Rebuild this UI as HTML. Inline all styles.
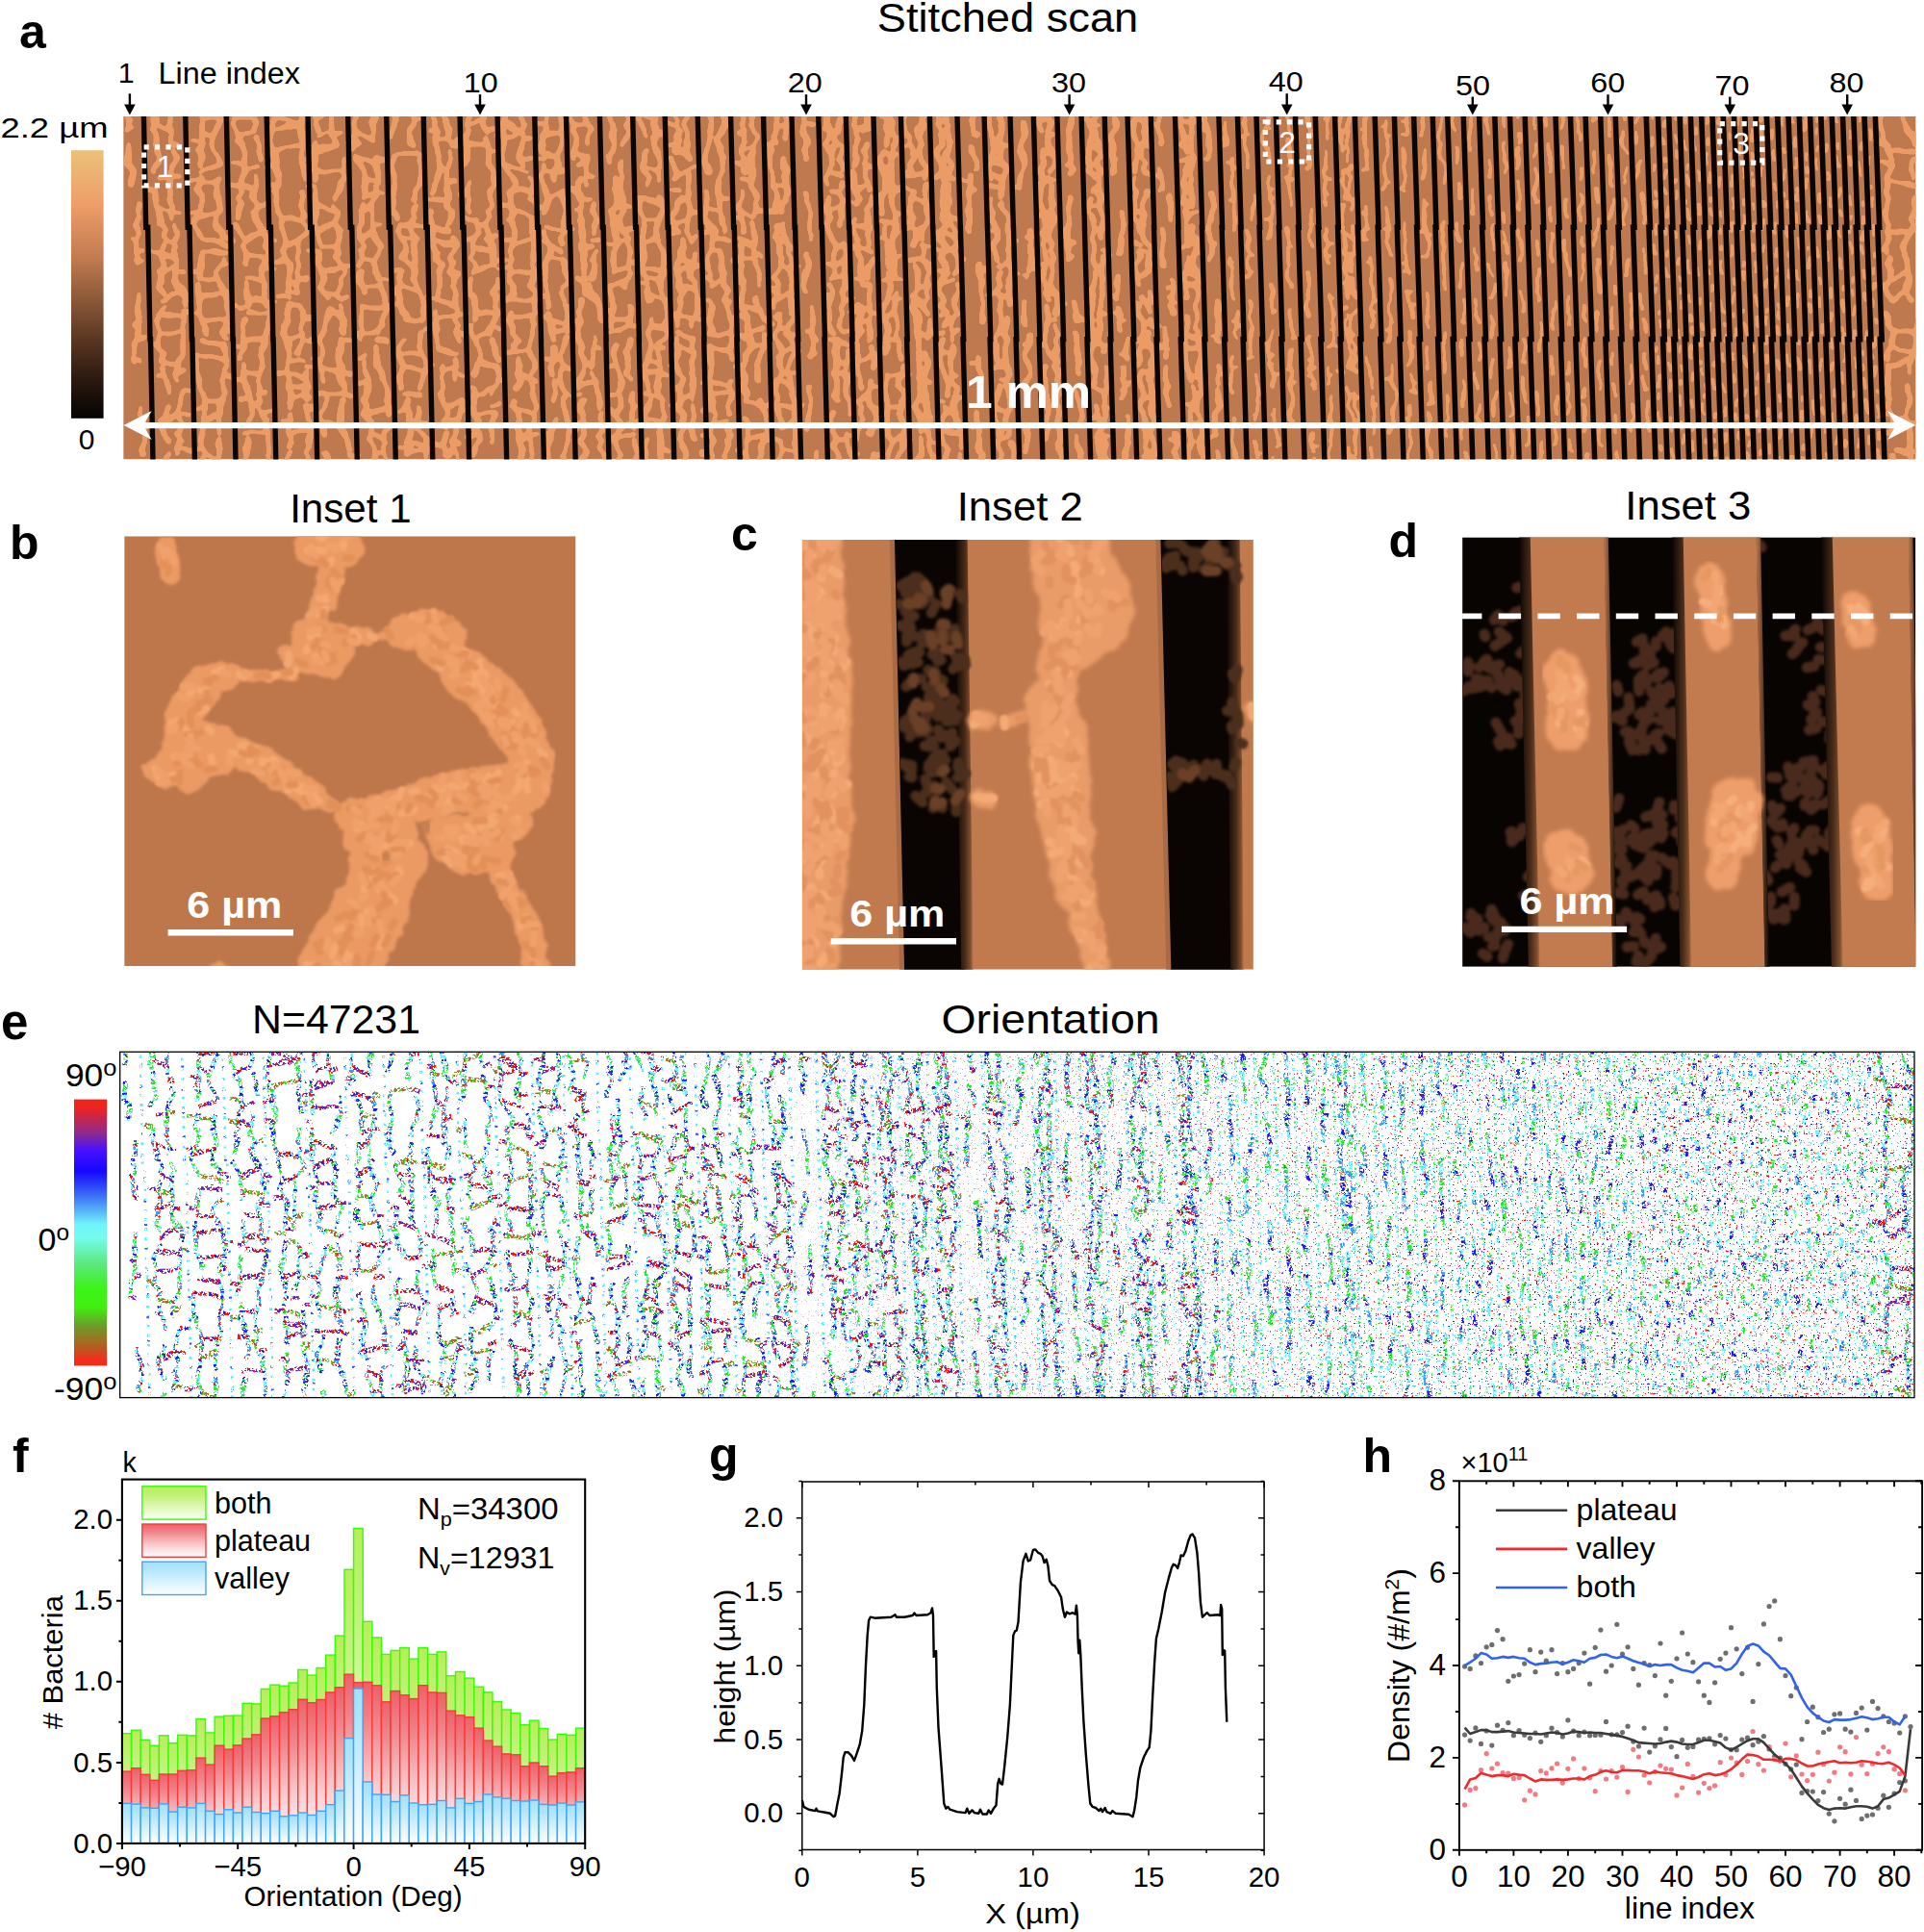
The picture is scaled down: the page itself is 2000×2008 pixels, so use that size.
<!DOCTYPE html>
<html lang="en"><head><meta charset="utf-8"><title>Figure</title>
<style>html,body{margin:0;padding:0;background:#fff}svg{display:block}text{font-family:"Liberation Sans",Arial,Helvetica,sans-serif}</style>
</head><body>
<svg width="2000" height="2008" viewBox="0 0 2000 2008">
<rect width="2000" height="2008" fill="#fff"/>
<defs><clipPath id="ca"><rect x="128.2" y="121.0" width="1863.4" height="356.4"/></clipPath><filter id="wob" filterUnits="userSpaceOnUse" x="100" y="100" width="1920" height="400"><feTurbulence type="fractalNoise" baseFrequency="0.045" numOctaves="2" seed="3"/><feDisplacementMap in="SourceGraphic" scale="10" xChannelSelector="R" yChannelSelector="G"/><feGaussianBlur stdDeviation="1.1"/><feComponentTransfer><feFuncA type="linear" slope="5" intercept="-2"/></feComponentTransfer></filter><path id="nv0" d="M132.6 109.1L132.8 116.2M132.8 116.2L132.9 121.4M132.9 121.4L133.4 128.9M134.1 163L135.3 171.1M135.6 187.2L135.6 190.8M142.2 232.6L146 241.6M143.3 257.2L142.9 262.9M145.1 269.3L143.5 273.5M145.1 323.2L144.8 330.1M140.7 356.3L140.2 364.6M140.4 371.7L140.4 374.6M148.1 438.6L147.5 445.7M149.2 452.1L147.2 461M162.2 143L164.4 150M161.2 206L162.8 213M164.9 234L171 241M171 241L167.9 248M170.7 318L166.5 325M166.5 325L164 332M166.7 346L165.7 353M167.9 381L171.7 388M171.7 388L173.3 395M173.3 395L174.7 402M175.1 423L171.9 430M172.6 451L175.3 458M178.2 115L175.6 122M177.6 136L178 143M178 143L178 150M180.6 157L184.3 164M177.6 220L177.7 227M182.6 248L180.7 255M180.7 255L180.9 262M180.9 262L183.9 269M184.1 276L182 283M190.6 325L190.3 332M190.3 332L189.6 339M189.6 339L188.8 346M186.4 374L184.7 381M183.4 388L186.1 395M191.7 409L190.6 416M190.6 416L188.5 423M185.3 430L185.1 437M187.6 444L184.7 451M188.3 458L185.4 465M210 136L210.2 143M210.2 143L210.3 150M211.1 185L209.2 192M209.2 192L205.2 199M211.1 262L209.4 269M203.9 304L207.8 311M205.5 325L209.4 332M209.4 332L214.1 339M205.8 374L205.9 381M205.9 381L206.1 388M212.2 437L211.2 444M228.8 122L226.3 129M226.3 129L224.3 136M224.3 136L222.2 143M226.8 185L222.7 192M224.7 199L228.5 206M232.5 269L229 276M229 276L226 283M226 283L226.3 290M228.2 297L232.4 304M236 325L235.7 332M235.7 332L236.2 339M233 360L237 367M237 367L237.4 374M233.7 409L230.2 416M227 423L227.3 430M247 143L250.7 150M252.2 157L252.9 164M252.9 164L253.1 171M250.6 185L250.5 192M244.1 234L250.3 241M256.9 269L257.1 276M254.9 297L254.6 304M254.6 304L257.8 311M253.4 346L252.7 353M250.1 367L248.3 374M252.8 388L252.4 395M252.4 395L253.7 402M256.7 409L260 416M260 416L260.5 423M265.8 115L264.2 122M264.2 122L266.4 129M266.4 129L262.7 136M270.5 157L272.6 164M267.7 192L264.3 199M266.1 213L264.3 220M273.7 241L275.9 248M275.9 248L273.5 255M276.4 262L276.6 269M274.5 276L273 283M274.2 290L277.2 297M272.5 360L271.7 367M271.3 381L269.8 388M269.8 388L268.8 395M268.8 395L271.7 402M272.5 430L276.9 437M277 451L278.9 458M278.9 458L281.1 465M278.9 472L279.4 479M286.2 122L282.9 129M288.3 171L288.4 178M293.1 227L292.6 234M296.9 255L294.6 262M294.6 262L296.8 269M299.4 283L299.5 290M299.5 290L299.7 297M299.7 297L299.8 304M298.1 325L299.5 332M301.5 367L299.3 374M299.3 374L298.8 381M299.9 472L296.9 479M314.6 150L314.9 157M315.7 171L315.8 178M316.7 220L313.4 227M310.9 262L307.9 269M308 276L308.2 283M308.2 283L310.2 290M310.2 290L309 297M315.8 332L313.3 339M316.3 346L315.7 353M315.7 353L313.2 360M317.2 395L318 402M320.2 430L323.3 437M323.3 437L323.5 444M325.4 115L325.6 122M327.7 129L331.7 136M327.3 178L327 185M329.2 220L329.4 227M329.4 227L328.1 234M328.1 234L329.8 241M332 269L330.8 276M330.8 276L333.6 283M337 290L334.8 297M338.9 304L339 311M341.5 325L341.3 332M337.6 339L336 346M332.6 360L333.7 367M332.9 374L333.1 381M333.1 381L336.6 388M336.6 388L337.4 395M339.9 416L338.1 423M338.1 423L334.5 430M334.3 437L335.3 444M347.4 136L347.4 143M357.2 164L357.3 171M357.3 171L357.5 178M354 192L352.5 199M352.5 199L350.2 206M351.2 220L351.4 227M351.4 227L348.6 234M352.5 248L350.2 255M352.4 262L349.9 269M355.1 297L350.9 304M352.9 318L353.1 325M354.8 353L353.2 360M357.1 402L357 409M354 444L357 451M357 451L361 458M369.8 122L367.3 129M367.3 129L368.5 136M370.9 150L367.9 157M371.4 164L375.4 171M375.4 220L374.8 227M373.5 241L372.7 248M372.7 248L377.4 255M377.1 297L379 304M376 318L374.8 325M377.8 346L374 353M380.1 374L378.4 381M378.4 381L378.9 388M381.4 402L380.4 409M380.4 409L378.1 416M378.1 416L381.2 423M381.2 423L379.8 430M379.8 430L384.3 437M385.5 444L383.3 451M387.2 472L387.3 479M385.6 115L389.4 122M388.2 136L386.6 143M390.6 164L392.9 171M392.4 178L392.2 185M392.2 185L388.1 192M389.9 199L389.7 206M389.9 241L391.4 248M391.4 248L395.5 255M390.5 269L390.7 276M390.7 276L390.8 283M390.8 283L393.4 290M400.1 311L402.1 318M398.6 325L397.4 332M397.4 332L396.4 339M393 374L393.2 381M403.4 409L403.8 416M410 122L408.8 129M408.5 185L408.7 192M409 206L409.2 213M409.2 213L409.3 220M417.9 283L415.2 290M415.2 290L415.7 297M416.7 311L418.1 318M419.5 325L423.3 332M416.1 360L414.2 367M421.7 423L424.4 430M432.2 122L429.9 129M425.9 136L426.7 143M433.2 164L436 171M436 171L436.1 178M433.4 199L431.7 206M427.9 234L428.9 241M429.4 262L429.5 269M431.9 283L430 290M433.3 297L436.7 304M439 318L437.2 325M438.6 346L437.3 353M441.8 374L442.2 381M442.2 381L439.3 388M439.3 388L437.6 395M438.1 451L442.1 458M455.1 171L456.7 178M447.9 220L448 227M448 227L449.1 234M450 255L454 262M455.5 283L456.7 290M459 297L457.5 304M458 395L460.3 402M460.3 402L458.3 409M463 423L463.9 430M462.3 437L464.2 444M464.4 451L464.1 458M462.2 465L462.6 472M462.9 122L464.5 129M464.5 129L467.2 136M467.3 171L464.2 178M464.7 199L465.4 206M465.4 206L465 213M465 213L469.2 220M469.2 220L468.2 227M468.2 227L465.5 234M469.3 248L473.4 255M470.4 262L467.6 269M470.4 276L468.1 283M474 374L477.5 381M476.6 437L474.6 444M474.1 451L472.1 458M485.3 122L483.7 129M484 143L484.2 150M487.4 164L484.7 171M488.6 192L485.3 199M485.3 199L487.3 206M487.3 206L486.7 213M492.4 227L495.4 234M493.6 262L489.2 269M493.2 318L493.4 325M493.4 325L492.9 332M489.8 339L490 346M495.3 381L491.3 388M491.3 402L491.5 409M491.7 416L492.6 423M492 430L494.9 437M494.9 437L492.3 444M496.4 451L497 458M506.1 115L504.7 122M502.8 129L505.6 136M509.7 171L513 178M513 178L512.7 185M510.5 213L506.5 220M506.5 220L510 227M510 227L506.2 234M506.2 234L508.5 241M508.5 241L505.7 248M510.5 262L513.4 269M515.2 297L512.7 304M510.8 339L508 346M517.9 388L519.4 395M519.4 395L516.4 402M516.4 402L512.4 409M513.6 430L511.9 437M510.3 444L511.2 451M523.3 129L523.6 136M523.4 157L523.5 164M523.5 164L525.6 171M531.7 185L534.3 192M536.6 241L533.2 248M530.7 262L531 269M528 276L529.1 283M528.7 332L532.7 339M534.8 360L535.8 367M541 115L541.5 122M545.3 129L542.7 136M545.7 143L541.8 150M548.3 185L552.1 192M552.3 199L551.2 206M554.4 241L554.6 248M554.9 262L553.8 269M555.1 290L551.7 297M556.1 311L556.2 318M552.4 346L550.4 353M552.9 402L552.1 409M555.2 416L558.6 423M558.6 423L555.2 430M555 437L550.6 444M551.1 451L553.1 458M552.6 472L551.4 479M564.5 143L564 150M564 150L561.9 157M567 171L565.8 178M564.9 192L568.2 199M568.2 199L571.2 206M573.6 262L569.2 269M566 283L567.9 290M569.1 311L568.5 318M575.6 346L575.7 353M576 367L576.2 374M576.7 395L576.2 402M576.2 402L577.1 409M575.6 444L574 451M574 451L572.7 458M572.7 458L571.3 465M583.8 136L583.9 143M584.1 150L582.2 157M579.4 171L576.7 178M576.7 178L576.8 185M584.6 199L583.2 206M585.6 213L585.8 220M585.8 220L586 227M586 227L586.1 234M583.9 248L587 255M586.8 269L585.8 276M587.6 311L588.1 318M588.1 318L589.4 325M589.4 325L588.7 332M589.7 339L589.9 346M583.9 367L582.4 374M586.3 381L582.7 388M585.1 402L589.7 409M589.7 409L586.9 416M586.5 423L588.4 430M588.4 430L590.3 437M590.3 437L592.2 444M592.4 451L590.2 458M584.8 472L586.7 479M595.8 136L597.9 143M597.9 143L597 150M597 150L597.1 157M601.1 199L604.7 206M605.1 220L605 227M605 227L604.7 234M604.7 234L604.3 241M607.8 290L608 297M605.2 318L603.4 325M603.4 325L604.1 332M603.9 360L602.9 367M602.9 367L606.3 374M604.9 388L601.5 395M605.9 465L609.2 472M609.2 115L609.4 122M616 136L613.8 143M620.1 227L618.1 234M617.6 353L616.1 360M619.6 395L619.4 402M626.6 430L626.5 437M621.8 451L625.9 458M625.9 458L623.5 465M636.5 143L638 150M635.5 157L631.3 164M638.9 185L639 192M638.8 318L636.5 325M640 360L637.4 367M637.4 367L638.4 374M638.4 374L640.6 381M643.1 388L644.8 395M644.8 395L645 402M645 402L643.1 409M643.1 409L645.3 416M645.5 444L641.8 451M638.1 458L641 465M651.1 129L652.8 136M652.8 136L650.6 143M650.6 143L648 150M646.2 171L645.3 178M645.3 178L645.4 185M645.4 185L645.6 192M646 206L646.1 213M652.3 248L652.3 255M656.6 262L656.5 269M656.5 269L653.9 276M651.8 290L649.1 297M651.2 388L654.6 395M657.1 416L660.7 423M661.7 465L661.9 472M670.7 136L671.8 143M672.2 157L672.4 164M668.8 171L669 178M672.9 185L671.5 192M665.4 220L669.9 227M669.1 241L667.7 248M668.6 255L667.3 262M667.3 262L670 269M670 269L668.5 276M668.5 276L668.3 283M672.7 290L672.4 297M677.2 332L677.6 339M677.6 339L675 346M670.1 381L670.3 388M670.3 388L672.4 395M672.4 395L674.5 402M674.9 416L672.4 423M672.4 423L671.3 430M671.3 430L671.7 437M672.2 465L672.4 472M679.8 115L681.6 122M679.6 129L684.1 136M684.1 136L680.5 143M678.7 150L682.5 157M682.5 157L684.4 164M684.2 206L688.3 213M683.6 234L681.5 241M681.5 241L682.5 248M689.6 276L690.9 283M690.9 283L686.7 290M686.7 290L687.8 297M691.8 318L691.9 325M692.1 332L691.6 339M684.6 374L685.1 381M685.1 381L685 388M688.5 423L689.1 430M686.2 437L686.4 444M686.4 444L686.6 451M686.9 465L687.1 472M705.4 136L703.2 143M702.1 171L705.1 178M707.2 206L703.2 213M702.3 220L700 227M708.1 248L708.8 255M709.5 269L706.1 276M706.1 276L704 283M710.4 304L706.8 311M704.2 325L702.6 332M702.6 332L702.8 339M710.4 395L707.5 402M707.8 409L707.9 416M707.9 416L706.9 423M707.9 437L711.6 444M711.1 472L709.3 479M716.3 115L715.2 122M713.5 136L714 143M712.6 150L712.4 157M712.4 157L715.8 164M717.2 192L716.5 199M716.7 227L716.1 234M720.2 269L722.6 276M722.9 304L724.7 311M724.7 325L722.1 332M719.2 402L719.8 409M719.7 423L721 430M711.6 444L720.1 437M737.1 115L738.6 122M738.6 122L739.4 129M733.3 206L732.9 213M740.6 255L740 262M735.5 276L739.5 283M737.8 325L736.7 332M736.7 332L738.9 339M737.3 367L737.5 374M738 395L738.2 402M738.4 409L738.7 416M741.9 430L741.3 437M739.3 444L739.5 451M739.8 465L742.2 472M752.9 115L753.9 122M753.9 122L754.5 129M748 185L747.6 192M747.8 199L748.7 206M748.1 213L748.3 220M754.9 304L753 311M758.1 402L761.6 409M756.8 423L758.1 430M755.3 444L757.4 451M755.2 472L755.4 479M768.3 115L772.2 122M771 143L770.6 150M770.2 206L767.3 213M772 255L771 262M769.3 269L771.3 276M770.3 304L770.4 311M779.9 346L779.7 353M772.3 381L772.1 388M772.1 388L776.3 395M776.3 395L772.5 402M772.5 402L776.4 409M777.7 444L779 451M779 451L775.7 458M781.7 122L780.7 129M787.7 143L783.9 150M783.9 150L783.4 157M781.2 171L781.3 178M781.5 185L781.7 192M781.7 192L785.4 199M785.4 199L788.3 206M783.6 241L783.8 248M784.2 262L784.3 269M784.3 269L784.5 276M785.4 311L789.1 318M794.9 360L791.2 367M791.2 367L790.4 374M788.9 416L792.5 423M805.6 129L806 136M806 136L804.4 143M800.8 157L800.9 164M800.9 164L800 171M804.8 192L807.7 199M807.9 206L808.1 213M808.1 213L804.4 220M809.4 241L805.1 248M805.1 248L809.2 255M810.3 276L808.4 283M809.2 325L811.6 332M812.6 388L808.2 395M812.4 465L812.5 472M817.6 129L817 136M819.4 192L820 199M820 199L817.5 206M814.9 248L818.9 255M822.4 269L822.5 276M822.7 283L822.9 290M822.9 290L821.3 297M823.3 304L820.8 311M824 332L821.2 339M824.6 367L821.2 374M818.7 381L818.2 388M818.2 388L820.4 395M824.4 409L825.9 416M826.2 430L826.4 437M826.8 451L827 458M838.6 116.7L836.2 121.9M835.3 135.9L837.7 144M837.7 144L838.5 149.5M838.8 200.2L839 208.8M842.9 245L841.5 250.6M836.3 289.9L836.5 297.4M836.5 297.4L838.6 301.7M843.6 343.4L843.7 349.2M843.7 349.2L845.8 354.3M841.2 401.8L841.4 409M848.5 524.8L849.6 532M849.6 532L847.6 537.8M862 143L858.9 150M858.9 150L862.4 157M865.2 304L863.9 311M863.9 311L861.6 318M861.8 325L862 332M868.7 360L868 367M868 367L868.9 374M869.9 395L870.1 402M870.1 402L866.9 409M874.1 115L874.3 122M875.1 199L876.6 206M876.6 206L872.4 213M873.8 220L875.1 227M878.4 269L878.9 276M877.4 304L879.9 311M881.3 381L877.7 388M879.5 402L878.7 409M882.2 416L882.4 423M879.7 451L881.6 458M881.6 458L882.8 465M883.8 472L883.9 479M862.4 157L870.3 150M891.2 136L891.8 143M886.2 185L886.4 192M886.4 192L888.7 199M888.7 199L890.9 206M888.1 241L891.6 248M893.1 325L891.8 332M891.8 332L890.8 339M895 346L890.7 353M891.2 374L891.4 381M891.4 381L891.6 388M897.1 423L894.7 430M893.9 451L893.5 458M901.6 115L902.9 122M903 129L899.2 136M901.6 150L898.7 157M898 185L899.6 192M899.6 192L902.3 199M902.4 283L901.2 290M902.8 346L903.6 353M909.7 374L907.5 381M907.1 402L904 409M904.2 416L906.8 423M906.8 423L908.8 430M909.5 472L906 479M919.5 115L919.7 122M919.9 129L920.1 136M917.8 157L916.5 164M916.5 164L915 171M915.6 213L915.8 220M920.4 234L919.5 241M922.7 262L924.1 269M924.7 290L922.8 297M923.3 304L923.3 311M923.3 311L920.1 318M922.2 339L921.8 346M921.8 346L919.2 353M919.2 353L923.4 360M923.4 360L920.3 367M922.9 423L922.4 430M926.3 458L923.7 465M923.7 465L922.5 472M924.9 122L926.8 129M929.8 143L928.2 150M927.7 213L928.4 220M932.2 234L932 241M928.6 248L928.8 255M928.8 255L929 262M931.1 283L929.8 290M930.7 325L932.6 332M936.4 416L937.9 423M940.1 444L939.1 451M938.1 458L938.4 465M941.9 129L942 136M950 199L946.6 206M947.1 234L951.3 241M951.5 276L953.5 283M953.5 283L953.7 290M953.7 290L953.9 297M953.9 297L950.1 304M951.3 318L954.3 325M954.8 353L955 360M955 360L955.2 367M955.4 374L955.6 381M955.6 381L955.8 388M953.1 416L951.1 423M957.4 444L957.6 451M957.8 458L958 465M958 465L958.2 472M954.8 143L958 150M955.2 157L958.1 164M957.8 241L957.9 248M958.1 255L961.3 262M965.5 283L962.8 290M967.8 346L965.9 353M964.4 381L961.3 388M962.2 423L962.4 430M963 444L965.5 451M953.4 311L960.2 318M955.8 388L964.4 381M955.3 402L961.5 395M975 157L978.1 164M979.6 171L979.8 178M980.4 199L980.6 206M980.7 213L980.9 220M981.3 234L978.4 241M976.6 297L976.8 304M981 311L978.3 318M978.3 318L983 325M980 353L977.8 360M978 367L978.2 374M978.2 374L979.1 381M984.2 395L985.6 402M980.3 451L980.7 458M982.8 472L981.1 479M984.3 157L984.5 164M986 220L986.2 227M991.7 241L990.1 248M990.1 248L993.9 255M994.5 276L991 283M994.2 297L995.2 304M991.7 332L989.6 339M991.2 346L989.3 353M989.9 374L990.1 381M990.1 381L990.5 388M990.5 388L990.5 395M983.1 423L991.5 430M1011.2 124.6L1012.2 130.5M1012.6 165.5L1013.8 174.5M1006.4 211.3L1005.9 220.2M1019.1 283.8L1020.1 290M1017.3 378.1L1017.1 386.1M1017.1 386.1L1018.5 394.6M1014.4 436.9L1017.2 444.5M1032.1 227L1034.5 234M1034.5 234L1037.1 241M1036.2 248L1032 255M1039.4 297L1035.1 304M1040.4 332L1040.6 339M1040.8 346L1035.8 353M1037.1 360L1036.5 367M1037.2 409L1036 416M1036.4 430L1036.8 437M1036.8 437L1041.1 444M1042.2 136L1039.6 143M1040.2 164L1044.3 171M1046.3 178L1043.3 185M1043.3 185L1042.7 192M1042.7 192L1041.2 199M1041.2 199L1041.4 206M1045.3 220L1048.1 227M1049.2 262L1049.3 269M1047.5 297L1049.3 304M1045.8 339L1045.5 346M1045.5 346L1047.6 353M1047.6 353L1045.1 360M1045.1 360L1045.3 367M1045.3 367L1045.6 374M1046.5 381L1049.2 388M1049.2 388L1046.2 395M1046.6 409L1048.1 416M1047.6 430L1047.4 437M1047.4 437L1047.6 444M1051.6 458L1054.3 465M1071 265.6L1071.5 272.3M1071.5 272.3L1069.9 277.9M1065.4 329.3L1063.6 336.7M1069.4 354.5L1068.5 360.9M1068.5 360.9L1066.4 368.3M1066.4 368.3L1068 376.8M1068 376.8L1069.3 383.5M1082.7 192L1081.6 199M1081.8 206L1084 213M1087.1 234L1083.2 241M1084 283L1084.2 290M1084.2 290L1086.6 297M1085.5 353L1085.4 360M1086.6 402L1086.9 409M1086.9 409L1087.1 416M1087.7 437L1092.2 444M1089.6 115L1090.5 122M1090.5 122L1091.8 129M1091.8 129L1089.8 136M1095.2 164L1095.2 171M1093.1 227L1095 234M1092.1 241L1092.3 248M1093.8 262L1094.3 269M1093.1 276L1093.8 283M1100.5 346L1098.7 353M1097.3 367L1097.9 374M1100 388L1099 395M1099 395L1101.3 402M1101.3 402L1101.5 409M1101.5 409L1100.3 416M1100.9 423L1102.1 430M1099.8 465L1103.1 472M1103.1 472L1103.6 479M1111.5 133.3L1112.6 142M1114.9 175.5L1113.2 179.6M1111.8 206.1L1112 212.7M1109.8 226.2L1109.6 233.4M1109.9 246L1110.1 253.2M1110.1 253.2L1110.3 258.8M1116.8 354.7L1119.4 363.6M1122.5 496.5L1120.2 504.1M1120.2 504.1L1118.3 512.5M1129 115L1131.7 122M1131.7 122L1132.6 129M1130.3 164L1134 171M1134.9 206L1131.8 213M1131.8 213L1132 220M1135.2 227L1137.5 234M1138.8 283L1139 290M1139 290L1137.3 297M1134.5 311L1134.7 318M1134.7 318L1135 325M1135.6 346L1138.4 353M1138.4 353L1137.4 360M1135.4 367L1135.6 374M1136.2 381L1136 388M1136 388L1136.7 395M1139.6 171L1143.3 178M1143.3 178L1140 185M1141.5 199L1144.8 206M1146.4 227L1146.6 234M1147.7 276L1146.8 283M1146.8 283L1148.1 290M1144.6 346L1144 353M1148.6 360L1149 367M1149 381L1149.6 388M1149.6 388L1150.4 395M1150.8 409L1149.6 416M1146.9 451L1147.1 458M1147.1 458L1148 465M1134 150L1142.6 157M1132 178L1140 185M1136.5 199L1140.4 192M1137.4 360L1144 353M1156.5 109.9L1156.7 117.5M1156.7 117.5L1158.5 124.3M1160.2 130.3L1158.9 136.8M1166.1 227.5L1166.1 234.2M1160.2 287.3L1160.4 293.9M1164.8 326.4L1164 332.3M1166.2 391.8L1167.2 398.3M1167.2 398.3L1168.3 405.3M1171.8 433.4L1171.9 438.4M1171.9 438.4L1171.8 444.2M1173.7 452.3L1173.2 459.5M1170.1 475.8L1170.1 482M1170.1 482L1172.4 484.6M1177.5 129L1177.8 136M1177.8 136L1180.3 143M1180.3 143L1183.1 150M1180.3 227L1184.6 234M1182.6 276L1181.7 283M1187 332L1188.5 339M1188.1 346L1186.2 353M1186.2 353L1188.3 360M1188.3 360L1185.2 367M1187.5 374L1185.2 381M1188.2 388L1184.5 395M1189 430L1190.6 437M1191.2 458L1189.1 465M1189.1 465L1191 472M1187.7 157L1188.1 164M1188.1 164L1192.5 171M1193.9 206L1189.6 213M1194.3 269L1195.8 276M1195.8 276L1196 283M1193.6 318L1197.2 325M1195 346L1194.1 353M1196.7 360L1197.5 367M1197.8 374L1198 381M1198 381L1198.2 388M1199.1 416L1197.8 423M1197.6 430L1199.7 437M1197.7 444L1196.7 451M1186.4 311L1193.6 318M1205 106.3L1205.3 114M1207 121.6L1205.4 128.8M1204.6 135.5L1206.9 141.6M1205.4 175.9L1205.6 183.9M1205.6 183.9L1205.9 192.5M1210.5 270.8L1210.4 277.9M1217.6 302.3L1218.5 309.6M1218.5 309.6L1217.4 317.5M1219.9 322.9L1220 325.7M1210.4 352.5L1209.7 359.3M1210.5 380.9L1210.7 388.3M1229.7 206L1233.5 213M1231.1 220L1235.1 227M1235.3 234L1235.1 241M1236 269L1233.8 276M1232 297L1231.7 304M1232.2 353L1232.4 360M1232.7 367L1232.9 374M1239.1 402L1239.3 409M1235.4 444L1235.2 451M1241.3 122L1239.4 129M1237.9 136L1236.6 143M1239.1 164L1237.4 171M1237.4 171L1237.6 178M1238.3 199L1238.5 206M1240.1 269L1240.3 276M1246 290L1244.2 297M1244.2 297L1246.2 304M1246.2 304L1245.4 311M1242.9 318L1243.4 325M1244.7 332L1242.2 339M1242.2 339L1245.1 346M1246 353L1245.3 360M1248.5 402L1248.2 409M1248.2 409L1245.5 416M1245.5 416L1245.5 423M1245.5 423L1246.2 430M1247.2 458L1247.1 465M1247.1 465L1249.4 472M1249.4 472L1250.9 479M1238.3 423L1246.2 430M1253.1 128.5L1253.2 134.2M1253.2 134.2L1255 142.7M1259.2 221.8L1258.7 228.2M1257 234.9L1256.2 241M1256.2 241L1256.3 247.6M1265.7 318.5L1266.3 326.6M1267 380.5L1267.1 386M1264.8 411.7L1267.2 417.7M1267.2 417.7L1267.8 423.6M1265.7 469.6L1266 477.4M1266 477.4L1268.6 483.3M1267.2 489.6L1268.1 498.6M1268.2 511.7L1270.1 517.8M1956 143L1960.8 150M1967.3 164L1967.1 171M1960.5 185L1961.4 192M1961.2 213L1959.5 220M1965 234L1962.9 241M1962.9 241L1965.6 248M1965.6 269L1961.5 276M1962.6 325L1963.1 332M1961.3 339L1965.9 346M1965.9 346L1965.4 353M1961.7 402L1961.9 409M1961.9 409L1963.9 416M1990.2 164L1986.5 171M1986.5 171L1986.3 178M1990.1 213L1992.3 220M1990.9 234L1984.7 241M1984.7 241L1981.5 248M1980.6 269L1980.3 276M1981.2 283L1985.2 290M1983.9 297L1981.4 304M1981.4 304L1985.3 311M1994.8 339L1991.4 346M1986.1 381L1985.4 388M1985.4 444L1984.9 451M1984.9 451L1985.2 458M1985.2 458L1985.5 465"/><path id="nv1" d="M133.6 156.7L134.1 163M137.4 178.2L135.6 187.2M146 241.6L143.7 249.2M144.7 315.4L145.1 323.2M142.9 336.9L141.4 342.1M141.4 342.1L142.2 351M142.2 351L140.7 356.3M140.2 364.6L140.4 371.7M147.2 467.3L149.5 472.3M160.3 122L161.6 129M161.6 129L158 136M158 136L162.2 143M164.4 150L164.2 157M164.2 157L166.6 164M166.6 164L162.9 171M161.4 199L161.2 206M168.3 290L165.1 297M165.1 297L169.8 304M164.1 339L166.7 346M176.1 472L173.1 479M184.3 164L180.4 171M177 192L177.2 199M181.1 213L177.6 220M182.2 234L185.3 241M185.3 241L182.6 248M183.9 269L184.1 276M182.3 290L185.9 297M185.9 297L190 304M188.8 346L187.7 353M187.7 353L189.4 360M188.9 367L186.4 374M209.9 129L210 136M208.6 164L208.3 171M205.2 199L209.3 206M209.3 206L206 213M206 213L205.9 220M202.9 234L207.1 241M207.1 241L211.6 248M210.1 276L209.3 283M207.9 318L205.5 325M214.1 339L213.8 346M206.2 395L207 402M207 402L210.7 409M209.9 451L207.5 458M207.5 458L207.7 465M207.7 465L212.1 472M225.3 115L228.8 122M222.2 143L221.4 150M228.5 206L228.4 213M228.4 213L229.4 220M229.4 220L224.9 227M224.1 234L230 241M235.8 318L236 325M232.2 346L235.3 353M237.4 374L235.7 381M230.2 416L227 423M228.2 437L227.4 444M227.8 465L228 472M246.7 122L243 129M243 129L245.1 136M245.1 136L247 143M250.7 150L252.2 157M248.4 220L247.2 227M253.4 248L250.7 255M250.7 255L254.4 262M257.8 311L257.9 318M256.5 332L254.3 339M254.3 339L253.4 346M252.7 353L252.9 360M252.9 381L252.8 388M256.8 465L258.4 472M258.4 472L254.3 479M264.3 199L262.4 206M262.4 206L266.1 213M269.7 409L272.3 416M269 423L272.5 430M276.9 437L276.6 444M276.6 444L277 451M283.5 157L286.3 164M288.4 178L289.8 185M289.8 185L289.6 192M289.6 192L286.5 199M286.8 213L289.2 220M295.1 241L297.5 248M299.5 332L295.9 339M295.9 339L295.3 346M298.5 388L299.8 395M299.1 402L300.9 409M301.3 430L303 437M302.1 444L302.2 451M311.1 129L311.9 136M311.9 136L312.5 143M313.6 199L315.5 206M315.5 206L314.6 213M313.4 227L317 234M317.5 241L313.6 248M313.6 248L311.6 255M311.6 255L310.9 262M307.9 269L308 276M309 297L308.7 304M315.4 325L315.8 332M313.3 339L316.3 346M318.8 423L320.2 430M328.4 171L327.3 178M327.5 206L330.7 213M331.1 262L332 269M333.7 367L332.9 374M336.8 472L341.5 479M345 115L345.2 122M347.4 143L350.7 150M357.6 185L354 192M350.2 255L352.4 262M354.2 276L358.4 283M358.4 283L354.5 290M354.5 290L355.1 297M355.5 332L358.1 339M354.9 381L355.9 388M364.7 465L364.6 472M367.6 143L370.9 150M379.4 199L379.6 206M374.8 227L375.4 234M375.4 234L373.5 241M374.3 262L377.7 269M377.7 269L375.8 276M378.9 388L381.9 395M381.8 458L386.3 465M386.3 465L387.2 472M389.4 122L387.7 129M388.1 192L389.9 199M387.8 213L388 220M388 220L388.1 227M388.1 227L388.3 234M388.3 234L389.9 241M392.5 262L390.5 269M398.2 304L400.1 311M393.2 381L397.3 388M397.6 395L402.1 402M404.7 423L402.1 430M397.7 465L398.5 472M409.6 171L408.4 178M408.7 192L408.9 199M414.2 241L416.4 248M420.9 255L421.7 262M421.7 262L418.2 269M412.6 304L416.7 311M414.2 367L416.9 374M416.9 374L420.1 381M424.4 430L425.8 437M425.8 437L426 444M421.8 458L424.9 465M424.9 465L423.4 472M429.9 129L425.9 136M426.7 143L428 150M436.4 192L433.4 199M433.4 248L429.8 255M429.5 269L429.7 276M436.7 304L439.5 311M437.3 353L436.9 360M451.2 122L452.7 129M453.3 143L451.8 150M456.7 178L455.4 185M455.4 185L451.5 192M454.8 269L459.4 276M459.4 276L455.5 283M451.6 325L454.2 332M454.2 332L451.9 339M455 346L454.5 353M454.5 353L455 360M463.9 430L462.3 437M462.8 115L462.9 122M467.2 136L466.1 143M473.4 255L470.4 262M467.6 269L470.4 276M468.1 283L472.7 290M472.7 290L472.9 297M474.3 304L473 311M473 311L476 318M476 318L475.8 325M474.3 332L478.2 339M478.2 339L474.7 346M474.7 346L477.1 353M477.5 381L473.7 388M472.2 465L474.8 472M487.7 115L485.3 122M486.7 157L487.4 164M486.7 213L487.6 220M493.3 255L493.6 262M489.2 269L493.9 276M490 290L488.9 297M492.5 311L493.2 318M496.5 360L499.9 367M504.7 122L502.8 129M506 150L508.9 157M508.9 157L509.9 164M513.4 192L509.5 199M509 206L510.5 213M505.7 248L509.8 255M509.8 255L510.5 262M514.3 332L510.8 339M510.8 353L515.1 360M534.3 192L530.4 199M532 206L532.1 213M532.1 213L534 220M534 220L529.8 227M532.3 255L530.7 262M531 269L528 276M529.1 283L528.9 290M528.9 290L533.2 297M536.6 430L538.1 437M541.9 465L540.5 472M540.5 472L542.2 479M541.5 122L545.3 129M541.8 150L541.2 157M541.5 164L543.4 171M552.9 234L554.4 241M551.7 297L555.8 304M555.8 304L556.1 311M555.6 325L552.6 332M552.6 332L556.4 339M552.6 367L556 374M551.6 388L550.8 395M562.6 185L564.9 192M566.7 248L571.3 255M569.2 269L565.8 276M569 297L569.4 304M569.4 304L569.1 311M570.5 472L570.7 479M583.2 115L583.4 122M583.6 129L583.8 136M582.2 157L580.1 164M586.1 234L587.3 241M587.3 241L583.9 248M586.3 283L588.5 290M588.5 290L585.6 297M586 304L587.6 311M588.7 332L589.7 339M590 353L586.4 360M586.4 360L583.9 367M582.9 395L585.1 402M597.6 115L594.4 122M594.4 122L596.8 129M596.8 129L595.8 136M597.1 157L596 164M604.7 206L604.9 213M603.6 255L606.2 262M606.2 262L604.7 269M604.7 269L607.4 276M607.6 283L607.8 290M608 297L607.2 304M603.8 311L605.2 318M604.1 332L601.5 339M601.5 339L600.4 346M600.4 346L601.3 353M606.3 374L607.8 381M607.8 381L604.9 388M602.1 423L606 430M607 437L606.4 444M603 458L605.9 465M613.8 143L610.1 150M610.8 178L610.9 185M610.9 185L611.1 192M614.9 269L618.5 276M614.7 297L615.8 304M623.5 318L624.1 325M619.4 402L619.2 409M626.1 444L621.8 451M623.5 465L626.8 472M634.5 122L637.1 129M637.1 129L637.6 136M639.6 213L636.5 220M636.5 220L637.8 227M640.1 234L640.5 241M640.5 241L641.3 248M637.4 262L636.8 269M636.8 269L637.1 276M637.1 276L637 283M634 297L634.1 304M634.1 304L636.3 311M636.3 311L638.8 318M636.5 325L634.8 332M641 465L642.8 472M646.4 220L646.5 227M646.5 227L646.7 234M646.7 234L647.7 241M647.7 241L652.3 248M653.9 276L654.9 283M655.1 325L653.9 332M653.1 360L650.7 367M650.7 367L654.2 374M659.5 437L657.8 444M661.9 472L658.8 479M663 122L666.7 129M666.7 129L670.7 136M666.7 206L665.7 213M665.7 213L665.4 220M668.3 283L672.7 290M671.4 304L674.1 311M675 346L677.7 353M677.7 353L677.9 360M672.4 374L670.1 381M673.6 458L672.2 465M680.5 143L678.7 150M683.5 178L685.7 185M688.3 213L688.5 220M686.1 227L683.6 234M682.5 248L684.8 255M689.2 262L690.5 269M689.3 311L691.8 318M691.9 325L692.1 332M685.3 402L685.5 409M689.5 416L688.5 423M689.1 430L686.2 437M686.6 451L689.5 458M689.5 458L686.9 465M702.8 129L705.4 136M704.2 150L703.2 157M701.3 234L704.8 241M707.9 262L709.5 269M704 283L706.5 290M706.8 311L706.7 318M705.4 381L705.8 388M710.5 451L709.1 458M710.4 465L711.1 472M711.9 129L713.5 136M714 143L712.6 150M713.9 178L718.3 185M718.3 185L717.2 192M717.1 220L716.7 227M716.1 234L715.3 241M721.2 262L720.2 269M718.4 283L716.6 290M716.6 290L721 297M722.1 332L719.3 339M722 367L718.8 374M718.8 388L719.1 395M738.6 136L739.7 143M739.7 143L737.9 150M737.9 150L734.5 157M735.2 199L733.3 206M742 241L739.8 248M737.9 290L738.9 297M737.1 360L737.3 367M737.8 388L738 395M738.2 402L738.4 409M738.7 416L738.7 423M738.7 423L741.9 430M742.8 458L739.8 465M751.1 136L747.2 143M750.5 171L750.7 178M747.6 192L747.8 199M748.7 206L748.1 213M752.8 283L751.8 290M751.2 297L754.9 304M753 311L757.7 318M758.6 346L760.7 353M760.7 353L760.9 360M758.4 367L761.3 374M757.4 451L754.8 458M756.5 465L755.2 472M772.2 122L770.2 129M770.2 129L773.7 136M773.7 136L771 143M771 199L770.2 206M767.3 213L769.1 220M771.8 234L773.5 241M771 262L769.3 269M770.6 318L773 325M777.1 332L778.9 339M778.9 339L779.9 346M779.7 353L779.3 360M779.3 360L775.8 367M776.4 409L775.7 416M773.4 437L777.7 444M774.3 472L775.3 479M782 115L781.7 122M780.7 129L784.1 136M784.1 136L787.7 143M783.4 157L781.6 164M781.3 178L781.5 185M786.6 213L787.9 220M783.8 248L784 255M784 255L784.2 262M788 290L788.3 297M792.4 325L794.5 332M794.7 346L794.7 353M787.1 388L787.3 395M792.5 472L789.5 479M804 115L805.7 122M804.4 143L805 150M803.5 178L805.3 185M805.3 185L804.8 192M807.7 199L807.9 206M804.3 290L808.4 297M806.1 346L809.5 353M809.5 353L811.2 360M808.3 381L812.6 388M807.7 402L806.5 409M812.3 458L812.4 465M813.9 122L817.6 129M815 171L818.8 178M817.5 206L813.4 213M814 234L814.7 241M814.7 241L814.9 248M819 262L822.4 269M819.9 346L822.7 353M821.2 374L818.7 381M822.9 402L824.4 409M826.4 437L826.6 444M836.5 127.5L835.3 135.9M842 221.9L842.4 229M842.4 229L841.6 238M841.6 238L842.9 245M839.7 275.8L838.2 283.3M842.8 319L843 326.3M843 326.3L845.2 335.1M849.1 470.9L849.3 479.2M847.9 485.3L846.1 492.5M847.5 500.2L849.4 505.4M850.1 517.9L848.5 524.8M862.6 164L863.9 171M862.1 178L858.6 185M859.6 213L860.7 220M863.8 227L861.6 234M861.6 234L861.7 241M864.8 248L866.6 255M867.2 276L867.4 283M862 297L865.2 304M868.8 353L868.7 360M866.9 409L869.4 416M866.7 430L864.4 437M864.4 437L866 444M874.7 157L870.5 164M870.5 164L874.9 171M872.4 213L873.8 220M875.1 227L874.9 234M878.9 276L879.1 283M879.2 297L877.4 304M875.6 318L878.3 325M878.3 325L874.6 332M880.9 367L880.9 374M882.4 423L882.6 430M882.8 465L883.8 472M890.5 164L888.2 171M890.9 262L894.9 269M894.9 269L895.8 276M890.7 353L890.9 360M890.9 360L891.1 367M891.6 388L894.4 395M894.4 395L898 402M892.5 416L897.1 423M898.7 157L901.1 164M903.1 241L903.4 248M903.4 248L903.3 255M903.8 276L902.4 283M901.6 304L901.8 311M901.8 311L902.9 318M903.6 325L902.4 332M902.4 332L902.6 339M902.6 339L902.8 346M906.6 360L909.5 367M909.5 367L909.7 374M911.4 437L907.7 444M920.1 136L920.3 143M921.9 199L918 206M918 206L915.6 213M919 325L919.3 332M919.3 332L922.2 339M921.6 388L920.4 395M920.4 395L920.6 402M920.6 402L920.8 409M922 444L921.9 451M925.7 136L929.8 143M926.3 164L926.8 171M926.8 171L926.4 178M927.9 206L927.7 213M929.4 276L931.1 283M933.5 339L931.4 346M937.7 388L934.2 395M937.9 423L934.3 430M936.4 472L934.4 479M917.8 157L926.3 164M944.1 115L942.1 122M946.6 206L947 213M947.1 220L948.9 227M948.9 227L947.1 234M952.5 248L948.8 255M954.3 325L954.9 332M955.3 346L954.8 353M955.2 367L955.4 374M955.8 388L955.1 395M955.3 402L955.6 409M957.2 437L957.4 444M958.6 122L958.5 129M958 150L955.2 157M962 206L963.8 213M964 220L964.2 227M960.8 234L957.8 241M961.3 262L959.2 269M962.8 290L965 297M963.9 311L960.2 318M960.2 318L963.5 325M961.3 367L963.7 374M963.7 374L964.4 381M961.6 402L961.8 409M966.2 437L963 444M965.5 451L968.4 458M966.9 465L967.5 472M967.5 472L970.9 479M975.7 122L974.2 129M974.2 129L978.2 136M978.2 136L976.3 143M978.6 150L975 157M980 185L980.2 192M980.9 220L978.2 227M978.2 227L981.3 234M977.2 248L981.8 255M978.2 269L980.6 276M979.2 290L976.6 297M976.8 304L981 311M983.9 332L982.5 339M983.1 423L983.8 430M979.9 437L980.1 444M980.1 444L980.3 451M988.1 115L986.5 122M983.7 136L983.9 143M985.5 199L985.6 206M986.2 227L987.1 234M990.6 262L994.2 269M989.6 339L991.2 346M994 409L991.6 416M994 437L997.9 444M997.9 444L998.8 451M980.9 220L986.2 227M1011 116.6L1011.2 124.6M1012.2 130.5L1012.1 137.3M1010.5 152.9L1010.7 158.5M1007.8 181.1L1008 188.9M1006.9 203.8L1006.4 211.3M1005.9 220.2L1006 226.9M1018.8 275L1019.1 283.8M1020.5 303.5L1020.7 310.8M1018.5 394.6L1018 401.6M1016.8 453.1L1018.8 461M1018.8 461L1018.1 467.4M1031.8 136L1033.3 143M1033 150L1034.5 157M1029.6 171L1029.8 178M1040 318L1039.3 325M1039.3 402L1037.2 409M1039 122L1039.9 129M1039.8 150L1041.5 157M1041.5 157L1040.2 164M1044.3 171L1046.3 178M1048.1 227L1048.3 234M1049.3 304L1050.6 311M1048.2 332L1045.8 339M1046.2 395L1046.4 402M1048.1 416L1049.9 423M1054.5 472L1053.7 479M1064.6 125.7L1064.8 133.6M1064.8 133.6L1064.5 142.1M1064.5 142.1L1063.4 147.7M1063.4 147.7L1062 154.8M1064.2 169.6L1062.8 175.7M1062.8 175.7L1060.7 180.7M1070.7 245.8L1070.9 251.8M1069.9 277.9L1068 285.6M1068 285.6L1067.3 288.8M1064.8 314L1065 320.5M1065 320.5L1065.4 329.3M1069.3 383.5L1068.1 390.5M1068.1 390.5L1066 397.5M1066.5 462.9L1066.7 470.9M1084.4 115L1081.5 122M1080.2 129L1082.2 136M1083.7 171L1082.4 178M1081.6 199L1081.8 206M1084 213L1086.2 220M1087.7 227L1087.1 234M1083.2 241L1086.3 248M1084.2 255L1086.5 262M1086.2 276L1084 283M1086.5 304L1090.1 311M1090.5 325L1090.7 332M1086.3 339L1085.8 346M1086.4 395L1086.6 402M1089.8 136L1089.3 143M1095.2 171L1091.4 178M1090.5 185L1093.6 192M1093.6 192L1093.2 199M1092.4 206L1093.9 213M1091.5 220L1093.1 227M1092.3 248L1095.8 255M1093.5 290L1093.7 297M1099.4 311L1099.6 318M1100.1 360L1097.3 367M1096 381L1100 388M1102.9 458L1099.8 465M1082.7 192L1090.5 185M1113.4 163.9L1112.2 169.7M1112.2 169.7L1114.9 175.5M1112 212.7L1111.1 220.5M1111.1 220.5L1109.8 226.2M1110.5 267L1110.5 267.8M1117.8 329.6L1119.9 335.6M1120.7 368.9L1122.1 377.3M1120.2 416.1L1122.8 423.5M1122.8 423.5L1123.7 430.7M1123.5 437.8L1122.7 441.8M1121.7 482.3L1121.9 491M1121.9 491L1122.5 496.5M1117.5 520.9L1119.9 528.8M1134.6 136L1134.2 143M1134 171L1132 178M1137.5 234L1137.6 241M1137.6 241L1135.8 248M1136.7 269L1138.6 276M1135.6 374L1136.2 381M1138.5 423L1137.2 430M1137.2 430L1140.5 437M1142.8 444L1143 451M1143.2 458L1143.4 465M1139.8 122L1138.4 129M1138.4 129L1138.6 136M1146.6 234L1146.7 241M1148.1 290L1147 297M1144.7 304L1143.6 311M1143.6 311L1144.3 318M1144.2 332L1144.4 339M1144.4 339L1144.6 346M1144 353L1148.6 360M1150.4 395L1150.6 402M1150.6 402L1150.8 409M1149.6 416L1146.9 423M1146.5 437L1146.7 444M1158.9 136.8L1157.1 143.1M1157.1 143.1L1156.7 152M1156.7 152L1156.8 159.9M1157.1 179L1157.6 179.6M1165.9 219.9L1166.1 227.5M1162.9 259.3L1162.2 262.1M1160.4 293.9L1160.6 301.4M1160.6 301.4L1160.8 309.1M1168.3 405.3L1167.4 412.6M1179.9 115L1181.1 122M1181.1 122L1177.5 129M1183.1 150L1183.3 157M1179.2 192L1181.9 199M1181.9 199L1179.6 206M1180.4 213L1180 220M1180 220L1180.3 227M1184.6 234L1185.6 241M1186.2 262L1186.4 269M1186.4 269L1182.6 276M1181.7 283L1181.9 290M1181.9 290L1183 297M1185.2 367L1187.5 374M1189.7 409L1185.6 416M1185 423L1189 430M1191 451L1191.2 458M1189.6 213L1191.1 220M1191.1 220L1189.4 227M1189.4 227L1189.6 234M1197.5 367L1197.8 374M1195.1 395L1197.5 402M1197.5 402L1198.6 409M1198.6 409L1199.1 416M1197.8 423L1197.6 430M1196.7 451L1200.1 458M1200.1 458L1200.5 465M1205.9 192.5L1206 197.4M1217 215.2L1217.1 221.4M1217.1 221.4L1217.3 228M1207.2 245.6L1207.4 253.8M1207.4 253.8L1207.7 262.4M1207.7 262.4L1210.5 270.8M1217.2 290.2L1217.4 296.6M1210.6 346.6L1210.4 352.5M1209.9 366.3L1210 369.2M1210.7 388.3L1211.6 394.9M1211.6 394.9L1213.7 400.5M1212.9 414.9L1215.6 422.1M1223.2 463.6L1221.5 469.9M1223.9 484L1223 492.2M1224.3 498.2L1224 504.5M1224 504.5L1222 511.2M1231.5 143L1228.2 150M1230.8 178L1230.1 185M1233.5 213L1231.1 220M1232.3 290L1232 297M1231.7 304L1231.9 311M1232.6 332L1232.8 339M1232.9 374L1235.5 381M1238.3 423L1235.6 430M1241 115L1241.3 122M1242.1 248L1245 255M1245 255L1243.1 262M1245.4 311L1242.9 318M1245.3 360L1247.4 367M1247.6 374L1245.5 381M1235.1 227L1238.9 220M1235.5 255L1242.1 248M1252.8 119.9L1253.1 128.5M1256.9 148.2L1258.1 156.6M1258.1 156.6L1256.9 164.1M1256.3 247.6L1259 255.4M1259 255.4L1258.7 264.4M1258.7 264.4L1257.7 267.9M1266.7 398.8L1266.4 399.3M1264.6 405.1L1264.8 411.7M1267.8 423.6L1265.7 429M1265.7 429L1264.1 436.4M1264.1 436.4L1264.3 441.9M1262.2 448.6L1261.7 453.1M1268.1 498.6L1268.2 504M1955.3 129L1955.5 136M1960.8 150L1963.5 157M1963.5 157L1967.3 164M1964.4 178L1960.5 185M1962.7 206L1961.2 213M1961 227L1965 234M1961.5 276L1964.3 283M1963.1 332L1961.3 339M1965.4 353L1965.4 360M1961.8 367L1960.9 374M1963.9 416L1962.5 423M1962.5 423L1966.8 430M1979.3 115L1976.4 122M1976.4 122L1980.2 129M1980.2 129L1983.3 136M1987.9 143L1989.6 150M1986.3 178L1989.9 185M1988.2 227L1990.9 234M1981.5 248L1979.5 255M1991.4 346L1993.4 353M1983.1 402L1983.3 409M1985.8 423L1984.1 430M1985.3 437L1985.4 444M1985.7 472L1989.7 479"/><path id="nv2" d="M133.4 128.9L133.1 134.1M133.1 134.1L133.1 135.8M133.5 151.5L133.6 156.7M135.3 171.1L137.4 178.2M143.9 211.9L144 218.1M144.3 224.9L142.2 232.6M144.8 330.1L142.9 336.9M146.3 430.4L148.1 438.6M147.5 445.7L149.2 452.1M162.9 171L159.9 178M164 220L165 227M168.5 255L164.3 262M169.4 276L165.9 283M164 332L164.1 339M166.2 360L169.5 367M171.9 430L168.8 437M180.4 171L177.7 178M177.7 178L176.9 185M176.9 185L177 192M182 283L182.3 290M193.1 311L193.2 318M188.5 423L185.3 430M185.1 437L187.6 444M185.4 465L187.1 472M209.6 115L209.8 122M206.3 157L208.6 164M205.9 220L204.6 227M204.6 227L202.9 234M203.8 297L203.9 304M206.1 388L206.2 395M212.5 423L211.9 430M211.2 444L209.9 451M212.1 472L208.8 479M221 157L225.4 164M225.4 164L228.7 171M222.7 192L224.7 199M224.9 227L224.1 234M230 241L233.1 248M232.4 304L234.6 311M236.2 339L232.2 346M232.4 388L230.3 395M227.4 444L227.5 451M228 472L228.1 479M245.3 115L246.7 122M253.1 171L253.2 178M250.5 192L251.2 199M247.2 206L251.4 213M251.4 213L248.4 220M250.3 241L253.4 248M253.7 402L256.7 409M256.6 458L256.8 465M265.1 143L268.9 150M268.9 150L270.5 157M267.3 227L270.1 234M270.1 234L273.7 241M273.5 255L276.4 262M273 283L274.2 290M277.6 325L277.9 332M277.9 332L278.1 339M278.1 339L275.8 346M271.7 402L269.7 409M284.8 115L286.2 122M282.9 129L283 136M283 136L283.2 143M283.3 150L283.5 157M286.5 199L287.6 206M287.6 206L286.8 213M292.6 234L295.1 241M297.5 248L296.9 255M299.2 276L299.4 283M299.7 318L298.1 325M295.3 346L298.4 353M298.4 353L300.5 360M298.8 381L298.5 388M299.8 395L299.1 402M302.5 416L299.8 423M303 437L302.1 444M303.4 458L299.3 465M314.5 115L314.6 122M314.9 157L315.5 164M315.5 164L315.7 171M315.8 178L315.1 185M313.2 360L310.3 367M317.4 388L317.2 395M318 402L315.6 409M323.3 451L321.6 458M321.6 458L322.2 465M322.2 465L318.9 472M328.3 150L327.4 157M330.7 213L329.2 220M329.8 241L329.9 248M329.9 248L332.9 255M333.6 283L337 290M332.5 353L332.6 360M335.3 444L336.5 451M345.2 122L345.3 129M347.2 213L351.2 220M348.6 234L353.6 241M353.6 241L352.5 248M349.9 269L354.2 276M353.2 360L352.3 367M352.3 367L352.5 374M355.9 416L355.1 423M354.1 430L353.9 437M361 458L364.7 465M372.9 115L369.8 122M375.4 171L378.9 178M378.9 178L377 185M378.9 213L375.4 220M377.1 283L373.7 290M373.7 290L377.1 297M374.8 325L375.2 332M381.9 395L381.4 402M387.7 129L388.2 136M397.3 297L398.2 304M402.1 318L398.6 325M397.3 388L397.6 395M401.2 458L397.7 465M408.8 129L407.4 136M407.4 136L407.6 143M408.4 178L408.5 185M409.3 220L414 227M416.5 234L414.2 241M416.4 248L420.9 255M419.3 353L416.1 360M420.1 381L418.4 388M418.4 388L415.7 395M426 444L424.5 451M436.1 178L436.2 185M432.6 213L428.9 220M428.9 241L433.4 248M429.7 276L431.9 283M430 290L433.3 297M438.6 367L441.8 374M433.3 430L433.5 437M433.6 444L438.1 451M444.1 465L444.3 472M455.7 136L453.3 143M454.3 157L455.8 164M449.1 234L449.6 241M449.8 248L450 255M454 262L454.8 269M451.9 339L455 346M458.3 409L460.4 416M460.4 416L463 423M466.1 143L470.8 150M478.7 430L476.6 437M474.6 444L474.1 451M472.1 458L472.2 465M474.8 472L476.3 479M486.8 136L484 143M493.9 276L492 283M489 304L492.5 311M490 346L493.6 353M497.9 374L495.3 381M491.5 409L491.7 416M492.6 423L492 430M492.3 444L496.4 451M497 458L493.1 465M493.1 465L493 472M503.9 143L506 150M509.9 164L509.7 171M513.4 269L513.6 276M512.7 304L516 311M516.9 325L514.3 332M515.1 360L514.5 367M514.5 367L516.1 374M514 381L517.9 388M511.2 451L510.7 458M523.6 136L523 143M525.6 171L527.5 178M527.5 178L531.7 185M533.4 234L536.6 241M533.2 248L532.3 255M533.2 304L528.8 311M531.1 325L528.7 332M532.9 346L537.6 353M537.7 388L540.2 395M536 416L532.3 423M538.2 444L541.6 451M541.6 451L540.4 458M541.2 157L541.5 164M554.6 248L553.8 255M552.3 276L555.2 283M555.2 283L555.1 290M556.2 318L555.6 325M556.4 339L552.4 346M556 374L555.3 381M555.3 381L551.6 388M552.1 409L555.2 416M555.2 430L555 437M553.1 458L551.5 465M551.5 465L552.6 472M569 115L568.7 122M568.7 122L565.4 129M565.4 129L567 136M567 136L564.5 143M565.8 178L562.6 185M571.2 206L567.7 213M567.7 213L566.6 220M565.8 276L566 283M575.2 339L575.6 346M576.2 374L572.1 381M572.1 381L573.9 388M577.7 437L575.6 444M583.4 122L583.6 129M583.9 143L584.1 150M580.1 164L579.4 171M585.8 276L586.3 283M582.4 374L586.3 381M592.2 444L592.4 451M588.1 465L584.8 472M604.2 185L600.8 192M604.9 213L605.1 220M604.3 241L604.9 248M607.4 276L607.6 283M601.3 353L603.9 360M601.5 395L601.6 402M606 430L607 437M606.4 444L607.1 451M607.1 451L603 458M609.2 472L605.6 479M610.6 171L610.8 178M617.3 213L616 220M616 220L620.1 227M618.2 262L614.9 269M617.1 283L617.3 290M620.5 311L623.5 318M616.4 374L616.6 381M616.8 388L619.6 395M619.2 409L622.3 416M622.3 416L623.6 423M633.9 115L634.5 122M637.6 136L636.5 143M631.3 164L631.5 171M639.4 206L639.6 213M639.3 255L637.4 262M645.3 416L645.5 423M641.6 430L645.8 437M642.8 472L639.7 479M648.9 115L652.5 122M645.6 192L645.8 199M645.8 199L646 206M652.3 255L656.6 262M654.9 283L651.8 290M655.8 318L655.1 325M654 353L653.1 360M655.1 381L651.2 388M655.7 409L657.1 416M660 430L659.5 437M660.2 458L661.7 465M663.6 115L663 122M672.4 164L668.8 171M672.4 297L671.4 304M675.1 367L672.4 374M675.5 409L674.9 416M672.4 472L672.6 479M684.4 164L684.8 171M688.5 220L686.1 227M690.5 269L689.6 276M691.6 339L692.5 346M692.5 346L688 353M688 353L684.3 360M684.3 360L684.4 367M684.4 367L684.6 374M685 388L685.2 395M685.2 395L685.3 402M685.5 409L689.5 416M687.1 472L687.9 479M700.5 115L705 122M705 122L702.8 129M699.2 164L702.1 171M705.1 178L703.1 185M706.5 290L706.2 297M706.2 297L710.4 304M706.7 318L704.2 325M705.8 388L710.4 395M707.5 402L707.8 409M706.9 423L710.4 430M711.6 444L710.5 451M709.1 458L710.4 465M716.5 199L713.7 206M713.7 206L715.4 213M715.3 241L718.2 248M721 297L722.9 304M724.7 311L724.8 318M722.5 353L720.5 360M719.1 395L719.2 402M719.8 409L719.5 416M720.1 437L720.3 444M720.3 444L722.1 451M734.5 157L731.7 164M731.7 164L731.9 171M731.9 171L735.5 178M733.3 227L737.5 234M739.5 283L737.9 290M741.2 318L737.8 325M738.9 339L737.1 346M737.5 374L737.7 381M741.3 437L739.3 444M742.2 472L740.2 479M747.2 143L749.2 150M749.2 150L750.2 157M750.2 157L752.4 164M752.4 164L750.5 171M748.3 220L749.8 227M749.8 227L748.7 234M748.7 234L752.3 241M750.6 276L752.8 283M757.7 318L760.3 325M760.3 325L760.5 332M760.7 339L758.6 346M760.9 360L758.4 367M761.6 409L758.8 416M754.8 458L756.5 465M771 157L774 164M774 164L774.7 171M774.7 171L774.8 178M769.1 220L768.8 227M768.8 227L771.8 234M771.3 276L769.7 283M769.7 283L773.3 290M773.3 290L770.8 297M770.8 297L770.3 304M770.4 311L770.6 318M775.8 367L775.1 374M775.7 458L774.9 465M774.9 465L774.3 472M781.6 164L781.2 171M787.9 220L784.4 227M782.8 234L783.6 241M786.6 283L788 290M789.1 318L792.4 325M794.7 353L794.9 360M790.4 374L787.4 381M787.4 381L787.1 388M795.2 430L796.2 437M796.2 437L797.1 444M797.1 444L797.3 451M797.3 451L794.4 458M794.4 458L792.4 465M792.4 465L792.5 472M805.7 122L805.6 129M800 171L803.5 178M809.2 255L808.8 262M808.4 283L804.3 290M809.1 339L806.1 346M808.2 395L807.7 402M806.5 409L811.3 416M811.3 416L807.8 423M812.2 430L814.2 437M817.1 115L813.9 122M814.2 164L815 171M819.1 185L819.4 192M813.4 213L813.6 220M822.5 276L822.7 283M821.3 297L823.3 304M820.8 311L821.5 318M821.5 318L822.5 325M826.6 444L826.8 451M827 458L827.1 465M827.3 472L827.5 479M808.7 234L814.7 241M836.6 102L836.8 109.1M836.8 109.1L838.6 116.7M836.2 121.9L836.5 127.5M838.5 149.5L837.8 157.1M837.8 157.1L839.2 166M839 208.8L840 214.8M838.4 269.2L839.7 275.8M845.2 335.1L843.6 343.4M845.3 369.3L843.1 371.9M843.1 416.9L841.6 422.9M841 431.6L839.9 439.7M849.3 479.2L847.9 485.3M846.1 492.5L847.5 500.2M849.4 505.4L847.4 511.2M859.4 122L858.8 129M858.6 185L859.7 192M860.6 206L859.6 213M860.7 220L863.8 227M861.7 241L864.8 248M866.8 262L866.9 269M866.9 269L867.2 276M867.4 283L864.3 290M861.6 318L861.8 325M862 332L862.2 339M869.3 381L866.6 388M864.8 451L868.9 458M868.9 458L866.4 465M866.4 465L870.3 472M870.3 472L872.2 479M870.5 129L872.2 136M872.2 136L868.2 143M876.6 255L878.6 262M878.6 262L878.4 269M879.1 283L879.3 290M874.6 332L874.2 339M874.2 339L877 346M880.9 374L881.3 381M877.7 388L881.4 395M891.2 122L887.9 129M887.9 129L891.2 136M891.8 143L889.2 150M889.2 150L889.4 157M889.4 157L890.5 164M886.2 178L886.2 185M890.9 206L888.7 213M887.6 234L888.1 241M891.6 248L889.5 255M895.8 276L895.9 283M896.1 290L896.3 297M890.2 318L893.1 325M901.1 164L897.6 171M897.6 171L897.8 178M897.8 178L898 185M905.2 206L905.4 213M905.4 213L901.9 220M903.9 227L906 234M901.4 297L901.6 304M905.2 395L907.1 402M904 409L904.2 416M907.7 444L905.1 451M921.3 185L919.6 192M919.6 192L921.9 199M918.7 248L922.2 255M924.1 269L923.7 276M922.8 297L923.3 304M923.3 416L922.9 423M922.4 430L921.7 437M921.7 437L922 444M921.9 451L926.3 458M926.8 129L925.7 136M926.4 178L928.1 185M928.1 185L927.5 192M929.6 199L927.9 206M929 262L929.2 269M929.2 269L929.4 276M931.5 304L930.3 311M930.3 311L930.5 318M932.6 332L933.5 339M935.7 360L935.2 367M935.2 367L936.4 374M933.1 402L937.4 409M937 437L940.1 444M938.4 465L936.4 472M942.1 122L941.9 129M945.9 143L944.8 150M948 171L948.7 178M947 213L947.1 220M951.3 241L952.5 248M951.1 423L954.5 430M954.5 430L957.2 437M961.1 115L958.6 122M958.5 129L954.8 136M954.8 136L954.8 143M961.1 171L962.9 178M962.9 178L960.8 185M962.3 199L962 206M963.8 213L964 220M964.2 227L960.8 234M963.6 276L965.5 283M965 297L963.5 304M963.5 304L963.9 311M966.3 332L967.2 339M967.2 339L967.8 346M961.5 395L961.6 402M961.8 409L962 416M962 416L962.2 423M968.4 458L966.9 465M957.6 451L963 444M976.3 143L978.6 150M980.6 206L980.7 213M979.1 262L978.2 269M980.6 276L982.9 283M982.9 283L979.2 290M977.8 360L978 367M979.1 381L981.2 388M985.6 402L985.8 409M983.8 430L979.9 437M984.9 465L982.8 472M987.1 150L984.3 157M984.5 164L987.6 171M987.6 171L988.5 178M988.5 178L986.7 185M985.9 192L985.5 199M985.6 206L988 213M988 213L986 220M993.9 255L990.6 262M995.2 304L991.5 311M989.5 360L989.7 367M989.7 367L989.9 374M995.2 402L994 409M991.3 423L991.5 430M980.6 206L985.5 199M1012.1 137.3L1013.2 139.4M1010.7 158.5L1012.6 165.5M1008 188.9L1009.3 197.5M1009.3 197.5L1006.9 203.8M1020.1 290L1020.3 298.2M1020.3 298.2L1020.5 303.5M1020.7 310.8L1020.9 317.7M1020.9 317.7L1020.5 325.8M1020.5 325.8L1021.3 333.2M1014.2 429.2L1014.4 436.9M1018.1 467.4L1020.8 472.7M1020.8 472.7L1020 479.4M1030.3 115L1028.2 122M1028.2 122L1028.4 129M1028.4 129L1031.8 136M1033.3 143L1033 150M1034.5 157L1031.8 164M1031.8 164L1029.6 171M1029.8 178L1030.7 185M1030.8 213L1033.2 220M1033.2 220L1032.1 227M1037.1 241L1036.2 248M1035.4 262L1036.1 269M1035.1 304L1039.6 311M1039.6 311L1040 318M1040.6 339L1040.8 346M1036 416L1036.2 423M1037.2 458L1037.4 465M1037.4 465L1038.9 472M1039.6 115L1039 122M1039.9 129L1042.2 136M1048.6 241L1048.8 248M1048.6 276L1049.8 283M1049.8 283L1048.1 290M1048.1 290L1047.5 297M1045.6 374L1046.5 381M1046.4 402L1046.6 409M1040.4 332L1045.8 339M1040.6 381L1045.6 374M1062 154.8L1062.7 163M1062.7 163L1064.2 169.6M1059.4 193.1L1059.5 196.8M1070.4 237.7L1070.7 245.8M1071.1 259.2L1071 265.6M1070 349.1L1069.4 354.5M1066 397.5L1065.6 402.4M1065.9 442.4L1066.2 451M1081.5 122L1080.2 129M1082.2 164L1083.7 171M1084.3 185L1082.7 192M1086.2 220L1087.7 227M1086.3 248L1084.2 255M1086.5 262L1086.6 269M1090.3 318L1090.5 325M1090.7 332L1086.3 339M1085.8 346L1085.5 353M1085.4 360L1089 367M1086.2 388L1086.4 395M1087.1 416L1088.8 423M1090.2 430L1087.7 437M1092.2 444L1088.8 451M1089.3 143L1089.5 150M1089.5 150L1093.2 157M1095.8 255L1093.8 262M1093.8 283L1093.5 290M1093.7 297L1097.8 304M1097.8 304L1099.4 311M1097.2 339L1100.5 346M1097.9 374L1096 381M1100.3 416L1100.9 423M1102.5 444L1102.7 451M1113 120.1L1113.1 125.7M1112.6 142L1112.2 149.5M1109.6 233.4L1109.7 240.2M1109.7 240.2L1109.9 246M1117.3 314.1L1117.5 322.6M1117.5 322.6L1117.8 329.6M1117.4 348.1L1116.8 354.7M1122.1 377.3L1121.3 383.5M1121.3 383.5L1121.9 388.7M1123.7 430.7L1123.5 437.8M1118.2 455.4L1118.4 462M1118.4 462L1120.1 467.7M1120.1 467.7L1121.1 475.9M1121.1 475.9L1121.7 482.3M1119.9 528.8L1118.8 530.3M1134.2 143L1134 150M1131.1 157L1130.3 164M1135.8 248L1138 255M1138 255L1137.7 262M1137.3 297L1134.3 304M1135.8 332L1135.4 339M1137.4 360L1135.4 367M1136.7 395L1136.4 402M1140.5 437L1142.8 444M1143.4 465L1142.4 472M1142.4 472L1143 479M1143.9 150L1142.6 157M1140 185L1140.4 192M1140.4 192L1141.5 199M1143.5 213L1144.7 220M1144.7 220L1146.4 227M1146.7 241L1145.4 248M1147.5 269L1147.7 276M1147 297L1144.7 304M1144.3 318L1144 325M1144 325L1144.2 332M1148 465L1147.5 472M1158.5 124.3L1160.2 130.3M1156.8 159.9L1156.8 165.5M1156.8 165.5L1156.9 171.5M1166.1 234.2L1163.9 241.4M1163.9 241.4L1164 250.4M1164 250.4L1162.9 259.3M1164.6 318.4L1164.8 326.4M1171.1 351.8L1170.4 359M1169.9 367.9L1170.7 371.7M1173.2 459.5L1171.1 468.4M1171.1 468.4L1170.1 475.8M1180.3 171L1179.7 178M1180 185L1179.2 192M1179.6 206L1180.4 213M1183 325L1187 332M1188.5 339L1188.1 346M1184.5 395L1188.5 402M1185.6 416L1185 423M1190.6 437L1188.9 444M1190 115L1191.4 122M1191.4 122L1189.2 129M1190.7 143L1189.7 150M1192.5 171L1189 178M1189.6 234L1189.5 241M1189.5 241L1189.7 248M1195.3 262L1194.3 269M1194.3 304L1196.8 311M1196.8 311L1193.6 318M1198.2 388L1195.1 395M1199.7 437L1197.7 444M1206.9 141.6L1208.7 147.7M1208.7 147.7L1208 149.6M1215 208.8L1217 215.2M1217.4 317.5L1219.9 322.9M1210.3 339.4L1210.6 346.6M1212.6 407.1L1212.9 414.9M1223.6 476.6L1223.9 484M1223 492.2L1224.3 498.2M1226.5 122L1226.7 129M1226.7 129L1228.6 136M1228.2 150L1232.1 157M1230.1 185L1229 192M1229 192L1231.8 199M1235.1 241L1235.3 248M1233.8 276L1236.4 283M1236.4 283L1232.3 290M1232.8 339L1233 346M1235.5 381L1237.9 388M1237.9 388L1238.9 395M1235.6 430L1236 437M1235.2 451L1240 458M1237.1 465L1235.9 472M1235.9 472L1236.1 479M1239.4 129L1237.9 136M1236.6 143L1236.8 150M1237 157L1239.1 164M1238.8 185L1238.1 192M1238.1 192L1238.3 199M1242 234L1239.2 241M1239.2 241L1242.1 248M1243.1 262L1240.1 269M1240.3 276L1244.5 283M1243.4 325L1244.7 332M1245.1 346L1246 353M1247.4 367L1247.6 374M1247.9 388L1248.3 395M1248.3 395L1248.5 402M1248.7 437L1249.8 444M1249.8 444L1250 451M1255 142.7L1256.9 148.2M1256.9 164.1L1256.2 165.7M1258.3 199.2L1258.5 205.6M1265.6 313.3L1265.7 318.5M1266.6 335L1266.8 342.2M1265.9 391.5L1266.7 398.8M1268.6 483.3L1267.2 489.6M1952.2 469L1952.5 475.8M1967.1 171L1964.4 178M1961.4 192L1960.8 199M1960.8 199L1962.7 206M1959.5 220L1961 227M1961.5 255L1961.9 262M1960.4 297L1961.9 304M1961.9 304L1966.6 311M1960.9 381L1961.1 388M1968.2 437L1968.9 444M1968.9 444L1965 451M1966.5 472L1968.6 479M1983.3 136L1987.9 143M1991.7 206L1990.1 213M1979.8 262L1980.6 269M1985.2 290L1983.9 297M1994.5 332L1994.8 339M1993.6 360L1992.6 367M1986.4 416L1985.8 423M1984.1 430L1985.3 437M1985.5 465L1985.7 472"/><path id="nv3" d="M144 218.1L144.3 224.9M143.7 249.2L143.3 257.2M142.9 262.9L145.1 269.3M144.5 307.5L144.7 315.4M146.1 424.5L146.3 430.4M147.2 461L147.2 467.3M160.7 115L160.3 122M162.8 213L164 220M165 227L164.9 234M164.3 262L167.2 269M167.2 269L169.4 276M165.9 283L168.3 290M165.7 353L166.2 360M169.5 367L165.6 374M174.7 402L174.9 409M168.8 437L169.1 444M169.1 444L172.6 451M175.6 122L175.7 129M175.7 129L177.6 136M177.2 199L177.3 206M177.3 206L181.1 213M190 304L193.1 311M189.4 360L188.9 367M184.7 381L183.4 388M184.7 451L188.3 458M209.8 122L209.9 129M210.3 150L206.3 157M209.4 269L210.1 276M209.3 283L206.4 290M207.8 311L207.9 318M205.6 367L205.8 374M210.7 409L213.2 416M213.2 416L212.5 423M211.9 430L212.2 437M221.4 150L221 157M226.3 290L228.2 297M234.6 311L235.8 318M235.7 381L232.4 388M230.3 395L231.7 402M231.7 402L233.7 409M227.3 430L228.2 437M228.6 458L227.8 465M253.2 178L250.6 185M251.2 199L247.2 206M254.4 262L256.9 269M252.9 360L250.1 367M260.5 423L259.7 430M259.7 430L255.9 437M265.8 185L267.7 192M264.3 220L267.3 227M276.6 269L274.5 276M277.2 297L276.9 304M276.9 304L274.8 311M274.8 311L277.6 318M275.8 346L275.1 353M275.1 353L272.5 360M271.7 367L273.1 374M273.1 374L271.3 381M272.3 416L269 423M281.1 465L278.9 472M283.2 143L283.3 150M286.3 164L288.3 171M289.2 220L293.1 227M296.8 269L299.2 276M300.5 360L301.5 367M300.9 409L302.5 416M302.2 451L303.4 458M314.6 122L311.1 129M312.5 143L314.6 150M314.6 213L316.7 220M317 234L317.5 241M311.2 318L315.4 325M315.6 409L320 416M323.5 444L323.3 451M318.9 472L322.1 479M325.6 122L327.7 129M327.4 157L328 164M328 164L328.4 171M327.5 199L327.5 206M334.8 297L338.9 304M341.3 332L337.6 339M336 346L332.5 353M335.9 409L339.9 416M334.5 430L334.3 437M345.3 129L347.4 136M357.5 178L357.6 185M353.1 325L355.5 332M358.1 339L358.1 346M352.5 374L354.9 381M355.9 388L355.5 395M355.5 395L357.1 402M355.1 423L354.1 430M353.9 437L354 444M368.5 136L367.6 143M377 185L378.3 192M378.3 192L379.4 199M377.4 255L374.3 262M375.2 332L376.2 339M376.2 339L377.8 346M383.3 451L381.8 458M392.9 171L392.4 178M389.7 206L387.8 213M395.5 255L392.5 262M396.4 339L392.6 346M392.7 360L394.3 367M394.3 367L393 374M402.1 402L403.4 409M403.8 416L404.7 423M404.3 444L400.4 451M400.4 451L401.2 458M398.5 472L399.9 479M411.7 115L410 122M409.9 164L409.6 171M408.9 199L409 206M415.7 297L412.6 304M418.1 318L419.5 325M415.7 395L417.1 402M424.6 416L421.7 423M424.5 451L421.8 458M429 115L432.2 122M436.2 185L436.4 192M428.9 220L430.8 227M430.8 227L427.9 234M429.8 255L429.4 262M439.5 311L439 318M437.2 325L438.8 332M436.9 360L438.6 367M437.6 395L437.2 402M434.1 423L433.3 430M433.5 437L433.6 444M442.1 458L444.1 465M447.6 115L451.2 122M452.7 129L455.7 136M451.8 150L454.3 157M455.8 164L455.1 171M451.5 192L450.8 199M449.6 241L449.8 248M456.7 290L459 297M457.5 304L454 311M458.2 381L459.3 388M459.3 388L458 395M464.1 458L462.2 465M468.4 157L471 164M471 164L467.3 171M464.2 178L464.4 185M464.4 185L464.6 192M464.6 192L464.7 199M472.9 297L474.3 304M475.8 325L474.3 332M473.7 388L474.4 395M480.9 416L481.1 423M481.1 423L478.7 430M483.7 129L486.8 136M484.2 150L486.7 157M495.4 234L497.7 241M497.7 241L494.6 248M494.6 248L493.3 255M488.9 297L489 304M493.6 353L496.5 360M499.9 367L497.9 374M512.7 185L513.4 192M509.5 199L509 206M516.9 290L515.2 297M516 311L512.9 318M512.9 318L516.9 325M511.9 437L510.3 444M526 115L523.9 122M523.9 122L523.3 129M523 143L523.2 150M523.2 150L523.4 157M530.4 199L532 206M529.8 227L533.4 234M533.2 297L533.2 304M532.7 339L532.9 346M537.6 353L534.8 360M539.7 374L539.9 381M539.9 381L537.7 388M540.2 395L536 402M532.3 423L536.6 430M538.1 437L538.2 444M540.4 458L541.9 465M542.7 136L545.7 143M552.1 192L552.3 199M552.9 227L552.9 234M553.8 255L554.9 262M553.8 269L552.3 276M550.4 353L550.9 360M550.9 360L552.6 367M550.8 395L552.9 402M550.6 444L551.1 451M565.5 241L566.7 248M571.3 255L573.6 262M567.9 290L569 297M569.6 325L571.2 332M571.2 332L575.2 339M575.9 360L576 367M577.1 409L574.3 416M571.3 465L570.5 472M583.2 206L585.6 213M582.7 388L582.9 395M586.9 416L586.5 423M590.2 458L588.1 465M600.8 192L601.1 199M604.9 248L603.6 255M605.9 416L602.1 423M609.4 122L613.2 129M613.2 129L616 136M610.4 164L610.6 171M618.1 234L617.1 241M618.5 276L617.1 283M615.8 304L620.5 311M624.1 325L624.3 332M616.1 360L616.2 367M616.2 367L616.4 374M626.5 437L626.1 444M626.8 472L626.5 479M638 150L635.5 157M639 192L639.2 199M639.2 199L639.4 206M637.8 227L640.1 234M641.3 248L639.3 255M634.8 332L635.2 339M640.6 381L643.1 388M645.5 423L641.6 430M645.8 437L645.5 444M641.8 451L638.1 458M652.5 122L651.1 129M646.1 213L646.4 220M653.9 332L653.4 339M654.2 374L655.1 381M660.7 423L660 430M639.2 199L646 206M669 178L672.9 185M669.9 227L670.1 234M670.1 234L669.1 241M667.7 248L668.6 255M677.9 360L675.1 367M674.5 402L675.5 409M681.6 122L679.6 129M684.8 171L683.5 178M684.8 255L689.2 262M687.8 297L689.8 304M689.8 304L689.3 311M703.2 143L704.2 150M703.2 213L702.3 220M700 227L701.3 234M708.8 255L707.9 262M702.9 353L703 360M703 360L703.3 367M703.3 367L703.4 374M703.4 374L705.4 381M710.4 430L707.9 437M715.2 122L711.9 129M715.4 213L717.1 220M722.6 276L718.4 283M724.8 318L724.7 325M720.5 360L722 367M718.8 374L720 381M720 381L718.8 388M721 430L720.1 437M722.1 451L722.7 458M739.4 129L738.6 136M732.9 213L733.3 220M733.3 220L733.3 227M737.5 234L742 241M739.8 248L740.6 255M740 262L735.9 269M735.9 269L735.5 276M737.2 311L741.2 318M737.7 381L737.8 388M739.5 451L742.8 458M754.5 129L751.1 136M750.7 178L748 185M750.1 262L750.3 269M750.3 269L750.6 276M751.8 290L751.2 297M760.5 332L760.7 339M761.8 395L758.1 402M758.8 416L756.8 423M770.6 150L771 157M773 325L777.1 332M775.1 374L772.3 381M788.3 206L786.6 213M784.5 276L786.6 283M792.5 423L795.2 430M808.8 262L809.9 269M809.9 269L810.3 276M808.4 297L806.4 304M806.4 304L804.3 311M804.3 311L804.5 318M811.6 332L809.1 339M811.2 360L812.2 367M812.2 367L808.9 374M808.9 374L808.3 381M807.8 423L812.2 430M812.5 472L809.5 479M817 136L815 143M818.8 178L819.1 185M818.9 255L819 262M821.2 339L819.9 346M822.7 353L824.4 360M824.4 360L824.6 367M820.4 395L822.9 402M825.9 416L826 423M826 423L826.2 430M827.1 465L827.3 472M839.2 166L839 166.2M840 214.8L842 221.9M838.2 264.1L838.4 269.2M838.2 283.3L836.3 289.9M845.8 354.3L846.3 360.8M846.3 360.8L845.3 369.3M841.4 409L843.1 416.9M841.6 422.9L841 431.6M839.9 439.7L839.6 446.1M847.4 511.2L850.1 517.9M857.6 115L859.4 122M858.8 129L863 136M863 136L862 143M862.4 157L862.6 164M863.9 171L862.1 178M866.6 255L866.8 262M862.2 339L866.7 346M868.9 374L869.3 381M866.6 388L869.9 395M866 444L864.8 451M874.3 122L870.5 129M868.2 143L870.3 150M874.9 171L875.9 178M876.2 192L875.1 199M879.3 290L879.2 297M879.9 311L875.6 318M881.4 395L879.5 402M878.7 409L882.2 416M890 115L891.2 122M890.3 227L887.6 234M889.5 255L890.9 262M895.9 283L896.1 290M890.8 339L895 346M891.1 367L891.2 374M894.7 430L898.2 437M898.2 437L895.4 444M895.4 444L893.9 451M902.9 122L903 129M901.9 220L903.9 227M906 234L903.1 241M907.3 269L903.8 276M902.9 318L903.6 325M908.8 430L911.4 437M919.7 122L919.9 129M920.3 143L920.5 150M915 171L918.5 178M918.5 178L921.3 185M919.5 241L918.7 248M922.2 255L922.7 262M923.5 283L924.7 290M920.1 318L919 325M920.8 409L923.3 416M922.5 472L923.2 479M929 115L924.9 122M928.2 150L927.8 157M927.8 157L926.3 164M927.5 192L929.6 199M928.4 220L930.6 227M930.6 227L932.2 234M932 241L928.6 248M930.5 318L930.7 325M931.4 346L933.9 353M933.9 353L935.7 360M938.1 381L937.7 388M934.2 395L933.1 402M937.4 409L936.4 416M934.3 430L937 437M939.1 451L938.1 458M942 136L945.9 143M944.8 150L948.5 157M948.5 157L949.9 164M949.9 164L948 171M950.1 304L953.4 311M953.4 311L951.3 318M954.9 332L954.7 339M954.7 339L955.3 346M955.6 409L953.1 416M958.2 472L953.8 479M958.1 164L961.1 171M963.3 192L962.3 199M959.2 269L963.6 276M961.3 388L961.5 395M962.4 430L966.2 437M955.2 367L963.7 374M957.2 437L962.4 430M971.3 115L975.7 122M978.1 164L979.6 171M979.8 178L980 185M980.2 192L980.4 199M978.4 241L977.2 248M981.8 255L979.1 262M983 325L983.9 332M981.2 388L984.2 395M980.7 458L984.9 465M986.5 122L987.1 129M987.1 129L983.7 136M983.9 143L987.1 150M987.1 234L991.7 241M994.2 269L994.5 276M991.5 311L992.6 318M992.6 318L995.8 325M995.8 325L991.7 332M990.5 395L995.2 402M991.6 416L991.3 423M991.5 430L994 437M998.8 451L999 458M999 458L999.2 465M996.9 472L997.7 479M976.3 143L983.7 136M1006 226.9L1006.2 235.8M1006.2 235.8L1008 239.5M1017.2 372.9L1017.3 378.1M1018 401.6L1018.9 410.6M1017.2 444.5L1016.8 453.1M1030.6 206L1030.8 213M1032 255L1035.4 262M1038.9 283L1039.2 290M1039.2 290L1039.4 297M1039.3 325L1040.4 332M1035.8 353L1037.1 360M1036.5 367L1037.4 374M1037.4 374L1040.6 381M1036.2 423L1036.4 430M1041.1 444L1038.3 451M1038.9 472L1037.8 479M1039.6 143L1039.8 150M1041.6 213L1045.3 220M1048.3 234L1048.6 241M1048.8 248L1049 255M1049 255L1049.2 262M1049.3 269L1048.6 276M1050.6 311L1049.3 318M1049.9 423L1047.6 430M1047.6 444L1047.8 451M1054.3 465L1054.5 472M1060.7 180.7L1059.3 187M1059.3 187L1059.4 193.1M1070.9 251.8L1071.1 259.2M1066.2 451L1067 457.6M1067 457.6L1066.5 462.9M1085.6 157L1082.2 164M1082.4 178L1084.3 185M1086.6 269L1086.2 276M1086.6 297L1086.5 304M1087 381L1086.2 388M1088.8 423L1090.2 430M1088.8 451L1088.3 458M1093.2 157L1095.2 164M1093.2 199L1092.4 206M1093.9 213L1091.5 220M1095 234L1092.1 241M1094.3 269L1093.1 276M1099.6 318L1098.3 325M1098.7 353L1100.1 360M1102.1 430L1102.3 437M1102.3 437L1102.5 444M1102.7 451L1102.9 458M1113.1 125.7L1111.5 133.3M1112.2 149.5L1111 157.2M1111 157.2L1113.4 163.9M1110.3 258.8L1110.5 267M1119.4 363.6L1120.7 368.9M1119.9 408.7L1120.2 416.1M1118.3 512.5L1117.5 520.9M1132.6 129L1134.6 136M1134 150L1131.1 157M1132 178L1135.9 185M1132 220L1135.2 227M1137.7 262L1136.7 269M1134.3 304L1134.5 311M1135 325L1135.8 332M1143 451L1143.2 458M1142.7 115L1139.8 122M1138.6 136L1139.2 143M1139.2 143L1143.9 150M1139.4 164L1139.6 171M1144.8 206L1143.5 213M1146.9 423L1146.3 430M1146.3 430L1146.5 437M1147.5 472L1150.1 479M1138.6 276L1146.8 283M1156.9 171.5L1157.1 179M1164 332.3L1162.4 340M1162.4 340L1161.8 342.1M1170.4 359L1169.9 367.9M1166.1 380.5L1166.2 385.6M1166.2 385.6L1166.2 391.8M1171.8 444.2L1173.7 452.3M1183.3 157L1183.5 164M1183.5 164L1180.3 171M1184.2 318L1183 325M1188.5 402L1189.7 409M1188.9 444L1191 451M1191 472L1190.5 479M1189.2 129L1188.8 136M1188.8 136L1190.7 143M1189.7 150L1187.7 157M1193 199L1193.9 206M1189.7 248L1194.5 255M1194.1 353L1196.7 360M1200.5 465L1200.7 472M1200.7 472L1196.4 479M1181.1 122L1189.2 129M1205.3 114L1207 121.6M1205.4 128.8L1204.6 135.5M1214.8 203.3L1215 208.8M1207 239.6L1207.2 245.6M1217.4 296.6L1217.6 302.3M1209.7 359.3L1209.9 366.3M1213.7 400.5L1212.6 407.1M1221.2 449.7L1221.4 456.4M1221.4 456.4L1223.2 463.6M1221.5 469.9L1223.6 476.6M1222 511.2L1223.9 518.1M1229.4 115L1226.5 122M1228.6 136L1231.5 143M1233.3 171L1230.8 178M1231.8 199L1229.7 206M1235.1 227L1235.3 234M1235.3 248L1235.5 255M1233 346L1232.2 353M1232.4 360L1232.7 367M1239.3 409L1239.5 416M1239.5 416L1238.3 423M1236 437L1235.4 444M1240 458L1237.1 465M1236.8 150L1237 157M1237.6 178L1238.8 185M1238.5 206L1238.7 213M1244.5 283L1246 290M1245.5 381L1247.9 388M1246.2 430L1248.7 437M1250 451L1247.2 458M1233.3 171L1239.1 164M1258.5 205.6L1260.3 214.4M1260.3 214.4L1259.2 221.8M1258.7 228.2L1257 234.9M1266.3 326.6L1266.6 335M1266.8 342.2L1265.8 350.3M1265.8 350.3L1264.9 353.9M1267.1 386L1265.9 391.5M1264.3 441.9L1262.2 448.6M1268.2 504L1268.2 511.7M1953 450.2L1953.2 455.5M1955.8 115L1955 122M1955 122L1955.3 129M1955.5 136L1956 143M1965.6 248L1961.5 255M1964.3 283L1964 290M1964 290L1960.4 297M1965.4 360L1961.8 367M1961.1 388L1961.4 395M1961.4 395L1961.7 402M1966.8 430L1968.2 437M1992.3 220L1988.2 227M1979.5 255L1979.8 262M1980.3 276L1981.2 283M1993.4 353L1993.6 360M1992.6 367L1989.9 374M1989.9 374L1986.1 381M1983.3 409L1986.4 416"/><path id="nv4" d="M1275.4 133.6L1275.7 141.6M1275.7 141.6L1272 144.5M1281.7 171L1281.6 177.9M1282.1 186.1L1282.3 192.2M1282.7 205.8L1278.5 207.7M1282.4 214.2L1282.7 220.3M1278.4 297.3L1278.7 305.5M1278.7 305.5L1280.3 311.6M1280.7 378.3L1283.5 385.5M1282.7 457.6L1282.5 463.5M1282.8 471.8L1283.9 476.2M1292.4 105.2L1292.6 110.8M1294.5 137.3L1293.6 142.4M1293.6 142.4L1288.9 141.3M1293.6 142.4L1293.7 148M1293.7 148L1294.7 153.6M1296.5 170.7L1297.2 173.4M1297.7 256.6L1300.2 263.7M1300.2 263.7L1297.8 272M1297.8 272L1297.3 279.8M1299 333.1L1301.3 340.8M1300.5 362.1L1299 367.8M1299 367.8L1302.5 369.9M1299 367.8L1299.1 371.1M1299.1 371.1L1295.4 370.9M1305.8 407.5L1310 407.3M1306.4 416L1307.5 424M1307.5 424L1305.7 431.9M1305.9 470L1310.3 471.6M1307.4 475.9L1307.3 484.6M1319.2 184.5L1319.4 189.9M1321.1 203.3L1320.3 208.4M1321.2 216.1L1321.9 224.2M1321.9 224.2L1322.6 232.4M1321.1 240.9L1319.3 246M1319.3 246L1317.2 248.8M1323 295.6L1323.2 304.1M1321.7 341.5L1322 350.3M1319 377.9L1322.3 378.8M1319 377.9L1321.7 383.7M1325.7 423.2L1325.9 430M1325.9 430L1326.7 438.1M1326.7 438.1L1325.4 446.3M1327.6 453.7L1326.1 461.6M1323.5 500L1323.5 508.3M1323.5 508.3L1323.3 516.5M1338.8 129.9L1339.9 135.8M1341.3 182.1L1340.5 188M1342 201.4L1342.8 209M1342.8 209L1342.9 213M1339.5 258.7L1342.7 258.5M1337.9 265.7L1338.7 274M1338.7 274L1337.2 279.2M1337.2 279.2L1337.6 288.1M1337.6 288.1L1337.7 293.5M1340.2 379.2L1342.5 384.4M1342.5 384.4L1341.7 390.8M1339.9 398.1L1344.1 396.2M1341.5 428.1L1341.1 435.9M1341.1 435.9L1343.4 437.1M1361 142.3L1360.9 147.5M1361.9 160.7L1362.1 167.1M1361.8 231L1363.8 238.4M1363.9 251.4L1364.3 254.5M1359.9 310.6L1358.8 318.1M1358.9 352.7L1360.2 359M1360.2 359L1360.3 367.6M1362.8 374.7L1359 373.8M1362.8 374.7L1362.4 382.9M1365.1 389.7L1361.7 390.8M1370.5 507.7L1368.9 515.5M1366.8 523.1L1362.4 525.2M1379.6 127.2L1380.4 134.5M1378.1 164.6L1377.6 173.2M1377.5 186L1376.4 193.3M1376.5 205.1L1378.2 212.5M1378.2 212.5L1374.3 209.7M1380.6 251.9L1384.2 252.1M1380.6 251.9L1378.5 259.2M1378.5 259.2L1377.8 264.8M1377.8 264.8L1379 270.5M1383.8 305.1L1384 310.6M1387.5 342.2L1383 344.9M1385.1 358.3L1380.4 361.1M1383.8 422.1L1381.9 430.6M1381.9 430.6L1382.2 438.3M1382.2 438.3L1384.3 443.6M1382.8 458.1L1384 463.5M1392.3 115L1392.5 122M1392.5 122L1393.1 129M1394.7 192L1398.5 199M1400.5 269L1400.1 276M1401.2 290L1399.5 297M1401.6 304L1401.2 311M1398.5 332L1398.8 339M1398.8 339L1403 346M1402.2 409L1403.3 416M1400.9 423L1403.7 430M1403.7 430L1404.7 437M1404.7 437L1404.8 444M1401.6 465L1401.8 472M1403.2 115L1403.6 122M1400.7 129L1400 136M1400.2 143L1400.5 150M1405.5 185L1403.3 192M1403.3 192L1402.1 199M1404.1 206L1406.2 213M1407.2 234L1406.7 241M1405.4 325L1405.7 332M1405.8 339L1406.5 346M1405.1 353L1409.3 360M1407.9 367L1408.3 374M1406.4 381L1410.2 388M1409.4 416L1408.4 423M1408.4 423L1411.6 430M1408 444L1408.3 451M1408.7 465L1409.1 472M1394.5 136L1400 136M1396.5 206L1404.1 206M1400.1 276L1404.6 283M1399 325L1405.7 332M1404.8 444L1410.2 437M1401.8 472L1410.1 479M1393.2 143L1388.1 141.9M1401.2 290L1395.6 292.3M1404.7 304L1410 306.9M1405.4 325L1410.6 321.7M1405.1 353L1410 349.5M1420 119.9L1418.6 127.5M1418.6 127.5L1419 134.6M1418.9 140.4L1420.3 149.4M1420.3 149.4L1420.3 157.2M1420.3 157.2L1420.3 162.9M1421.1 171.8L1421.7 175.6M1418.4 249.4L1422.5 249.6M1427.8 306L1428 312.6M1428 312.6L1431.7 312.5M1426.3 320.1L1429.5 322.1M1425.5 328.4L1426.6 333.9M1421.8 383.5L1423.9 390.4M1427.9 428.5L1429.3 436.6M1429.3 436.6L1431.1 444.8M1424.9 473.1L1427.5 481.6M1439.4 137.5L1441.3 144.4M1441.3 144.4L1442.7 152.6M1439.6 167.7L1439.4 174.1M1437.7 181.2L1439.7 188.8M1441.3 216.3L1441.5 222.6M1441.4 235.5L1441.9 242.1M1445.6 264.2L1446.8 265.5M1444.8 322.9L1446.8 329.9M1444.8 336.1L1448 334.2M1442.9 342.1L1439.2 343M1442.9 342.1L1444.4 349.7M1447.5 379.1L1447.8 388M1447.8 388L1446.1 393.9M1446.8 402.6L1449 410.8M1449 410.8L1449.9 415.9M1447.4 439.3L1445.6 445.6M1445.6 445.6L1444.3 448.1M1463.3 124.5L1458.2 125.9M1463.3 124.5L1462 130.4M1460.7 183.2L1458.8 191.5M1460.7 249.6L1459.5 255.6M1459.5 255.6L1459.7 263.2M1461.6 275.4L1457.5 275.7M1461.6 275.4L1462.9 281.1M1463.1 305L1466.7 302.3M1463.1 305L1463.8 311.5M1465.7 352.1L1465 357.6M1470.5 408.2L1466.9 407.3M1465.4 421.8L1465.7 428.7M1464.7 434.9L1460.8 433M1464.3 441.1L1465.2 448.1M1464.8 454.9L1465 462.3M1465.5 476.6L1465.7 484.2M1465.7 484.2L1466.1 484.8M1478.8 101.6L1479 106.6M1479.5 134.3L1478 139.9M1478 139.9L1477.1 142.6M1481.4 170.7L1482.6 176.5M1479.4 205L1479.6 211.4M1479.6 211.4L1482.8 209.1M1481.1 237.5L1477.5 239.3M1481.1 237.5L1483.6 244.2M1486.2 251.8L1485.1 257.1M1485.1 257.1L1483.2 263.3M1483.8 303.4L1484 308.9M1482.4 380.3L1482.6 385.4M1487.1 398.3L1487.3 406M1485.1 428.8L1485.4 435.1M1485.4 435.1L1484.8 443.2M1498.2 165.2L1500.6 170.4M1500.7 176.2L1501.2 183.1M1500.6 239.8L1502.4 246.9M1502.9 262.6L1501.8 269.4M1504.4 360.1L1504.4 366.9M1502.6 411.6L1502.8 418.8M1504.5 445.2L1505 453.4M1514.1 161.6L1513.6 170M1515.2 187.5L1515.4 192.7M1515.4 192.7L1516.6 200.8M1515.6 247.9L1515.8 250.5M1518 295.3L1517 297.3M1521.1 322.3L1520.1 330M1517.6 362.4L1519.3 369.1M1520.1 416.3L1522.2 422.4M1519.3 450.6L1519.6 456.3M1522.4 484.5L1521.3 488.4M1527.6 136.4L1528.3 145.2M1528.3 145.2L1529.2 153M1529.2 153L1528.2 155.2M1530 196.7L1530.2 202.3M1530.4 221.4L1532 223.1M1532.8 256.3L1532.9 261.5M1532.9 261.5L1535.3 267.5M1535.3 267.5L1533.9 276.3M1533.5 311.3L1533.8 318.9M1533.8 318.9L1534.8 326.5M1536.8 333.2L1538.1 336.5M1537.6 363.9L1537.8 370.3M1538 420.3L1538.2 428.1M1537 435.8L1539.2 443.4M1546 112.9L1545.3 118.4M1543.6 125.6L1546.1 132.2M1549.3 210.9L1548 217.3M1552.8 294.3L1553 301M1551.1 375.1L1551.3 380.3M1551.3 380.3L1551.6 386.4M1551.6 386.4L1551.7 393.7M1553.2 419.9L1551.3 426.7M1554.1 462.6L1554.3 468.7M1554.3 468.7L1554.4 477.2M1565.2 160.4L1564.6 168.2M1564.7 219.6L1564.9 224.8M1566 258.5L1567.6 262.3M1565.5 294.7L1565.4 300.6M1569.7 366.9L1568.9 372.5M1571.1 430.8L1569.3 432.6M1572 462.2L1573.2 470.4M1579.1 108.9L1577.4 117.9M1577.6 152.4L1577.8 157.5M1577.2 163.7L1576.9 169M1579.9 189.4L1580.1 196.6M1578.4 245.2L1580.7 250.7M1581.2 265.4L1579.4 270.8M1583.6 353.7L1583.8 360.3M1583.2 369.2L1582.6 376.1M1590.6 101.2L1590.9 109.1M1593.3 116.1L1595.2 122.5M1597.4 188.8L1597.6 194.8M1597.9 254.7L1598.8 262.3M1598.8 262.3L1598.9 265M1598.1 278.5L1598.4 286.5M1598.4 286.5L1598.8 295.3M1601.3 335.7L1601.6 344.5M1601.8 350.3L1600.6 357M1600.8 363.7L1598.8 367.2M1601.4 464L1603.7 470.5M1602.2 478.5L1603.9 479.7M1610.5 155.5L1611.8 163.5M1611 170.3L1611.8 178M1612.8 214.8L1613.1 221.8M1611.5 258.4L1610.4 266.6M1614.1 332.2L1614.4 339.8M1612.9 383.5L1613.1 388.5M1617.3 419.6L1619.1 428M1616.2 438.6L1616.4 445.9M1616.4 445.9L1618.1 452.6M1622.6 118.8L1622.8 124.2M1623.8 150.9L1624 158.5M1624 158.5L1624.2 164.6M1626.9 216.8L1626.7 222.3M1626.7 222.3L1628.2 227.9M1627.1 268.5L1626.7 273.7M1631.5 457.6L1631.7 462.9M1640.2 121.5L1640.4 126.5M1639.9 134.3L1642.5 139.9M1644.2 173.7L1644.3 178.8M1642.9 202.5L1643.2 210.7M1646 276.7L1646.7 281.9M1646.1 363.6L1646.7 369.2M1646.2 428.9L1646.3 436.4M1656 106.8L1656.2 112.1M1655.3 163.9L1657.6 170.2M1657.6 170.2L1656 177.1M1660.2 192.6L1660.5 201.1M1662.3 281.3L1662.5 288.2M1662.5 288.2L1662.8 296M1663.1 303.8L1662.5 304.6M1662.6 382.6L1663.9 389M1662.4 449.3L1662.6 456.4M1662.6 456.4L1662.8 462.5M1673.2 128.7L1673.3 136.3M1672.4 163.6L1672.7 172.1M1676.9 332.1L1677.2 338.1M1678.7 404.3L1680.8 410.7M1688.8 123.5L1689.3 125M1686.1 136.7L1686.3 144.1M1691 188.8L1689 191.2M1688.4 219.7L1688.6 225M1692.1 269.7L1692.4 278.1M1691.9 285.2L1689.6 286.5M1693.8 334.6L1693.8 339.7M1695.7 389L1695.9 394.9M1695.9 394.9L1693.8 399.8M1695.4 424.8L1697.2 431.2M1702.8 165.3L1703 172.3M1707.2 200.3L1707.5 207M1709.1 269L1708.4 274.7M1705.9 306.2L1706.2 314.6M1709.4 339.6L1709.2 346.3M1710.4 405L1711.3 405.6M1713.2 425.5L1713.5 434.2M1713 442.2L1713.6 449M1716.2 114.8L1716.4 123M1718 168.2L1718.3 174.4M1718.3 174.4L1718.3 176.6M1720.3 231.3L1719.1 237.2M1723.5 321.8L1723.6 325.2M1724.5 333.2L1724.8 341M1721.8 360.4L1722 365.4M1723.8 389L1723.9 392.9M1725.6 463.3L1725.8 469.2M1728 109.3L1728.2 114.8M1729.2 144.5L1729.5 150.3M1731.4 163.5L1731.5 167M1731.9 177L1732 182.1M1732 182.1L1732.2 186.6M1731.1 196.5L1731.3 202.2M1735.3 313L1735.5 319.5M1735 338.3L1736.3 342.7M1736.5 394.1L1736.7 399.8M1738 435.7L1738.2 441.8M1738.2 441.8L1737.3 447.6M1738.7 473.2L1738.8 475.2M1741.9 141.1L1742.1 146.1M1742.1 146.1L1742.1 148.2M1744 241.2L1744.2 247.6M1745 268.4L1745.2 274.4M1747.9 439.7L1748.1 443.8M1749.3 456L1748.7 460.5M1750.9 118.5L1751.2 125.9M1751.9 147L1752.2 153.8M1753.2 181.8L1753.5 189.8M1756.1 305.8L1756.4 313.1M1756.9 328.2L1757.1 332.8M1758.4 417L1758.7 424.5M1759.6 442.3L1759.8 446.9M1760.3 467.6L1760.2 467.9M1761.6 102L1761.9 110.9M1765.7 175.8L1765.9 181.3M1767 212.4L1767.3 218.8M1766.6 248.5L1766.8 253.7M1770.6 400.6L1770.7 405.6M1769.5 410.8L1769.6 414.4M1769.9 421.6L1770.1 428M1775 126.3L1775.3 126.6M1776.2 237.2L1776.6 246.1M1778.3 295.5L1778.5 301.7M1781 376.6L1781.2 381M1783.4 443.7L1783.6 447.8M1783.8 455.5L1783.9 458.8M1785.2 129.8L1785.2 130.8M1788.4 218.1L1788.6 223.1M1790.5 278.1L1790.6 282.3M1790.3 313.6L1790.5 320.2M1791.5 354.4L1791.6 357M1791.6 397.4L1791.8 403.3M1791.8 403.3L1791.8 405.4M1793 428.7L1794.3 434.1M1794.6 482L1795 484.2M1797.5 137.7L1797.7 144.3M1799 159.3L1799.3 166.8M1799.3 166.8L1799.3 167M1799.9 182.3L1800.1 187.6M1801 214.2L1801.1 216.9M1798.9 238.7L1798.9 240.3M1800.5 265.1L1799.8 266.3M1804 340.3L1804.3 348M1808.4 125.3L1807.7 128.2M1811.6 224.5L1811.9 232.7M1813.1 320.5L1813.2 324.5M1814 342.9L1814 346.1M1814.1 376.7L1814.6 381.2M1816.5 445.1L1816.7 451M1817.8 459.1L1818 464.7M1816.8 470.9L1817 477.5M1818.3 107.3L1818.5 112.3M1822.3 194.5L1823 195.7M1822.8 232.2L1821.4 238.7M1823.4 254L1823.7 260M1825.5 309.5L1825.7 315.9M1825.8 401.9L1826 407.6M1830.9 104.2L1831.1 108.4M1830.5 132.8L1830.7 138.4M1832.9 179.5L1833.1 183.8M1834.7 254.5L1835 260.2M1836.1 290.4L1836.3 296.4M1839.5 433.5L1839.7 438.7M1839.7 438.7L1838.4 444.2M1839 460.8L1839.2 466.6M1839.2 466.6L1839.6 470.2M1842.9 121.7L1841.9 122.7M1841.9 134.8L1842.1 141.2M1846.2 214L1846.3 216M1846.1 265.5L1846.5 267.3M1847.2 287.5L1847.4 290.7M1849.5 411.6L1849.7 418.3M1851.1 476L1851.3 481.2M1854.1 119.1L1854.3 124.6M1858.3 235.6L1856.9 243.6M1858.5 376.8L1860.1 380.3M1859.5 404.9L1860.4 410.4M1860.4 410.4L1861.2 411.4M1864.7 140.6L1864.9 146.1M1867.1 166.7L1867.4 173.6M1868.1 193.6L1868.3 198.3M1868.1 281.1L1868.4 289.7M1869 306.3L1869.3 312.8M1869.3 312.8L1869.5 318.3M1869.9 380.6L1870.1 384.1M1873.6 481.3L1875.3 485.8M1876.8 123.3L1877.1 131.5M1877.6 184L1877.9 192.5M1878.9 219.3L1879.2 227.2M1880.6 273.2L1879.3 278.2M1881.8 315L1882 322.4M1884.1 449.8L1884 455.8M1887.6 110L1886.9 113.2M1888.5 133.8L1888.7 138.7M1889.8 170.3L1889.1 176M1891 201.8L1891.2 207.9M1890.5 225.2L1890.8 233.7M1889.7 255.6L1890.1 264.5M1893.7 372.5L1893.9 378.5M1894.1 422.8L1894.3 427.7M1896.1 438.7L1896.4 445.5M1900.2 149.4L1900.4 154.5M1900.4 154.5L1900.4 160.1M1901.2 211.2L1902.1 215.8M1900.6 238.4L1900.8 244.6M1900.8 244.6L1900.8 249.1M1904.2 300.6L1904.4 307.5M1903.7 326.3L1904 334.5M1905.2 380.2L1905.4 384.6M1906.1 404.1L1906.4 410.7M1906.1 428.8L1906.3 435.6M1906.3 435.6L1906 439.6M1907.7 484.6L1909.3 488.2M1912.7 194.7L1912.9 200.2M1911.6 237L1911.9 243.8M1911.9 243.8L1912.9 246.2M1913.1 275.6L1914 278.1M1914.4 312.1L1914.8 321M1917.3 348.7L1915.7 357.1M1916.3 374.4L1915.5 377.5M1915.5 388.4L1915.7 393.7M1915.7 393.7L1915.7 397.5M1922.5 135.9L1922.7 141.6M1922.7 141.6L1921.6 143.2M1923.7 258.6L1923.9 262.9M1927.8 379L1927.9 382.7M1927.3 406.4L1927.6 413.2M1929.6 429.3L1929.9 434.9M1930.7 456.3L1930.9 461.9M1934.2 149.2L1934.5 155.4M1933.5 169.5L1933.7 174.5M1936.9 232L1936.4 233.8M1936.8 281L1937 286.3M1938.2 310.7L1938.6 314.9M1939.2 342.7L1939.4 348.7M1938.5 363.8L1938.7 368.4M1937.5 378L1937.7 382.4M1939.3 425L1940.3 428.4M1943.8 142.3L1943.9 145.5M1944.8 168.9L1945.4 171M1946.3 207.4L1946.5 214M1947.5 235.1L1945.8 240.9M1947.9 262.9L1948.1 268.1M1950.7 388L1949.7 391.3M1951.6 422.6L1951.9 431.1"/><path id="nv5" d="M1270.1 517.8L1271.2 518.8M1275.2 125.8L1275.4 133.6M1274.2 148.4L1274.9 149.1M1277.5 268.1L1277.7 275M1277.7 275L1281.7 273.5M1286.2 332.1L1282.4 331.8M1286.4 338.3L1284.1 344.9M1280.4 369.7L1280.7 378.3M1283.5 385.5L1282.6 392.6M1282.1 448.9L1282.7 457.6M1282.5 463.5L1282.8 471.8M1292.6 110.8L1292.8 119.7M1293.2 130.7L1294.5 137.3M1294.7 153.6L1295.9 161.8M1295.9 161.8L1296.5 170.7M1296.8 248.5L1297.7 256.6M1298.6 285.8L1297.8 287.7M1300.8 316.9L1300.1 324.1M1301.3 340.8L1300.5 347.2M1300.5 347.2L1300.6 353.9M1306.7 399.3L1305.8 407.5M1305.7 431.9L1302.1 433.2M1317.2 127.3L1315.1 136.3M1315.1 136.3L1319.1 134.9M1315.1 136.3L1313.9 145.1M1319.1 166.1L1317.7 170.7M1319.4 189.9L1320.5 198.2M1320.5 198.2L1324.1 197.2M1322.6 232.4L1321.1 240.9M1321.4 318.8L1323.4 323.2M1319.2 371.6L1322.5 368.9M1321.7 383.7L1324.5 391.4M1324.5 391.4L1324.9 396.6M1324.9 396.6L1323.8 402.5M1323.1 474.4L1323.4 482.4M1323.4 482.4L1319.3 483.2M1322.5 491.1L1323.5 500M1323.5 500L1327.8 500.8M1338.5 150.6L1341.1 157.4M1340.3 176.7L1341.3 182.1M1341.3 182.1L1337.3 183.9M1339 234.7L1338.7 243.7M1338.7 252.1L1339.5 258.7M1343.3 322.6L1343.6 330.4M1340.1 404.8L1342.3 412.2M1357.5 105.2L1357.7 112.4M1359.6 127.6L1361.2 136.6M1360.9 147.5L1361.8 155.6M1363.8 238.4L1361.7 244.3M1359.2 280.9L1359.4 286.4M1359.4 286.4L1358 294.6M1359.9 325.5L1360.2 329.4M1360.3 367.6L1362.8 374.7M1362.4 382.9L1366.8 381.5M1362.4 382.9L1365.1 389.7M1365.1 389.7L1367.1 397.5M1365.8 404.3L1367.7 404.4M1366.4 480.9L1363.2 481.9M1366.8 523.1L1368.2 526M1378.6 110.4L1380.1 119.2M1380.1 119.2L1379.6 127.2M1377.8 157.2L1378.1 164.6M1375.7 180.4L1377.5 186M1377.8 239L1378 244.5M1378 244.5L1380.6 251.9M1384 310.6L1385.6 317.6M1385.6 317.6L1386.9 324.8M1385.2 336.1L1387.5 342.2M1387.5 342.2L1387.7 348.8M1387.7 348.8L1385.4 357.8M1384.3 443.6L1383.2 450.9M1383.2 450.9L1382.8 458.1M1383.2 470.2L1384.5 474.5M1393.2 143L1393.4 150M1396.5 213L1395.6 220M1397.1 241L1396.5 248M1399.5 297L1401.6 304M1403 346L1402 353M1402 360L1402.5 367M1402.5 367L1402.7 374M1399.6 402L1402.2 409M1401.8 472L1402.1 479M1400 136L1400.2 143M1401.4 178L1405.5 185M1406.2 213L1403.1 220M1406.7 241L1406.9 248M1406.9 248L1407.1 255M1407.4 262L1404.1 269M1404.3 290L1404.5 297M1411.6 430L1410.2 437M1410.2 437L1408 444M1396.5 213L1390.7 213.9M1397.1 241L1391.7 240.2M1401.4 178L1407.2 174.8M1404.1 206L1409.1 204.8M1408.3 374L1413 370.1M1419.8 113.1L1420 119.9M1419 134.6L1415.4 134.5M1420.3 162.9L1421.1 171.8M1421.7 175.6L1416.6 177.8M1420.1 221.4L1416.2 221.1M1423.7 274L1419.9 273.1M1425.9 291L1426.7 298.1M1426.7 298.1L1427.8 306M1428 312.6L1426.3 320.1M1421.1 370.2L1421.3 376.1M1425.5 413.2L1425.8 422.1M1431.1 444.8L1430.6 450.2M1424.7 464.9L1424.9 473.1M1427.5 481.6L1427.2 487.2M1427.2 487.2L1426.9 493.7M1441.3 144.4L1445.2 143.2M1442.7 152.6L1441.1 161.1M1439.4 174.1L1437.7 181.2M1441.4 235.5L1437.2 237.1M1444.5 289.9L1444.7 296.1M1444.3 303.6L1446.4 309.4M1446.4 309.4L1445.2 317.9M1445.2 317.9L1444.8 322.9M1446.8 329.9L1444.8 336.1M1447.9 431.3L1447.4 439.3M1463 117L1463.3 124.5M1460 169.5L1460.8 177M1458.5 198.9L1455.5 196.8M1458.5 198.9L1460.1 199.4M1459 241.6L1460.7 249.6M1462.9 281.1L1459.4 282.7M1462.9 299.5L1463.1 305M1465.4 319.6L1470.2 317.7M1465.4 319.6L1467.8 325.4M1465.4 345.4L1465.7 352.1M1465 357.6L1466.8 364.2M1466.8 364.2L1467.4 370M1467.4 370L1465.4 376.7M1469.2 394.3L1473.8 396.6M1469.2 394.3L1470.2 401.3M1470.5 408.2L1468.5 408.8M1465.2 448.1L1464.8 454.9M1479 106.6L1476.8 113.9M1479.3 217.9L1479.5 225.4M1483.6 244.2L1487.2 243.9M1482.1 267.6L1478.2 267.6M1484 308.9L1484.3 317.2M1485.2 323.2L1484.7 329.3M1482.4 364.6L1482.8 372.1M1488.3 477.9L1490.4 482.5M1497.3 144.5L1499.9 151.7M1500.6 170.4L1500.7 176.2M1501.2 183.1L1500.5 189.3M1501.2 231.7L1500.6 239.8M1502.5 254.7L1502.9 262.6M1502.4 291.8L1502.6 298.9M1502.6 298.9L1501.7 300.9M1502.5 375.9L1501.9 382.8M1502.8 418.8L1502.8 426.4M1502.8 426.4L1504.2 432.5M1504.2 432.5L1503.1 437.7M1510.7 124.2L1511 133M1511 133L1512.5 135.3M1514.4 233L1513.7 241.7M1517.9 273.3L1518.2 282.1M1518.2 335.5L1520.6 336.9M1518.9 438.1L1519.1 443.6M1524.1 469L1524.4 476.1M1530.2 214.6L1530.4 221.4M1535.8 281.4L1535 281.7M1534.1 387.3L1534.3 394.8M1539.2 443.4L1538.3 443.5M1546.1 132.2L1548.3 138M1548.8 180L1547.8 185.3M1549.1 205.5L1549.3 210.9M1548 217.3L1550.2 223.2M1551.7 330.1L1551.9 337.3M1555.4 412.6L1553.2 419.9M1564.6 168.2L1565.7 174.4M1564.9 224.8L1565.4 232.9M1565.1 272.9L1565.4 281.4M1565.5 286.9L1565.5 294.7M1565.4 300.6L1566 307.5M1566 307.5L1565.5 307.9M1569.4 359.5L1569.7 366.9M1571.7 425.2L1571.1 430.8M1573.2 470.4L1570.9 476.6M1578.9 102.3L1579.1 108.9M1578.4 213.5L1578.6 217.1M1582.1 302.6L1582.3 308.4M1582.3 308.4L1584.1 313.7M1584.1 313.7L1582.4 322.1M1582.4 322.1L1584.2 323.7M1583.8 360.3L1583.2 369.2M1581.9 391.5L1582.1 397.8M1582.4 403.9L1585.2 411.2M1587.7 437.1L1587.9 444.3M1596.4 158.7L1595.9 164.1M1597.6 194.8L1595.3 201.7M1601.6 344.5L1601.8 350.3M1598.1 409.2L1598.4 417.2M1598.7 425.6L1598.8 430.3M1611.8 163.5L1611 170.3M1611.8 178L1610.7 179M1614.2 241.4L1614.4 247.2M1610.8 271.6L1611.2 273.4M1614.4 339.8L1613.8 341M1619.1 428L1619.1 428.5M1624.2 164.6L1624.4 171.9M1631.7 328.1L1630.8 336.3M1629.4 376.2L1629.6 382.6M1629.6 382.6L1630.5 387.9M1630.8 398.2L1631.1 406.6M1631.1 406.6L1630 413.9M1631.1 424.7L1630.7 427.2M1631.7 462.9L1631.9 468.8M1640.4 126.5L1639.9 134.3M1642.5 139.9L1642 144.7M1644.3 178.8L1644.7 186.9M1641.8 224.3L1642 231.3M1645.2 251.4L1645.8 254M1645.8 271L1646 276.7M1645 287.6L1644.3 292.3M1646.3 316.6L1646.5 322.7M1646.5 322.7L1647.4 330.5M1647.4 351.7L1646.1 358.5M1646.7 369.2L1648.3 376.4M1647.9 411.2L1646.5 413.1M1648 445.1L1647.1 448.4M1649.9 477.6L1651.7 482.3M1657.1 124.2L1655.1 127.8M1658.4 240.6L1657 249.1M1657 249.1L1657.7 253.6M1659.6 323L1659.9 331.5M1663.8 396.9L1663.3 403.8M1667 477L1667.3 485.9M1668.1 491.5L1668.4 500.3M1672.7 172.1L1671.7 180.5M1671.7 180.5L1671.8 189.2M1676.1 260.9L1675.2 267.2M1675.2 267.2L1673.7 274.2M1673.7 274.2L1673.5 275.5M1677.8 297.4L1678.1 305.4M1675.6 367.4L1675.9 375.7M1677.9 447.9L1679.2 449.8M1686.3 144.1L1687.5 151.1M1691.3 179.9L1691 188.8M1688.3 207.3L1688.6 213.7M1688.6 213.7L1688.4 219.7M1688.6 225L1689.7 233.2M1694.3 306.1L1694.5 313.1M1695.1 418L1695.4 424.8M1697.2 431.2L1695.9 437M1694.2 443.6L1694.6 450M1703.3 113.5L1703.6 120M1703.6 120L1701.9 128.2M1703 172.3L1704.4 179.3M1709 225.4L1706.9 229.9M1706.2 314.6L1707.3 320.5M1709.1 331.6L1709.4 339.6M1709.7 367.3L1710 376.1M1708.6 397.3L1710.4 405M1716.8 105.6L1717 109.8M1718.4 142.7L1718.6 150M1723.3 370.4L1723.6 377.8M1730.1 126L1730.3 131.6M1732.8 235.6L1731.5 240.8M1731.5 240.8L1731.3 243.5M1735.5 319.5L1734.9 321.6M1734.6 352.8L1734.9 360.4M1734.9 360.4L1734.8 364.9M1738.4 464.7L1738.7 473.2M1741.1 161.2L1741.3 165.2M1743.7 207L1742.9 209.7M1745.7 288.8L1745.9 294.1M1744.7 301.5L1744.8 305.5M1745.4 321.9L1745.4 322.7M1746.2 343.9L1746.4 349.9M1746.9 410.2L1747.1 417.4M1752.2 153.8L1752.3 156.6M1755 271.3L1755.3 279.6M1755.3 279.6L1756.8 283.2M1758.4 337.9L1758.5 343.5M1757.8 358.8L1758.1 366.5M1760 459.3L1760.3 467.6M1763.2 145.4L1763.4 151.1M1767.2 276.6L1767.5 285.4M1768.7 334.5L1768.9 340.1M1770 383.3L1770.2 390.8M1770.1 428L1771.6 432.3M1772.5 455.3L1772.8 461.5M1774.8 120.6L1775 126.3M1777.4 185L1777.5 188.7M1778.7 223.7L1778.8 223.9M1781.9 402.1L1781.9 403M1787.8 183.3L1788.1 190.3M1790.5 368.3L1790.8 375.7M1793.4 449.1L1793.7 457.4M1800.8 206.9L1801 214.2M1799.9 254.6L1800.1 259.9M1800.1 259.9L1800.5 265.1M1802.2 289.7L1802.4 296.2M1807.2 477.2L1807.4 483.8M1810 151.2L1810.3 157.4M1812.1 271.7L1812.2 275.8M1813.2 281.6L1813.4 288.7M1813.9 371.2L1814.1 376.7M1815.8 405.2L1816.1 412.8M1818.1 101.1L1818.3 107.3M1820.9 179.4L1821 183M1821.4 238.7L1823 240.8M1822.7 270.4L1823 277M1823 277L1823 281.7M1825.7 315.9L1825.8 318.9M1826.5 337.6L1825 338.5M1825.5 359.3L1825.8 366.6M1825 387.1L1825.3 394M1827.9 466.1L1828.1 470M1832.7 173.8L1832.9 179.5M1833.3 208.8L1833.5 214.8M1836 329.7L1836.3 337.1M1838.2 350.2L1836.7 356.7M1842.1 141.2L1842.6 144.8M1843.1 156.5L1843.3 162.4M1843.3 162.4L1843 167M1845.4 190.7L1845.6 197.3M1846 207.7L1846.2 214M1847 234.3L1845.5 240.8M1845.5 240.8L1845.6 242.7M1845.9 258.7L1846.1 265.5M1847.6 301.2L1847.7 301.4M1848 380.1L1848.1 384.4M1850.1 429.7L1850.3 434.3M1851 444.6L1851.3 450.8M1851.3 450.8L1850.2 456.7M1854.3 124.6L1853.1 130.6M1853.9 153.7L1854.1 160.4M1854.8 178.6L1855 183.7M1856.9 208.5L1857.1 215.8M1857.8 284.8L1858.6 289.8M1859.4 399.5L1859.5 404.9M1863.8 480.8L1864 487.1M1864 121.9L1864.2 127.3M1864.9 146.1L1866.2 152.2M1867.4 173.6L1865.9 175M1868.4 289.7L1869.8 290.2M1871.9 433.3L1872 435.7M1877.1 131.5L1875.8 134.8M1877.1 171.8L1877.3 177.3M1879.2 227.2L1879.3 229.7M1882 322.4L1881 323.2M1883.3 345.7L1881.7 354.7M1881.7 354.7L1880.3 356M1881.1 376L1881.3 383.6M1881.3 383.6L1881.5 387.9M1884.1 417.9L1884.4 426.1M1889.2 153L1889.3 156.2M1891.8 289L1892 295.4M1891.9 313.3L1892.1 318.7M1894.6 347L1893.2 348.9M1897.6 479.4L1896.9 482.1M1899.3 121.9L1898 125M1901.2 185.7L1900.3 186.6M1901.3 264L1901.6 269.7M1905.1 375L1905.2 380.2M1912.9 200.2L1912.2 203.3M1913.3 217.7L1913.5 223M1913.5 223L1914.4 224.3M1918.2 464.8L1918.8 465M1921.1 112L1921.3 117.4M1923.7 169.7L1922.5 175.5M1923.5 203.9L1923.8 210.8M1924.3 224.7L1924.5 229.9M1924.4 236.8L1924.5 241.6M1923.5 252.7L1923.7 258.6M1926.3 289.2L1926.4 292.5M1925.3 300.7L1925.5 306.6M1925.5 306.6L1925.5 306.7M1931.7 120.8L1931.9 124.8M1933.9 179.6L1934.7 180.6M1936.7 226.9L1936.9 232M1934.9 255.6L1935.1 260.7M1939.4 348.7L1939.9 351.4M1943.1 106.2L1943.3 112.1M1946.5 214L1946.7 215.5M1945.8 240.9L1946.8 244.7M1947.7 295.3L1947.8 300.1M1948.3 311.9L1948.6 319.4M1951.2 350.8L1949.6 358.9M1950.4 379.5L1950.7 388M1951.9 431.1L1950.9 433.1"/><path id="nv6" d="M1275.7 141.6L1274.2 148.4M1281.5 165.7L1281.7 171M1282.3 192.2L1282.6 199.7M1282.6 199.7L1282.7 205.8M1283.4 228.3L1283.5 234.7M1277.7 275L1279.9 280.9M1286.4 338.3L1290.3 339.1M1284.1 344.9L1286.5 351.7M1280.7 405L1282.7 407.8M1293 125L1293.2 130.7M1294.5 137.3L1298 139.5M1302.8 221.6L1302.3 228.3M1302.3 228.3L1302.6 228.7M1300.2 263.7L1303.5 265.2M1300.7 311.7L1300.8 316.9M1306 458L1306.2 463.5M1307.3 484.6L1306.7 486.2M1315.8 150.2L1318.7 158.9M1320.5 198.2L1321.1 203.3M1320.3 208.4L1323.6 207M1320.3 208.4L1321.2 216.1M1321.1 312L1321.4 318.8M1323.4 323.2L1326.8 322.8M1322 350.3L1318.8 356.3M1318.8 356.3L1318.5 364.3M1318.5 364.3L1319.2 371.6M1325.4 446.3L1327.6 453.7M1326.1 461.6L1330.3 461.4M1326.1 461.6L1324.6 463M1323.4 482.4L1322.5 491.1M1323.3 516.5L1323.5 520.9M1338.8 115.7L1339 123M1341.3 163L1341.6 170.9M1341.6 170.9L1337.6 170.5M1341.6 170.9L1340.3 176.7M1340.5 188L1345.2 186.1M1340.5 188L1341 195.4M1343.6 330.4L1342.6 338.2M1342.6 338.2L1344 343.5M1344 343.5L1345.3 350.2M1340.3 364.3L1340.6 372.3M1342.5 384.4L1337.9 384M1342.8 420.8L1341.5 428.1M1357.5 121.4L1359.6 127.6M1361.8 155.6L1361.9 160.7M1362.1 167.1L1356.9 167.6M1362.1 167.1L1359.8 173M1359.8 173L1357.5 174.9M1361.5 216.7L1361.7 222.2M1361.7 222.2L1361.8 231M1361.8 231L1364.9 233.7M1361.7 244.3L1363.9 251.4M1358 294.6L1358.3 302.6M1358.8 318.1L1359.9 325.5M1359.8 347.2L1358.9 352.7M1367.1 397.5L1363.2 400M1367.1 397.5L1365.8 404.3M1365.5 453.9L1364.7 462.1M1364.7 462.1L1368.9 462.7M1364.7 462.1L1364.8 467.7M1366.2 475L1366.4 480.9M1366.2 487.3L1361 486.6M1366.2 487.3L1368 495M1368 495L1369.7 501.4M1368.9 515.5L1366.8 523.1M1368.2 526L1363.8 528.5M1379.6 127.2L1375.6 124.8M1377.6 173.2L1375.7 180.4M1377.5 186L1382.2 187.4M1376.4 193.3L1376.7 198.4M1376.7 198.4L1380.6 201M1377.8 264.8L1382.5 267.1M1384 310.6L1387.8 309.7M1386.9 324.8L1386 330.6M1385.4 357.8L1389.6 359.3M1385.4 357.8L1385.1 358.3M1382.8 388.9L1386.8 390.5M1382.8 388.9L1383.2 397.8M1384 463.5L1383.2 470.2M1393.4 150L1393.6 157M1398.5 199L1396.5 206M1395.6 220L1397.5 227M1396.5 248L1396.8 255M1396.8 255L1396.3 262M1396.3 262L1400.5 269M1402 353L1402 360M1402.7 374L1401.1 381M1403.6 122L1400.7 129M1402.6 157L1400.9 164M1404.1 269L1405.7 276M1405.7 276L1404.6 283M1404.5 297L1404.7 304M1406.5 346L1405.1 353M1408.5 458L1408.7 465M1394.7 178L1401.4 178M1396.3 262L1407.4 262M1402 353L1405.1 353M1399.1 388L1393.8 387.5M1409.4 416L1414.1 413.2M1418.1 239L1421.5 236.5M1418.1 239L1418.5 246.1M1426.6 333.9L1425.6 340.6M1421.3 376.1L1421.8 383.5M1425.8 422.1L1429.7 421.9M1426.9 493.7L1425.4 500.9M1427.2 506L1429.1 506.4M1439.4 128.9L1434.9 130.9M1439.4 128.9L1439.4 137.5M1441.1 161.1L1439.6 167.7M1439.7 188.8L1443.9 190M1441.5 222.6L1440.9 229.8M1441.9 242.1L1444 247.9M1444 247.9L1444.5 256.1M1444.7 296.1L1444.3 303.6M1444.8 336.1L1442.9 342.1M1446.1 393.9L1441.1 395M1446.1 393.9L1446.8 402.6M1448.2 422.6L1447.9 431.3M1462 130.4L1463.4 136M1462.4 140L1457.7 138.9M1460.8 177L1460.7 183.2M1459.7 263.2L1460 269.7M1467.8 325.4L1468.5 330.4M1465 357.6L1468.5 359.5M1469 388.7L1469.2 394.3M1470.2 401.3L1470.5 408.2M1468.5 408.8L1464.9 408.2M1465.2 467.9L1465.5 476.6M1476.8 113.9L1477.7 119.9M1477.7 119.9L1478 126.3M1478 126.3L1479.5 134.3M1479.2 161.9L1481.4 170.7M1482.6 176.5L1481.2 182.4M1481.2 182.4L1479.4 185M1479.5 225.4L1479.8 232.3M1483.6 244.2L1486.2 251.8M1484.3 317.2L1485.2 323.2M1484.7 329.3L1482.3 335.5M1482.3 359.5L1482.4 364.6M1487.3 414.7L1485.4 420.4M1485.4 420.4L1489 418.7M1487.1 469.7L1488.3 477.9M1498.3 157L1498.2 165.2M1501.8 269.4L1500.5 275.7M1500.5 275.7L1502 282.9M1502 282.9L1502.4 291.8M1503.6 353.9L1504.4 360.1M1501.9 382.8L1501.5 388.3M1510.5 117.6L1510.7 124.2M1513.9 154.6L1514.1 161.6M1513.7 241.7L1515.6 247.9M1517.9 289.5L1518 295.3M1520.9 315.3L1521.1 322.3M1520.1 330L1518.2 335.5M1519.3 369.1L1520.7 371.4M1522.2 395.6L1522.4 400.8M1522.4 400.8L1521.2 408.3M1524.4 476.1L1522.4 484.5M1530 209.5L1530.2 214.6M1534.8 326.5L1536.8 333.2M1537.4 356.6L1537.6 363.9M1537.8 370.3L1538 375.3M1534.3 394.8L1535.2 400.2M1535.2 400.2L1534.9 402.1M1538.2 428.1L1537 435.8M1545.8 107.4L1546 112.9M1548.6 167L1548.8 173M1548.8 173L1548.8 180M1551.9 235.2L1551 240.2M1550.8 246L1551.5 254.1M1551.5 254.1L1551.6 259.4M1549.1 275.5L1549.4 284.2M1551.3 307.2L1550 310.5M1551.9 337.3L1550.4 343.8M1550.4 343.8L1550.2 352M1555.2 406.3L1555.4 412.6M1551.3 426.7L1551.5 432.7M1562.9 119.6L1563.2 128.2M1563.2 128.2L1564.3 132.1M1564.1 153.9L1565.2 160.4M1563.6 241.6L1563.9 250.4M1568.9 372.5L1570.2 380.6M1570.2 380.6L1568.2 380.8M1572.4 456.4L1572 462.2M1578.6 137.7L1578.8 144.5M1578.8 144.5L1578.3 146.6M1578.2 238.3L1578.4 245.2M1580.7 250.7L1579.6 257.9M1585.2 411.2L1586.7 416.2M1587.5 431.7L1587.7 437.1M1587.9 444.3L1588 451M1588 451L1587.5 459.4M1587.5 459.4L1585.9 461.8M1590.9 109.1L1593.3 116.1M1595.3 127.9L1595 133M1596.1 150.3L1596.4 158.7M1595.3 201.7L1595.1 207.5M1597.7 248.7L1597.9 254.7M1598.8 295.3L1597.6 302.5M1599.6 310L1600.5 313.4M1600.6 357L1600.8 363.7M1603.7 470.5L1602.2 478.5M1614.4 247.2L1613.4 252.8M1616.6 313.3L1616.8 318.7M1617 411.7L1617.3 419.6M1623 130.3L1623.4 133.2M1624.4 171.9L1626.1 175.7M1626.6 208.2L1626.9 216.8M1626.4 257.1L1628.7 262.3M1628.7 262.3L1627.1 268.5M1629.5 280.1L1630.4 284.1M1631.4 316.9L1629.6 322.9M1630 413.9L1632.4 419.2M1632.4 419.2L1631.1 424.7M1631.9 468.8L1634.6 471.8M1643.2 210.7L1641.5 216.8M1641.5 216.8L1641.8 224.3M1645 245.7L1645.2 251.4M1646.7 281.9L1645 287.6M1647.4 330.5L1648.5 334.3M1647.6 404.3L1647.9 411.2M1646.3 436.4L1648 445.1M1656.2 112.1L1657.9 119.2M1657.9 119.2L1657.1 124.2M1656 177.1L1657.1 178.8M1661.6 269.6L1661.8 275.2M1661.7 339.2L1661.4 344.8M1662.3 374.2L1662.6 382.6M1663.9 389L1663.8 396.9M1668.4 500.3L1668.6 508M1668.6 508L1668.7 509.7M1673 122.8L1673.2 128.7M1673.3 136.3L1674.3 140.5M1674.7 209.7L1675 217.9M1675 217.9L1674.1 223.1M1674.1 223.1L1674.3 229.6M1675.9 255.1L1676.1 260.9M1675.2 319.3L1675.4 325.6M1675.9 375.7L1677.5 380.7M1678.5 397.8L1678.7 404.3M1680.8 410.7L1680.1 412.1M1677.4 433.2L1677.6 439.6M1680.2 468.2L1680.4 475.1M1680.4 475.1L1680.1 482M1691.1 174.1L1691.3 179.9M1694.5 313.1L1694.8 320.2M1695.4 382.4L1695.7 389M1695.9 437L1694.2 443.6M1702.1 136.1L1702.3 143.3M1704.4 179.3L1703.4 186.4M1707.5 207L1708.7 213.5M1708.7 213.5L1708.7 220.2M1708.4 274.7L1709.3 283.3M1708.3 389L1708.6 397.3M1713.5 434.2L1713 442.2M1718.6 150L1718.2 152.3M1720.6 199.9L1720.7 204.4M1720.1 210.5L1720.4 217.5M1719.1 237.2L1721 242.5M1719.7 255.9L1720 264.5M1720 264.5L1721.7 265.5M1720.8 284.7L1720.9 290M1720.9 290L1721 291.3M1723.1 397.1L1723.3 402.1M1725.6 409.1L1725.8 414.3M1733.3 217.1L1733.5 223.4M1732.5 260.9L1732.7 266.3M1734.8 333L1735 338.3M1734.4 377.3L1734.6 383.2M1736.7 399.8L1735.7 405.5M1739.5 116.3L1739.8 123.4M1742.2 186.7L1742.3 190.1M1743.4 198.2L1743.7 207M1745.2 274.4L1745.2 275.7M1745.2 315.2L1745.4 321.9M1746.4 349.9L1746.5 351.9M1746.4 360.4L1746.6 365.6M1747.8 395.5L1748 399.9M1747.1 417.4L1747.3 421.2M1749 449.6L1749.3 456M1753.4 172.2L1753.5 176.5M1753.5 189.8L1755 192.6M1754.5 217.9L1754.7 224.9M1754.7 224.9L1756.3 228.5M1756.4 313.1L1757.1 315.9M1758.1 366.5L1758.2 370.5M1758.4 388.2L1758.7 396.5M1761.9 110.9L1762 113.8M1763.2 132.4L1763.4 138.2M1763.4 151.1L1763.5 155M1765.9 181.3L1766.1 186.3M1767.3 218.8L1765.9 222.9M1767.5 285.4L1768.2 285.6M1767.5 356.8L1769.1 358.4M1768.1 373.8L1768.3 377.9M1774.4 144L1774.6 149.2M1775.1 160.5L1775.4 169.2M1778.1 205.9L1778.2 209.8M1778.9 271.1L1779 274.4M1777.8 280.2L1777.9 284.5M1781.6 393.4L1781.9 402.1M1783.9 467.9L1784.1 473.8M1785 124.3L1785.2 129.8M1786.6 146.8L1787.5 151.4M1788.6 223.1L1790.1 225.3M1787.9 238.4L1788.1 243.9M1788.2 255.9L1788.3 260.1M1790.2 271.8L1790.5 278.1M1791.1 336.3L1791.2 339.8M1792.8 422.2L1793 428.7M1793.7 457.4L1793.8 459.4M1796.3 114.4L1796.5 120.6M1800.1 187.6L1800.3 193.1M1800.2 232.4L1798.9 238.7M1801.3 307.1L1801.5 312.2M1803.4 323.4L1803.6 329.8M1804.3 348L1804.3 350.2M1802.6 391.1L1802.9 397.7M1805.2 420.7L1804.9 421.6M1805.5 430.4L1805.8 438M1806.4 454.3L1806.4 456.1M1810.9 174.9L1811.2 183.6M1811.2 183.6L1809.8 185.7M1811.9 232.7L1811.3 236.4M1813.4 288.7L1813.6 292.7M1813.7 335.8L1814 342.9M1815.9 432L1816 435.9M1816.7 451L1817.6 451.2M1820.7 134.5L1820.9 137.9M1820.7 158.6L1820.9 165M1822.1 188.1L1822.3 194.5M1823.5 211.7L1823.8 218M1823.7 260L1823.7 261.7M1826.5 426.6L1826.7 431.4M1828.7 446.3L1827.3 448.8M1830.7 138.4L1831.4 143.3M1834 228.6L1834.2 234.4M1835.5 274.6L1835.7 280.3M1837.8 388.6L1838.2 397.2M1838.4 444.2L1839.9 445.6M1842.6 115.1L1842.9 121.7M1847.4 294.8L1847.6 301.2M1848.2 314.9L1848.4 319.2M1847.1 323.6L1847.3 329M1848.5 337.6L1848.8 345.6M1855 183.7L1855.5 186.5M1855.5 199.1L1855.7 203.1M1856.9 243.6L1857.1 247.6M1857.4 262.2L1857.6 266.9M1857.6 279.7L1857.8 284.8M1857.9 310.7L1858.2 317.9M1859.1 342.3L1859.2 345M1867.2 209.5L1868.7 210.6M1867.7 222L1867.9 229.2M1868.3 246.4L1868.5 251.6M1869.7 372.9L1869.9 380.6M1872.6 412.6L1872.7 416.7M1871.6 426.5L1871.9 433.3M1873.4 474.8L1873.6 481.3M1877.9 192.5L1878 195M1884.4 426.1L1884.5 429.7M1883.8 443.8L1884.1 449.8M1888.1 123.7L1888.3 128M1889.6 164.2L1889.8 170.3M1890.1 264.5L1890.2 267.4M1891.7 307.7L1891.9 313.3M1894.3 339.3L1894.6 347M1893.9 378.5L1893.6 383M1893.7 411.4L1893.8 414.9M1896.4 445.5L1895.5 449M1899.1 115.9L1899.3 121.9M1901 179.4L1901.2 185.7M1900.9 204.3L1901.2 211.2M1904.4 307.5L1904.5 310.6M1909.3 126.3L1910.8 127.6M1912.8 267.4L1913.1 275.6M1915.3 297.6L1915.5 301.8M1914.8 321L1914.9 324.1M1915.5 340.5L1915.6 344.5M1921.3 117.4L1921.8 118.2M1923.5 163.8L1923.7 169.7M1930.9 461.9L1931 464.6M1931.5 115.4L1931.7 120.8M1936.6 211L1936.7 215M1935.1 260.7L1936.7 263.8M1938.1 392.3L1938.3 398.4M1941.3 459.8L1942.2 463.5M1943.3 112.1L1942.8 114.3M1943.6 135.7L1943.8 142.3M1944.6 163.4L1944.8 168.9M1945.7 192.6L1945.9 196.6M1947.1 280.8L1947.3 285.5"/><path id="nv7" d="M1274.9 149.1L1271.6 151.7M1281.7 171L1278 171.8M1281.6 177.9L1285.5 175.1M1281.6 177.9L1282.1 186.1M1282.7 205.8L1282.4 214.2M1282.7 220.3L1283.4 228.3M1283.5 234.7L1283.3 238.8M1279.9 280.9L1278.4 289M1278.4 289L1278.4 297.3M1285.9 323.4L1286.2 332.1M1286.2 332.1L1286.4 338.3M1283.5 385.5L1286.9 383.8M1282.6 392.6L1280.9 398.6M1280.9 398.6L1280.7 405M1281.6 433L1281.8 440.3M1281.8 440.3L1282.1 448.9M1292.8 119.7L1293 125M1302.1 201.8L1302.3 208.1M1302.3 208.1L1302.5 213.4M1302.5 213.4L1302.8 221.6M1296.5 240.4L1296.8 248.5M1297.3 279.8L1300.4 282.3M1297.3 279.8L1298.6 285.8M1297.8 287.7L1293.7 287.7M1300.1 324.1L1299 333.1M1300.6 353.9L1300.5 362.1M1300.5 362.1L1296.8 362.2M1306.5 391L1306.7 399.3M1305.8 407.5L1306.4 416M1305.7 431.9L1304.5 437.4M1306.2 463.5L1305.9 470M1305.9 470L1307.4 475.9M1316.9 118.8L1317.2 127.3M1313.9 145.1L1315.8 150.2M1315.8 150.2L1319 152.5M1318.7 158.9L1319.1 166.1M1321.9 224.2L1317.1 226.9M1323.2 304.1L1321.1 312M1318.8 356.3L1314.7 357.4M1319.2 371.6L1319 377.9M1324.5 391.4L1328.8 390.7M1325.9 430L1322.6 430.4M1339 123L1338.8 129.9M1339.9 135.8L1339.2 136.1M1338.4 145.4L1338.5 150.6M1341.1 157.4L1341.3 163M1341 195.4L1342 201.4M1338.7 243.7L1338.7 252.1M1339.5 258.7L1337.9 265.7M1337.7 293.5L1340.4 299.4M1345.3 350.2L1343.4 351.5M1340.6 372.3L1340.2 379.2M1341.7 390.8L1339.9 398.1M1339.9 398.1L1340.1 404.8M1342.3 412.2L1342.8 420.8M1357.7 112.4L1357.5 121.4M1361.2 136.6L1361 142.3M1361 142.3L1366.1 141.7M1358.3 302.6L1359.9 310.6M1365.3 448.1L1365.5 453.9M1366.4 480.9L1366.2 487.3M1369.7 501.4L1370.5 507.7M1378.4 104.3L1378.6 110.4M1378.6 110.4L1383.6 109.7M1380.4 134.5L1381.8 143M1376.7 198.4L1376.5 205.1M1378.2 212.5L1376.8 213.5M1379 270.5L1380.9 276.4M1380.9 276.4L1383.2 276.9M1386 330.6L1385.2 336.1M1382.6 381.6L1382.8 388.9M1383.2 397.8L1380.9 400.3M1383.5 413.6L1383.8 422.1M1393.1 129L1394.5 136M1394.5 136L1393.2 143M1394.7 178L1396.5 185M1396.5 185L1394.7 192M1397.5 227L1396.8 234M1396.8 234L1397.1 241M1400.1 276L1398.7 283M1398.7 283L1401.2 290M1403.3 416L1400.9 423M1400.5 150L1402.6 157M1400.9 164L1401.1 171M1402.1 199L1404.1 206M1407.1 255L1407.4 262M1404.7 304L1407.8 311M1405.7 332L1405.8 339M1409.3 360L1407.9 367M1408.3 374L1406.4 381M1406.9 409L1409.4 416M1408.3 451L1408.5 458M1393.6 157L1400.5 150M1397.1 241L1406.9 248M1401.6 304L1404.7 304M1401.1 381L1410.2 388M1396.5 185L1391.5 188.5M1398.1 318L1393.3 319.5M1407.4 262L1412.2 258.7M1419 134.6L1418.9 140.4M1419.9 214.5L1420.1 221.4M1420.1 221.4L1419 230.2M1419 230.2L1418.1 239M1418.5 246.1L1418.4 249.4M1423.5 268.8L1423.7 274M1423.7 274L1426.4 282.1M1426.4 282.1L1425.9 291M1426.3 320.1L1425.5 328.4M1423.9 390.4L1426.2 395.4M1426.2 395.4L1426.8 403.4M1425.8 422.1L1427.9 428.5M1425.4 500.9L1427.2 506M1439.2 123.5L1439.4 128.9M1439.7 188.8L1438.2 196.2M1440.9 229.8L1441.4 235.5M1444.5 256.1L1445.6 264.2M1444.4 349.7L1442.9 356.5M1449.9 415.9L1448.2 422.6M1463.4 136L1462.4 140M1460.4 156L1460.6 162.4M1460.6 162.4L1460 169.5M1458.8 191.5L1458.5 198.9M1459.6 232.6L1459 241.6M1460 269.7L1461.6 275.4M1462.9 281.1L1465.3 284.6M1463.8 311.5L1465.4 319.6M1465.4 376.7L1463.5 378.8M1465.7 428.7L1464.7 434.9M1464.7 434.9L1464.3 441.1M1465 462.3L1465.2 467.9M1478.9 155.5L1479.2 161.9M1479.6 211.4L1479.3 217.9M1479.8 232.3L1481.1 237.5M1483.2 263.3L1482.1 267.6M1482.3 335.5L1482.5 340.7M1482.5 340.7L1482.5 340.9M1482.8 372.1L1482.4 380.3M1482.6 385.4L1483.3 385.7M1487.3 406L1487.3 414.7M1484.8 443.2L1485.6 451M1485.6 451L1485.6 458M1485.6 458L1485.2 464M1485.2 464L1487.1 469.7M1499.2 122.4L1499.4 130.6M1499.4 130.6L1498.8 139.2M1498.8 139.2L1497.3 144.5M1499.9 151.7L1498.3 157M1502.4 246.9L1502.5 254.7M1504.6 344.9L1503.6 353.9M1504.4 366.9L1502.5 375.9M1503.1 437.7L1504.5 445.2M1516.6 200.8L1518.2 206.5M1518.2 282.1L1517.9 289.5M1520.7 310.2L1520.9 315.3M1517.3 353.5L1517.6 362.4M1521.2 408.3L1520.1 416.3M1519.1 443.6L1519.3 450.6M1529.6 123L1529.8 128.5M1529.8 128.5L1527.6 136.4M1530.2 202.3L1530 209.5M1533.9 276.3L1535.8 281.4M1545.3 118.4L1543.6 125.6M1550.2 223.2L1549.3 224.7M1551 240.2L1550.8 246M1549.4 284.2L1551.5 287.7M1553 301L1551.3 307.2M1563.9 147.5L1564.1 153.9M1565.7 174.4L1564 179.7M1563.9 250.4L1566 258.5M1565.4 281.4L1565.5 286.9M1571.1 409L1571.4 417M1571.4 417L1571.7 425.2M1572.1 447.7L1572.4 456.4M1577.4 117.9L1577.7 124.2M1577.8 157.5L1577.2 163.7M1576.9 169L1577.1 175.5M1580.1 196.6L1579.7 204.7M1579.7 204.7L1578.4 213.5M1579.6 257.9L1581.2 265.4M1582.6 376.1L1584.8 378.2M1582.1 397.8L1582.4 403.9M1595.2 122.5L1595.3 127.9M1596.2 174.5L1596.4 180.1M1596.4 180.1L1597.4 188.8M1595.1 207.5L1597 207.6M1597.6 302.5L1599.6 310M1598.4 417.2L1598.7 425.6M1601.2 457L1601.4 464M1606.5 119.6L1606.8 128M1606.8 128L1607 131.9M1610.3 149.6L1610.5 155.5M1613.1 221.8L1614.2 230.6M1613.4 252.8L1611.5 258.4M1610.4 266.6L1610.8 271.6M1616.8 318.7L1614.4 324.1M1614.4 324.1L1614.1 332.2M1612.9 371.1L1613.1 376.4M1613.1 376.4L1612.9 383.5M1618.1 452.6L1617 459.5M1617 459.5L1616.2 461M1622.8 124.2L1623 130.3M1626.1 249.8L1626.4 257.1M1626.7 273.7L1629.5 280.1M1631.1 308.1L1631.4 316.9M1629.6 322.9L1631.7 328.1M1630.8 336.3L1630.5 337.4M1630.5 387.9L1629.6 389.6M1645.6 263.9L1645.8 271M1646.1 358.5L1646.1 363.6M1648.3 376.4L1648.2 381M1645.9 420.1L1646.2 428.9M1649.7 471.8L1649.9 477.6M1655.1 157.7L1655.3 163.9M1660.5 201.1L1661.1 208.5M1661.7 227.7L1662 234.7M1662 234.7L1658.4 240.6M1661.8 275.2L1662.3 281.3M1662.8 296L1663.1 303.8M1659.9 331.5L1661.7 339.2M1662.1 441.7L1662.4 449.3M1662.8 462.5L1665.3 463.4M1667.3 485.9L1668.1 491.5M1671.8 189.2L1673.9 193.9M1678.1 305.4L1678.8 306.7M1675.4 325.6L1676.9 332.1M1677.2 338.1L1677.8 341.8M1677.6 439.6L1677.9 447.9M1688.6 115.9L1688.8 123.5M1687.5 151.1L1690.4 158.7M1692.4 278.1L1691.9 285.2M1694.8 320.2L1695.2 329M1695.2 329L1693.8 334.6M1695.2 377L1695.4 382.4M1702.3 143.3L1701.7 148.9M1708.7 220.2L1709 225.4M1708.8 260.2L1709.1 269M1709.3 283.3L1709.9 284.8M1710 376.1L1711.6 381.6M1712.9 417.8L1713.2 425.5M1721.3 299.1L1721.5 304.9M1721.5 304.9L1721.5 305.1M1726.2 429.2L1726.3 434.5M1726.3 434.5L1726.7 440.4M1732.6 278.5L1732.8 286.4M1732.8 286.4L1734.4 288.2M1740.9 155.9L1741.1 161.2M1744.2 247.6L1743.5 248.9M1747.3 380.6L1747.5 386.4M1754.1 209L1754.3 212.6M1755.4 245.2L1755.7 251.9M1758.5 343.5L1759 345.5M1758.7 396.5L1758.6 396.7M1766.8 253.7L1767.2 257.8M1767.5 308.4L1767.8 316.5M1769 350.6L1767.5 356.8M1775.4 169.2L1776.8 169.5M1777.2 179.3L1777.4 185M1778.5 217.1L1778.7 223.7M1779.1 316.4L1779.3 323.3M1780.7 343.6L1781 352.4M1781 352.4L1778.7 354M1781.5 431L1781.6 435.7M1786.4 139.6L1786.6 146.8M1788.1 190.3L1788.6 192.4M1790.5 320.2L1792.1 323.9M1793 349.1L1791.5 354.4M1794.3 474.2L1794.6 482M1796.5 120.6L1796.2 121.5M1802.4 296.2L1801 298.4M1803.2 367.7L1803.5 373.7M1804.9 413.7L1805.2 420.7M1806.2 448.2L1806.4 454.3M1808.2 118.5L1808.4 125.3M1810.3 157.4L1810.4 161.5M1810.9 208.3L1811.1 213.7M1817 477.5L1817.1 479.5M1821 141.2L1821.3 149.4M1826.2 330.3L1826.5 337.6M1825.8 366.6L1824.8 367.9M1826 407.6L1825.9 409.3M1828.5 441L1828.7 446.3M1830 118.6L1830.2 124.3M1834.2 234.4L1832.7 239.5M1835 260.2L1833.5 260.5M1836.3 296.4L1836.4 300.6M1835.7 320L1835.8 324.5M1836.3 337.1L1836.3 338.2M1837.2 370.3L1837.4 376.4M1837.4 376.4L1837.5 377.6M1838.2 397.2L1838.2 397.7M1839.1 424L1839.3 428.7M1846.9 278L1847 281.6M1847.3 329L1848.8 330.3M1848.8 345.6L1848.9 347.2M1847.8 374.8L1848 380.1M1851.3 481.2L1852.6 483.2M1858.8 334.9L1859.1 342.3M1858.3 370.4L1858.5 376.8M1862 438.9L1862.3 445.4M1862.3 445.4L1862.7 449.8M1863.6 475.5L1863.8 480.8M1864.2 127.3L1864.9 127.9M1867 203.6L1867.2 209.5M1868.5 251.6L1868.7 256.8M1869 353.9L1869.2 359.1M1874.4 461.4L1874.5 465.2M1877.6 158.7L1877.8 164.4M1878.9 254.4L1879 258.6M1880.4 267.8L1880.6 273.2M1881 301.1L1881.2 306.5M1881.2 306.5L1881.8 307.1M1887.4 103.2L1887.6 110M1897.3 471.3L1897.6 479.4M1901.6 269.7L1901.7 273.3M1903.3 353.3L1903.6 359.2M1903.6 359.2L1903 359.6M1906.4 410.7L1906 411.4M1908 455.2L1908.3 461.8M1907.4 477.3L1907.7 484.6M1909 118L1909.3 126.3M1910.1 146.5L1910.3 152.7M1910.3 152.7L1910.4 155M1910.8 165.1L1911.1 173M1916.1 368.1L1916.3 374.4M1916.5 418.9L1916.7 425.2M1916.7 425.2L1916.9 429.7M1918 459.4L1918.2 464.8M1923.8 210.8L1924.9 211.9M1927.4 317.1L1927.6 322.2M1927.6 322.2L1927.8 328.6M1926.9 345.1L1925.3 352.7M1927.5 372.7L1927.8 379M1929.9 434.9L1929.5 436.8M1933.7 174.5L1933.9 179.6M1935.9 242.1L1936.1 248.8M1937 286.3L1937.5 287.2M1938 305.3L1938.2 310.7M1938.3 398.4L1938.7 403.2M1939 417L1939.3 425M1941.1 453.1L1941.3 459.8M1950.5 331.8L1950.7 337.6M1948.4 367.1L1948.6 371.3"/><path id="nh0" d="M133.1 134.1L136.6 131.8M143.7 249.2L138.9 247.6M142.9 262.9L149.1 261.5M145.1 269.3L141.5 270.3M143.5 273.5L148.7 272.5M149.5 472.3L147.5 473M162.8 213L177.6 220M165.9 283L184.1 276M168.8 437L185.3 430M171.7 388L163.6 387.8M178 150L186.1 152M177.6 220L188.5 219.9M182 283L192.3 282.3M191.7 409L201 407.2M185.3 430L195.4 431.1M209.8 122L228.8 122M210.8 178L228.7 171M204.6 227L229.4 220M206.4 290L226.3 290M207.8 311L232.4 304M209.4 332L235.7 332M205.6 367L237.4 374M213.2 416L230.2 416M210.3 150L201.4 147.1M205.9 220L197 221M207.7 465L197.1 469M233.1 248L241.1 248.6M232.2 346L240.4 343.4M232.4 388L242.8 391.7M246.7 122L264.2 122M247 143L262.7 136M250.5 192L264.3 199M253.4 248L273.7 241M255.7 290L274.2 290M257.8 311L274.8 311M258.1 325L277.6 325M252.8 388L269.8 388M252.9 360L242 360.5M260 416L250.3 415M274.8 311L284.7 313.7M272.5 430L282.2 427.6M293.1 227L313.4 227M296.9 255L313.6 248M299.8 304L308.7 304M298.4 353L316.3 346M302.5 416L315.6 409M288.3 171L278 172.6M303 437L293.1 438M315.8 332L323.5 330.1M325.6 122L345 115M332.7 143L347.4 136M330.7 213L351.2 220M329.8 241L348.6 234M333.6 283L354.2 276M335.9 409L357 409M328 164L319 165.1M327.1 192L318.2 192M332.5 353L324.8 350.9M335.9 409L326.4 412.5M354.8 353L363.5 355.9M355.9 388L364.4 391.9M357 409L364.7 412M371.4 164L392.9 171M375.4 220L387.8 213M372.7 248L389.9 241M376 318L402.1 318M379.8 430L404.7 423M383.3 451L401.2 458M387.2 472L398.5 472M370.9 150L362.6 151.1M377.8 346L369.4 348.2M381.9 395L374.2 398.6M389.9 199L397.8 201.2M388.3 234L395.8 232.9M393.4 290L403 291.4M392.6 353L402.1 353.7M411.7 115L429 115M416.4 248L433.4 248M418.2 269L429.7 276M423.3 332L438.8 332M414.2 367L438.6 367M417.9 283L409.1 282.2M424.9 465L416.1 463.4M442.2 381L449.4 377.4M455.1 171L464.2 178M447.5 206L465.4 206M455 360L474.8 367M459.3 388L477.5 381M447.6 115L438.7 115.2M455.7 136L447.9 135.6M454 311L445.3 307M451.9 339L443.3 342.3M470.8 150L478.9 151.7M464.6 192L473.4 190.1M468.1 283L475.8 285.9M473.7 388L482.1 391.1M478.7 430L487.9 426.1M487.7 115L506.1 115M493.3 255L510.5 262M497.9 374L514 381M508.9 157L518.7 158M505.7 248L514.5 245.9M513.4 269L523.3 268.1M519.4 395L526.6 397.8M510.4 423L520 421M523.3 129L542.7 136M523 143L542.7 136M525.6 171L547.3 178M530.4 199L552.3 199M529.1 283L555.2 283M528.7 332L555.6 325M532.3 423L555.2 430M540.4 458L551.1 451M532.1 213L523 210.6M533.2 248L525.8 248.7M535.8 367L526.6 368.7M545.7 143L554.5 145M541.5 164L551.4 161.6M551.2 206L559 209.4M550.8 395L558 396.2M551.1 451L560.2 451.5M565.8 178L576.7 178M569.2 269L586.8 269M571.2 332L589.7 339M575.6 346L589.9 346M565.4 129L556.8 127.6M576.2 374L568.5 371.8M583.2 115L591.9 118M587.3 241L595.1 239M588.1 318L595.7 319.4M586.3 381L593.4 384.4M597.1 157L610.4 164M600.8 171L610.4 164M601.1 199L613.7 206M606.3 374L616.6 381M601.1 199L594.2 197.6M610.8 178L617.7 182M613.5 248L622.1 248.8M624.1 325L632.4 321.6M616.1 360L623.5 361.9M634 297L651.8 290M634.8 332L653.9 332M635.2 346L653.4 339M643.1 409L634.4 411.9M641.8 451L633.8 454M653.4 339L661 338.8M663.6 115L681.6 122M671.4 304L689.3 311M677.6 339L691.6 339M672.4 374L685.1 381M675.5 409L689.5 416M666.7 206L660.1 204.9M671.7 437L665.1 438.4M689.6 276L697 272.1M689.3 311L697.3 312M685 388L693.3 391.1M703.1 185L713.9 178M704.2 325L722.1 332M703 346L722.5 353M703 360L722 367M707.9 416L719.8 409M706.9 423L699.2 420.3M713.9 178L721.4 174M717.1 220L724.4 220.8M718.2 248L724.9 244.3M737.1 115L752.9 115M732.9 213L748.3 220M737.1 360L758.4 367M738.4 409L761.6 409M739.3 444L755.4 437M742 241L733.3 242.3M738.2 402L729.4 398.4M739.5 451L731.3 453.4M748.7 206L756.6 205.1M753 311L759.9 313.7M770.8 248L784 255M769.3 269L784.3 269M770.6 318L792.4 325M775.7 458L797.3 451M774.7 171L765.9 169.2M777.1 332L768.3 330M779.7 353L772.6 351M787.9 220L795.9 218.7M784.2 262L791.7 265.7M806 136L817.6 129M805.1 248L818.9 255M808.2 395L822.9 402M814.4 444L826.4 437M811.6 332L805.6 329.5M812.3 458L806.2 455.3M817.6 129L824.5 129.4M818.9 255L825.4 257.9M836.5 127.5L844.8 129.4M843.6 343.4L838.1 346.3M843.7 349.2L849.7 352M845.3 369.3L848.4 368.1M847.4 511.2L843.8 511.7M863.6 199L875.1 199M860.7 220L872.4 213M864.3 290L879.1 283M868.8 353L880.4 360M866.6 388L877.7 388M864.4 437L857.5 440.8M870.3 150L877.3 152.6M876.6 206L883.1 209.7M880.9 374L888.6 370.9M891.2 136L903 129M888.7 199L899.6 192M887.6 234L906 234M889.5 255L905.8 262M890.2 318L903.6 325M886.4 192L879.8 193.3M889.5 255L883 255.4M896.1 290L889.9 290.1M892.5 416L886 414.9M893.9 451L887 454M897.6 171L904.6 172.6M903.6 325L911.2 326.2M909.5 367L915.9 369.3M915 171L926.4 178M922.2 255L928.8 255M921.6 388L937.7 388M922.9 423L937.9 423M926.3 458L939.1 451M919.7 122L913.9 119.6M921.9 199L915.5 202.2M918.7 248L912 249.2M920.1 318L914.3 319.9M923.3 416L916 414.1M922 444L914.7 441.3M929.8 143L937.4 140.6M926.3 164L933.5 160.1M929.6 199L936.3 196M928.4 220L936 222.7M929.2 269L935.5 266.8M937.7 388L944 390M944.4 185L962.9 178M946.6 206L963.8 213M953.9 297L965 297M955.3 346L965.9 353M953.1 416L962 416M947.1 234L940.1 237.4M953.1 269L945.8 270.6M958.6 122L965.3 119.8M963.3 192L970.3 188.7M963.6 276L969.8 276.6M974.2 129L986.5 122M979.8 178L988.5 178M978.4 241L990.1 248M979.1 262L993.9 255M976.6 297L989.8 290M983.9 332L991.7 332M978 367L989.7 367M980.1 444L998.8 451M979.1 262L971.7 258.1M980.3 346L973.5 344.7M980.7 458L974.5 459.1M986.7 185L993.7 188.2M986.2 227L993.5 229M1013.8 174.5L1012 175M1008 188.9L1000.1 186.7M1018.9 410.6L1020.4 411M1029.8 178L1043.3 185M1037 276L1049.3 269M1035.1 304L1050.6 311M1037.1 241L1029.8 238.3M1040.6 381L1033.7 382.5M1059.5 196.8L1053.2 196.4M1068 285.6L1062.8 284.8M1068.5 360.9L1064.7 357.9M1085.6 157L1095.2 164M1086.5 304L1097.8 304M1090.7 332L1098.2 332M1088.8 423L1100.3 416M1086.2 220L1080.3 223.8M1089.3 143L1094.9 140.5M1101.5 409L1107.1 409.8M1099.8 465L1105.3 467.7M1112.2 169.7L1109.1 170.9M1110.5 267.8L1116.3 266.1M1117.8 329.6L1121.9 330.4M1121.9 491L1127.9 492.1M1140.5 437L1146.5 437M1131.7 122L1125.9 122.7M1132 178L1125.6 174.9M1135 325L1129.6 328.3M1147.3 262L1153.9 264.9M1164.8 326.4L1160.4 326.2M1169.9 367.9L1166.5 367.9M1188.5 339L1197.4 332M1188.3 360L1196.7 360M1185.6 416L1198.6 409M1180.3 227L1175 228.2M1185.2 381L1179.7 382.9M1191.4 122L1196.7 125.1M1189.7 150L1196.3 153.3M1195.8 276L1202.4 276.4M1196.8 311L1202.2 314.1M1197.7 339L1203.9 337.3M1199.7 437L1205.6 433M1217.4 317.5L1221.5 315.3M1221.4 456.4L1217.3 454.9M1222 511.2L1216.8 511.6M1229 192L1238.1 192M1236.4 283L1246 290M1232 297L1244.2 297M1232.4 360L1245.3 360M1237.9 388L1248.3 395M1233.5 213L1228.1 210M1235.5 255L1230 257.5M1232.3 290L1226.6 288.1M1235.5 381L1229.6 378.5M1235.4 444L1228.8 447.1M1238.9 220L1244.9 219.8M1243.1 262L1248.4 262.8M1259 255.4L1262.5 254.3M1265.8 350.3L1261.5 348.9M1963.5 157L1989.3 157M1964 290L1981.2 283M1965.9 346L1991.4 346M1968.2 437L1984.1 430M1967.1 171L1958.7 168.3M1960.4 297L1949.1 294.5M1979.3 115L1990.6 116.2M1994.5 332L2005.7 335.5"/><path id="nh1" d="M142.9 336.9L137.9 339.5M142.2 351L148.7 350.8M140.4 371.7L146.9 373.9M147.5 445.7L152.2 443.8M161.6 129L177.6 136M164.6 185L176.9 185M167.9 248L180.7 255M167.1 311L190 304M166.5 325L190.3 332M166.7 346L188.8 346M164.3 262L156.2 260.2M210 136L222.2 143M211.1 262L234.6 262M211 353L233 360M209.3 283L201.2 282.2M235.8 318L245.6 317M253.2 178L268.4 171M252.7 353L275.1 353M253.7 451L277 451M257.9 318L249.6 319.6M275.9 248L284.9 250.2M274.5 276L284.2 277.6M286.2 122L311.1 129M283 136L311.1 129M299.3 374L313 374M299.1 402L318 402M302.2 451L323.5 444M289.6 192L280 192M296.8 269L286.1 270.5M298.5 388L288.8 387.5M316 381L326.6 383.5M327.4 157L350.7 150M327.3 178L357.5 178M332.9 255L350.2 255M329.2 220L320.3 224M331.1 262L321.5 260.1M332.9 374L323.2 371M347.4 143L355.8 139.7M354.2 276L363.5 276.9M354.9 311L363.6 308.5M368.5 136L386.6 143M379.6 206L389.9 199M381 367L371.4 371M402.1 318L411.6 315.1M415.7 297L436.7 304M420.1 381L439.3 388M420.5 409L438 409M425.8 437L433.5 437M421.8 458L444.1 465M423.4 472L444.1 465M421.7 423L413.9 426.1M432.2 122L440.2 123.8M431.1 157L438.8 160.4M433.5 437L442.8 440.7M449.8 248L473.4 255M454 311L476 318M449.1 234L441.7 233.9M472.1 458L479.2 459.4M493.4 325L516.9 325M493.6 353L508 346M494.6 248L485.1 250.3M505.6 136L513.7 133.2M515.2 297L523 300.1M535.8 367L550.9 360M526 115L516.4 117.3M528 276L519.1 279.4M556.1 311L565.6 308.3M569 115L583.2 115M564.5 143L583.8 136M571.3 255L585.5 262M576.2 374L582.4 374M567.7 213L559.4 213.9M576.7 178L584.2 178.2M603.6 255L613.6 255M607.2 304L620.5 311M607.8 290L599.9 289M603.3 409L595.6 412M607 437L599 440.4M637.8 227L646.5 227M639.3 255L652.3 248M645.5 444L659.5 437M646.1 213L653.1 216.4M669.9 227L686.1 227M668.6 255L682.5 248M668.5 276L690.9 283M672.7 290L686.7 290M672.4 297L665.1 295.2M675.5 409L668.7 406.2M684.1 136L690.9 138.3M701.3 234L716.7 227M704.2 150L695.8 149.6M705.9 199L698.6 198.1M705.4 381L697.5 379M739.8 248L752.4 248M738 395L758.1 402M737.9 290L730.2 286.8M737.2 311L729.2 314.4M736.7 332L727.9 333.1M779.9 346L793.2 339M779.3 360L794.9 360M773.7 136L766.4 137.8M768.8 227L761.8 225M773.3 290L764.5 292.3M782 115L788.8 112.2M794.5 332L802.3 335.8M792.5 423L799.4 420.5M794.4 458L801.1 454.8M804.4 220L813.6 220M810.3 276L822.7 283M807.8 423L826 423M805 150L797.9 151.3M804.4 220L797.5 219.8M806.4 304L799.8 300.7M820.8 311L826.9 313.1M819.9 346L827.1 349.4M836.8 109.1L833.2 107M862.1 178L876 185M867.2 276L878.4 269M867.2 276L860.7 272.2M868.8 353L862.3 353M876.6 255L882.4 258.7M877 346L883.8 343.9M890.8 339L902.4 332M891.2 374L909.5 367M892.5 416L904 409M899.2 136L905.4 133.8M902.3 199L908.7 195.6M906.8 423L912.9 424.8M907.7 444L914.7 440.5M916 227L932.2 234M919.3 332L930.7 325M923.4 360L915.8 362.1M951.3 241L960.8 234M944.8 150L938.7 151.8M950 199L942.5 195.3M958.1 255L966 256.6M979.8 178L973.8 181.8M991.6 416L998.2 414.2M1013.2 139.4L1018.4 140.2M1030.2 192L1042.7 192M1040.8 395L1046.2 395M1036.2 423L1047.6 430M1036 416L1029 419.5M1049 255L1055.8 252.2M1049.8 283L1056.4 283.4M1069.9 277.9L1074.4 279.7M1083.2 241L1092.1 241M1089 367L1097.9 374M1082.7 192L1077.3 192M1092.2 444L1087 444.4M1090.5 185L1096 186M1099.4 311L1106.1 314.9M1100 388L1106.3 386.3M1109.7 240.2L1103.5 239.8M1119.9 335.6L1125.9 333.1M1129 115L1142.7 115M1131.8 213L1143.5 213M1135.4 339L1144.6 346M1136.4 402L1150.8 409M1136.2 381L1130 383.6M1137.2 430L1130.9 433.5M1138.4 129L1144.1 130.9M1146.9 423L1153.2 425.1M1156.8 165.5L1160.2 165.8M1160.8 309.1L1156.3 307.9M1168.3 405.3L1165 404M1170.1 482L1166.8 481.4M1180 220L1191.1 220M1186.2 262L1195.3 262M1188.2 388L1198.2 388M1186 255L1179.4 252.1M1184.2 318L1178 315.3M1186.2 353L1179.8 356.4M1189 178L1194.8 181.4M1217.4 296.6L1211.1 297.8M1209.7 359.3L1204 360.4M1239.4 129L1246.1 126.1M1264.9 353.9L1268.1 355.3M1267.1 386L1272.2 389M1261.7 453.1L1256.6 454.8M1955.8 115L1979.3 115M1966.6 311L1981.4 304M1960.9 381L1989.9 374M1955 122L1946.5 122.5M1961.9 409L1950.8 406.7M1965 451L1956.6 451"/><path id="nh2" d="M132.9 121.4L136.1 121.8M164.3 262L183.9 269M165.6 374L184.7 381M161.4 199L153.1 197M166.2 360L156.8 356.9M176.9 185L187.5 185.1M190.6 325L199.6 324.2M183.4 388L191.4 387.1M185.4 465L194.3 467.2M209.2 192L222.7 192M211.6 248L234.5 255M212.2 437L227.3 430M212.1 472L228.1 479M211.1 185L200.9 188.3M212.5 423L204.6 425M229 276L236.9 273.1M254.4 262L276.6 269M260.5 423L272.3 416M253.1 171L243.8 169.3M250.5 192L241.3 191.9M252.4 395L243.5 394.2M266.1 213L274.7 210.2M269.7 409L278.3 406.5M283.5 157L314.6 150M299.5 290L309 297M299.7 318L311.2 318M298.5 388L317.2 395M300 311L289.8 308.3M315.7 171L323.6 174.8M310.2 290L320.2 290.8M315.7 353L323.9 356.1M318.8 423L326.8 423.4M338.9 304L354.9 311M341.5 325L355.5 332M333.1 381L355.9 388M334.3 437L354 444M364.6 472L374.6 472.2M377 185L392.2 185M377.7 269L390.5 269M377.1 297L397.3 297M377.8 346L392.6 346M390.6 164L398.6 167.6M409.9 164L431.1 157M416.5 234L427.9 234M427.9 234L437.3 233.4M442.1 458L451.6 458.6M453.3 143L466.1 143M449.1 234L467 241M454.2 332L475.8 325M463 423L480.9 416M462.3 437L476.6 437M462.6 472L472.2 465M462.2 465L452.4 463.3M475.8 325L484.3 325M474.7 346L483.4 349.5M483.7 129L504.7 122M484.2 150L506 150M495.4 234L506.2 234M492 283L513.6 276M491.5 409L516.4 402M492 430L513.6 430M484 143L474.3 145.3M485.3 199L475.8 201.4M492.4 227L483.4 227.5M496.4 451L487.4 454.6M510.8 339L519 342M534 220L552.9 227M532.3 255L554.6 248M528.8 311L556.1 311M537.7 388L550.8 395M523.6 136L514.8 139.3M553.8 269L561.4 265.1M561.9 157L580.1 164M571.2 206L584.6 199M567.6 234L587.3 241M566.4 164L558.4 164.5M571.3 255L564.4 252M571.2 332L563.8 328.6M574 451L566.6 453.6M592.2 444L599.3 447.8M596.8 129L613.2 129M607.8 290L617.3 290M601.6 402L619.6 395M605.1 220L598.3 216.5M604.1 332L596.6 334.7M637 283L653.9 276M638.1 458L658.5 451M639.3 255L630.6 254.2M640.6 381L631.6 381.3M641.6 430L635 426.7M647.7 241L656.6 238.8M668.8 171L683.5 178M666.7 206L688.3 213M670.3 388L685 388M671.7 437L686.2 437M670 269L662.4 270.8M684.3 360L691.2 362.8M686.9 465L694.4 468.9M703.2 157L712.4 157M703.2 213L713.7 206M709.5 269L722.6 276M704 283L722.6 276M706.2 297L722.9 304M702.8 129L694.1 128.3M704.8 241L697.3 241.9M704.2 325L695.6 328.2M707.5 402L700.1 405M722.6 276L730.9 272.5M726.7 472L734.3 468.9M740 262L750.1 262M738.9 297L751.8 290M737.1 346L758.6 346M738.7 423L730.4 424.6M752.4 248L760.4 250.2M760.5 332L767.2 331M755.3 444L763.9 441M771 157L783.9 150M771.6 185L781.5 185M769.1 220L784.4 227M775.7 416L792.5 423M777.7 444L797.1 444M769.3 269L761.9 269.1M772.3 381L764.1 381M774.3 472L765.4 469.5M804.8 192L819.4 192M804.3 311L823.3 304M809.1 339L821.2 339M812.2 367L824.4 360M812.4 465L827.3 472M822.5 276L829.8 278.4M824.6 367L831.1 367.1M818.2 388L825.4 387.2M826 423L832.2 419.6M849.4 505.4L853.7 505.9M863 136L872.2 136M866.8 262L876.6 255M868.9 374L881.3 381M868.9 458L881.6 458M863 136L856.7 134.4M863.9 311L857.2 307.6M879.9 311L886.9 309.3M883.8 472L891.1 471.8M895.9 283L902.4 283M893.1 325L885.7 323.3M891.6 388L884.3 390.7M907.1 402L914.4 402.5M909.5 472L917 471M919.7 122L929 115M919.6 192L929.6 199M923.7 276L929.4 276M919.2 353L933.9 353M924.7 290L917.5 290.9M929.8 290L937 290.6M930.3 311L936.6 309.8M938.1 458L944.9 458.5M953.1 269L959.2 269M948.7 178L941.3 180.4M961.5 395L967.6 396.6M984.2 395L990.5 395M978.4 241L971.2 241.5M982.9 283L976.6 280.4M983 325L977.2 328.7M982.1 416L974.8 414.6M994.2 269L1001.9 269M991.2 346L998 342.7M990.5 388L996.4 389.5M1009.3 197.5L1012.4 198.9M1019.1 283.8L1024.1 280.8M1017.3 378.1L1008.7 379.4M1017.2 444.5L1011.2 445.4M1031.8 164L1044.3 171M1037.2 458L1047.8 451M1035.1 304L1028.6 307.9M1039.8 150L1045.4 151.3M1070.7 245.8L1066.7 246.9M1084.4 115L1089.6 115M1080.2 129L1090.5 122M1086.2 220L1091.5 220M1086.2 276L1080.5 274.7M1085.4 360L1079.7 359.6M1110.1 253.2L1115 251.1M1117.5 520.9L1114.3 521.5M1137.6 241L1146.7 241M1143.2 458L1147.1 458M1139.4 164L1145.6 161.5M1144 325L1150.2 326.2M1148.6 360L1154.1 356.4M1150.6 402L1155.9 402.2M1146.9 451L1153 451.7M1164 332.3L1168.4 332.7M1167.2 398.3L1172.9 397.8M1181.9 290L1196 283M1188.9 444L1197.7 444M1189.1 465L1200.7 472M1191 472L1185.9 475.2M1205.3 114L1198.8 115M1205.4 128.8L1200 129.2M1205.6 183.9L1202 181.6M1218.5 309.6L1214.4 307.6M1224.3 498.2L1217.4 495.6M1226.5 122L1239.4 129M1233 346L1246 353M1239.3 409L1248.2 409M1235.4 444L1248.7 437M1232.5 164L1226.6 166.9M1238.3 423L1232.8 422.3M1253.2 134.2L1249.2 134.8M1256.9 164.1L1253.1 164.6M1960.5 185L1990.6 192M1962.9 241L1984.7 241M1965.4 360L1992.6 367M1968.6 465L1985.7 472M1960.8 150L1949.4 146.9M1961.5 255L1952.6 258.9M1966.8 430L1956 431.6M1987.9 143L1996 139.1M1993.6 360L2003.3 360.9M1985.3 437L1996.8 438.9M1985.7 472L1994.9 468.3"/><path id="bt" d="M149.3 114.3L151.7 236.3L153.7 236.3L156 352.6L156.5 352.6L159 478.4M192.7 117.2L195.2 236.3L197 236.3L199.4 352.6L199.9 352.6L202.4 478.4M235.3 117.5L237.8 236.3L239.6 236.3L242 352.6L242.4 352.6L245 478.4M277.1 116.5L279.7 236.3L281.4 236.3L283.8 352.6L284.1 352.6L286.8 478.4M319.8 109.4L322.6 236.3L324.2 236.3L326.7 352.6L327 352.6L329.7 478.4M361.6 116.5L364.3 236.3L365.8 236.3L368.4 352.6L368.5 352.6L371.3 478.4M401.6 114.6L404.3 236.3L405.7 236.3L408.4 352.6L408.5 352.6L411.3 478.4M440 110.4L442.9 236.3L444.2 236.3L446.9 352.6L446.9 352.6L449.8 478.4M477.9 112.5L480.8 236.3L482 236.3L484.8 352.6L484.8 352.6L487.7 478.4M516.8 106.9L519.8 236.3L521 236.3L523.8 352.6L523.7 352.6L526.7 478.4M555.6 113.2L558.6 236.3L559.7 236.3L562.5 352.6L562.4 352.6L565.4 478.4M588.4 114.1L591.4 236.3L592.4 236.3L595.3 352.6L595.2 352.6L598.2 478.4M623.2 111.4L626.3 236.3L627.2 236.3L630.1 352.6L629.9 352.6L633 478.4M657.6 117L660.6 236.3L661.5 236.3L664.4 352.6L664.2 352.6L667.3 478.4M690.9 107.4L694.1 236.3L694.9 236.3L697.9 352.6L697.6 352.6L700.8 478.4M725.1 114.8L728.3 236.3L729 236.3L732 352.6L731.7 352.6L734.9 478.4M759.4 114.6L762.6 236.3L763.3 236.3L766.3 352.6L765.9 352.6L769.2 478.4M793.3 110.4L796.6 236.3L797.2 236.3L800.3 352.6L799.9 352.6L803.2 478.4M822.9 117.9L826.1 236.3L826.6 236.3L829.7 352.6L829.3 352.6L832.6 478.4M850.5 110.8L853.9 236.3L854.4 236.3L857.5 352.6L857 352.6L860.4 478.4M879 108.1L882.5 236.3L882.9 236.3L886.1 352.6L885.6 352.6L889 478.4M907.8 115.3L911.2 236.3L911.5 236.3L914.7 352.6L914.2 352.6L917.6 478.4M936.1 106.7L939.7 236.3L940 236.3L943.2 352.6L942.6 352.6L946.1 478.4M966.2 112.6L969.6 236.3L969.8 236.3L973.1 352.6L972.5 352.6L976 478.4M994.7 109.2L998.3 236.3L998.4 236.3L1001.7 352.6L1001 352.6L1004.6 478.4M1022.9 113.4L1026.4 236.3L1026.5 236.3L1029.8 352.6L1029.1 352.6L1032.7 478.4M1049.9 114.4L1053.4 236.3L1053.5 236.3L1056.8 352.6L1056.1 352.6L1059.7 478.4M1074.2 116.2L1077.7 236.3L1077.6 236.3L1081 352.6L1080.2 352.6L1083.9 478.4M1098.9 119.9L1102.3 236.3L1102.2 236.3L1105.6 352.6L1104.8 352.6L1108.5 478.4M1124 117.1L1127.5 236.3L1127.4 236.3L1130.8 352.6L1130 352.6L1133.7 478.4M1147.8 106.1L1151.6 236.3L1151.5 236.3L1154.9 352.6L1154.1 352.6L1157.8 478.4M1171.8 112.5L1175.6 236.3L1175.3 236.3L1178.8 352.6L1177.9 352.6L1181.7 478.4M1196.1 113.5L1199.8 236.3L1199.5 236.3L1203 352.6L1202.1 352.6L1205.9 478.4M1221.1 107.4L1225 236.3L1224.7 236.3L1228.2 352.6L1227.3 352.6L1231.1 478.4M1245.9 111.5L1249.8 236.3L1249.4 236.3L1252.9 352.6L1251.9 352.6L1255.8 478.4M1266.5 106.3L1270.6 236.3L1270.1 236.3L1273.7 352.6L1272.7 352.6L1276.6 478.4"/><path id="bm" d="M1286.3 115L1290.1 236.3L1289.6 236.3L1293.2 352.6L1292.2 352.6L1296.1 478.4M1305.9 117L1309.6 236.3L1309.1 236.3L1312.7 352.6L1311.7 352.6L1315.6 478.4M1325.9 107.1L1329.9 236.3L1329.4 236.3L1333 352.6L1331.9 352.6L1335.9 478.4M1346.4 117.7L1350.2 236.3L1349.5 236.3L1353.2 352.6L1352.1 352.6L1356.1 478.4M1366.9 108.9L1371 236.3L1370.3 236.3L1374 352.6L1372.9 352.6L1376.9 478.4M1387.3 111.7L1391.3 236.3L1390.6 236.3L1394.3 352.6L1393.2 352.6L1397.2 478.4M1407.9 106.2L1412.1 236.3L1411.4 236.3L1415.1 352.6L1413.9 352.6L1418 478.4M1428.7 106.8L1433 236.3L1432.2 236.3L1435.9 352.6L1434.7 352.6L1438.8 478.4M1449.1 110.8L1453.2 236.3L1452.3 236.3L1456.2 352.6L1454.9 352.6L1459 478.4M1469.6 119.5L1473.5 236.3L1472.6 236.3L1476.5 352.6L1475.2 352.6L1479.3 478.4M1489.2 119.7L1493 236.3L1492.1 236.3L1496 352.6L1494.6 352.6L1498.8 478.4M1504.5 113.4L1508.6 236.3L1507.7 236.3L1511.6 352.6L1510.2 352.6L1514.4 478.4M1520.8 108.5L1525.1 236.3L1524.1 236.3L1528 352.6L1526.6 352.6L1530.8 478.4M1537.6 118.9L1541.6 236.3L1540.6 236.3L1544.5 352.6L1543.1 352.6L1547.3 478.4M1553.6 114L1557.7 236.3L1556.6 236.3L1560.6 352.6L1559.1 352.6L1563.4 478.4M1569.5 118.8L1573.5 236.3L1572.4 236.3L1576.4 352.6L1574.9 352.6L1579.2 478.4M1585 115.7L1589.1 236.3L1588 236.3L1592 352.6L1590.5 352.6L1594.8 478.4M1600.8 119.9L1604.7 236.3L1603.6 236.3L1607.6 352.6L1606.1 352.6L1610.4 478.4M1616.8 115.4L1621 236.3L1619.8 236.3L1623.8 352.6L1622.3 352.6L1626.6 478.4M1632.2 112.7L1636.5 236.3L1635.3 236.3L1639.3 352.6L1637.8 352.6L1642.1 478.4M1648 117.2L1652.1 236.3L1650.8 236.3L1654.9 352.6L1653.3 352.6L1657.7 478.4M1663.3 109L1667.7 236.3L1666.4 236.3L1670.5 352.6L1668.9 352.6L1673.3 478.4M1679.2 119.2L1683.3 236.3L1682 236.3L1686.1 352.6L1684.5 352.6L1688.9 478.4M1694.8 117L1699 236.3L1697.6 236.3L1701.7 352.6L1700.1 352.6L1704.5 478.4"/><path id="bw" d="M1711.1 116.4L1715.4 236.3L1714 236.3L1718.1 352.6L1716.5 352.6L1720.9 478.4M1723.3 114.3L1727.6 236.3L1726.2 236.3L1730.3 352.6L1728.6 352.6L1733.1 478.4M1734.4 109.3L1738.9 236.3L1737.4 236.3L1741.6 352.6L1739.9 352.6L1744.4 478.4M1745.9 115L1750.2 236.3L1748.7 236.3L1752.9 352.6L1751.2 352.6L1755.7 478.4M1757 110.3L1761.5 236.3L1760 236.3L1764.2 352.6L1762.5 352.6L1767 478.4M1768.2 107.1L1772.8 236.3L1771.3 236.3L1775.5 352.6L1773.8 352.6L1778.3 478.4M1779.9 118.2L1784.1 236.3L1782.6 236.3L1786.8 352.6L1785 352.6L1789.6 478.4M1790.8 107.9L1795.4 236.3L1793.9 236.3L1798.1 352.6L1796.3 352.6L1800.9 478.4M1802.2 111.6L1806.7 236.3L1805.1 236.3L1809.3 352.6L1807.6 352.6L1812.2 478.4M1813.4 109.5L1818 236.3L1816.4 236.3L1820.6 352.6L1818.9 352.6L1823.4 478.4M1824.8 111.5L1829.4 236.3L1827.7 236.3L1831.9 352.6L1830.2 352.6L1834.7 478.4M1836.2 114.3L1840.7 236.3L1839 236.3L1843.2 352.6L1841.4 352.6L1846 478.4M1847.7 118.6L1852 236.3L1850.3 236.3L1854.5 352.6L1852.7 352.6L1857.3 478.4M1858.9 118L1863.3 236.3L1861.6 236.3L1865.8 352.6L1864 352.6L1868.6 478.4M1870.2 117.6L1874.6 236.3L1872.8 236.3L1877.1 352.6L1875.3 352.6L1879.9 478.4M1881.5 117.5L1885.9 236.3L1884.1 236.3L1888.4 352.6L1886.6 352.6L1891.2 478.4M1892.8 118L1897.2 236.3L1895.4 236.3L1899.7 352.6L1897.8 352.6L1902.5 478.4M1904.1 117.1L1908.5 236.3L1906.7 236.3L1911 352.6L1909.1 352.6L1913.8 478.4M1915.2 112.1L1919.8 236.3L1918 236.3L1922.3 352.6L1920.4 352.6L1925.1 478.4M1926.4 109.2L1931.1 236.3L1929.3 236.3L1933.6 352.6L1931.7 352.6L1936.4 478.4M1937.6 108.8L1942.4 236.3L1940.5 236.3L1944.9 352.6L1943 352.6L1947.7 478.4M1948.9 108.2L1953.7 236.3L1951.8 236.3L1956.2 352.6L1954.3 352.6L1959 478.4"/><linearGradient id="cba" x1="0" y1="0" x2="0" y2="1"><stop offset="0" stop-color="#ecc178"/><stop offset="0.2" stop-color="#ee9e69"/><stop offset="0.4" stop-color="#c27b50"/><stop offset="0.55" stop-color="#8e5a39"/><stop offset="0.7" stop-color="#5c3823"/><stop offset="0.85" stop-color="#2c1a10"/><stop offset="1" stop-color="#050302"/></linearGradient></defs>
<g clip-path="url(#ca)"><rect x="128.2" y="121.0" width="1863.4" height="356.4" fill="#be794e"/><g filter="url(#wob)" fill="none" stroke="#eb9c66" stroke-linecap="round" stroke-width="5.9"><use href="#nv0"/><use href="#nv1"/><use href="#nv2"/><use href="#nv3"/><g stroke-width="4"><use href="#nv4"/><use href="#nv5"/><use href="#nv6"/><use href="#nv7"/></g><g stroke-width="5.2"><use href="#nh0"/><use href="#nh1"/><use href="#nh2"/></g></g><g fill="none" stroke="#0b0603"><use href="#bt" stroke-width="5.4"/><use href="#bm" stroke-width="5.5"/><use href="#bw" stroke-width="5.6"/></g></g>
<rect x="74" y="156.2" width="33.6" height="278.6" fill="url(#cba)"/>
<text x="0.5" y="142.8" font-size="30.4" textLength="112" lengthAdjust="spacingAndGlyphs">2.2 µm</text>
<text x="90.1" y="467.4" font-size="30" text-anchor="middle">0</text>
<text x="20" y="49.5" font-size="50" font-weight="bold">a</text>
<text x="1047.5" y="32.5" font-size="42" text-anchor="middle" textLength="271.5" lengthAdjust="spacingAndGlyphs">Stitched scan</text>
<text x="164.5" y="87.4" font-size="31" textLength="147.5" lengthAdjust="spacingAndGlyphs">Line index</text>
<text x="131.2" y="86.4" font-size="30.4" text-anchor="middle">1</text>
<path d="M134.9 97.3V110" stroke="#000" stroke-width="2.4" fill="none"/><path d="M129.1 108.6H140.7L134.9 119.6Z" fill="#000"/>
<text x="499.7" y="96.2" font-size="30.4" text-anchor="middle" textLength="36" lengthAdjust="spacingAndGlyphs">10</text>
<path d="M499 98.2V110" stroke="#000" stroke-width="2.4" fill="none"/><path d="M493.2 108.6H504.8L499 119.6Z" fill="#000"/>
<text x="836.8" y="96.2" font-size="30.4" text-anchor="middle" textLength="36" lengthAdjust="spacingAndGlyphs">20</text>
<path d="M838 98.2V110" stroke="#000" stroke-width="2.4" fill="none"/><path d="M832.2 108.6H843.8L838 119.6Z" fill="#000"/>
<text x="1111" y="96.2" font-size="30.4" text-anchor="middle" textLength="36" lengthAdjust="spacingAndGlyphs">30</text>
<path d="M1111.6 98.2V110" stroke="#000" stroke-width="2.4" fill="none"/><path d="M1105.8 108.6H1117.4L1111.6 119.6Z" fill="#000"/>
<text x="1336.7" y="95.2" font-size="30.4" text-anchor="middle" textLength="36" lengthAdjust="spacingAndGlyphs">40</text>
<path d="M1337.7 97.2V110" stroke="#000" stroke-width="2.4" fill="none"/><path d="M1331.9 108.6H1343.5L1337.7 119.6Z" fill="#000"/>
<text x="1531" y="98.6" font-size="30.4" text-anchor="middle" textLength="36" lengthAdjust="spacingAndGlyphs">50</text>
<path d="M1530.8 100.6V110" stroke="#000" stroke-width="2.4" fill="none"/><path d="M1525 108.6H1536.6L1530.8 119.6Z" fill="#000"/>
<text x="1671.2" y="96.2" font-size="30.4" text-anchor="middle" textLength="36" lengthAdjust="spacingAndGlyphs">60</text>
<path d="M1671.5 98.2V110" stroke="#000" stroke-width="2.4" fill="none"/><path d="M1665.7 108.6H1677.3L1671.5 119.6Z" fill="#000"/>
<text x="1800.4" y="98.6" font-size="30.4" text-anchor="middle" textLength="36" lengthAdjust="spacingAndGlyphs">70</text>
<path d="M1798.3 100.6V110" stroke="#000" stroke-width="2.4" fill="none"/><path d="M1792.5 108.6H1804.1L1798.3 119.6Z" fill="#000"/>
<text x="1919.5" y="96.2" font-size="30.4" text-anchor="middle" textLength="36" lengthAdjust="spacingAndGlyphs">80</text>
<path d="M1920.2 98.2V110" stroke="#000" stroke-width="2.4" fill="none"/><path d="M1914.4 108.6H1926L1920.2 119.6Z" fill="#000"/>
<rect x="149.6" y="152.9" width="45.2" height="40" fill="none" stroke="#fff" stroke-width="5.2" stroke-dasharray="5.2 6.2"/><text x="171.4" y="183.6" font-size="31.5" text-anchor="middle" fill="#fff">1</text>
<rect x="1315.3" y="126.9" width="45.3" height="41.1" fill="none" stroke="#fff" stroke-width="5.2" stroke-dasharray="5.2 6.2"/><text x="1338.1" y="158.7" font-size="31.5" text-anchor="middle" fill="#fff">2</text>
<rect x="1787.7" y="128.6" width="44.1" height="40.6" fill="none" stroke="#fff" stroke-width="5.2" stroke-dasharray="5.2 6.2"/><text x="1810" y="159.9" font-size="31.5" text-anchor="middle" fill="#fff">3</text>
<path d="M148 442.1H1972" stroke="#fff" stroke-width="6.1" fill="none"/><path d="M128.6 442.1L157.7 427.1L149 442.1L157.7 457.1Z" fill="#fff"/><path d="M1991.2 442.1L1962.1 427.1L1970.8 442.1L1962.1 457.1Z" fill="#fff"/>
<text x="1069" y="423.5" font-size="48.6" text-anchor="middle" font-weight="bold" fill="#fff" textLength="130" lengthAdjust="spacingAndGlyphs">1 mm</text>

<defs><filter id="bl1" x="-5%" y="-5%" width="110%" height="110%"><feGaussianBlur stdDeviation="1.1"/></filter><filter id="bl15" x="-5%" y="-5%" width="110%" height="110%"><feGaussianBlur stdDeviation="1.5"/></filter><filter id="bl2" x="-5%" y="-5%" width="110%" height="110%"><feTurbulence type="fractalNoise" baseFrequency="0.09" numOctaves="2" seed="4"/><feDisplacementMap in="SourceGraphic" scale="8" xChannelSelector="R" yChannelSelector="G"/><feGaussianBlur stdDeviation="1.6"/></filter><filter id="bl3" x="-5%" y="-5%" width="110%" height="110%"><feTurbulence type="fractalNoise" baseFrequency="0.07" numOctaves="2" seed="8"/><feDisplacementMap in="SourceGraphic" scale="9" xChannelSelector="R" yChannelSelector="G"/><feGaussianBlur stdDeviation="2"/></filter><clipPath id="cb"><rect x="129.2" y="557.3" width="469.3" height="446.8"/></clipPath><clipPath id="cc"><rect x="833.9" y="561" width="469" height="446.7"/></clipPath><clipPath id="cd"><rect x="1520.1" y="558.4" width="471.2" height="446.4"/></clipPath><linearGradient id="eg" x1="0" x2="1" y1="0" y2="0"><stop offset="0" stop-color="#0a0503"/><stop offset="0.55" stop-color="#4a2c1a"/><stop offset="0.85" stop-color="#80502f"/><stop offset="1" stop-color="#be794e"/></linearGradient><linearGradient id="eh" x1="0" x2="1" y1="0" y2="0"><stop offset="0" stop-color="#be794e"/><stop offset="1" stop-color="#0a0503"/></linearGradient></defs>
<g clip-path="url(#cb)"><rect x="129.2" y="557.3" width="469.3" height="446.8" fill="#bd774b"/><g fill="none" stroke="#eb9a64" stroke-linecap="round" stroke-linejoin="round" filter="url(#bl2)"><path d="M172.2 569.1L174.7 583.1L177.3 597.1" stroke-width="21.6"/><path d="M323.7 569.1L359.4 570.4" stroke-width="38.2"/><path d="M345.4 585.7L342.8 603.5L336.5 623.8" stroke-width="26.7"/><path d="M335.2 626.4L330.1 639.1" stroke-width="21.6"/><path d="M323.7 662L349.2 669.7" stroke-width="43.3"/><path d="M313.5 682.4L344.1 688.8" stroke-width="33.1"/><path d="M356.8 662L379.7 661.5" stroke-width="20.4"/><path d="M379.7 661.5L390.4 662" stroke-width="8.7"/><path d="M295.7 677.3L303.3 687.5" stroke-width="15.3"/><path d="M396.3 662L405.2 658.2" stroke-width="8.7"/><path d="M420.5 657L451 651.9L466.3 662" stroke-width="38.2"/><path d="M451 672.2L481.6 692.6" stroke-width="38.2"/><path d="M481.6 697.7L512.2 723.2" stroke-width="50.9"/><path d="M517.2 728.3L537.6 758.8" stroke-width="53.5"/><path d="M540.2 761.4L552.9 791.9" stroke-width="48.4"/><path d="M552.9 791.9L550.4 819.9" stroke-width="43.3"/><path d="M303.3 700.8L277.9 702.8L247.3 700.8" stroke-width="12.2"/><path d="M234.6 702.8L216.8 705.3" stroke-width="30.6"/><path d="M211.7 713L196.4 733.3" stroke-width="40.7"/><path d="M193.8 735.9L188.8 758.8" stroke-width="38.2"/><path d="M196.4 774.1L221.9 779.2" stroke-width="56"/><path d="M178.6 794.5L196.4 804.6" stroke-width="38.2"/><path d="M158.2 799.6L170.9 809.7" stroke-width="20.4"/><path d="M239.7 779.2L272.8 791.9L298.3 809.7" stroke-width="33.1"/><path d="M298.3 809.7L323.7 826.3" stroke-width="29.3"/><path d="M323.7 827.6L344.1 837.2" stroke-width="15.3"/><path d="M344.1 837.2L350.5 840.3" stroke-width="6.6"/><path d="M364.5 847.9L400.1 840.3L438.3 830.1" stroke-width="33.1"/><path d="M438.3 832.7L476.5 822.5L517.2 814.8" stroke-width="43.3"/><path d="M507.1 830.1L537.6 825" stroke-width="50.9"/><path d="M377.2 870.9L412.8 865.8" stroke-width="43.3"/><path d="M458.7 865.8L502 863.2L537.6 855.6" stroke-width="33.1"/><path d="M481.6 888.7L517.2 886.1" stroke-width="38.2"/><path d="M463.8 881L481.6 893.8" stroke-width="30.6"/><path d="M387.4 888.7L420.5 893.8" stroke-width="50.9"/><path d="M397.6 911.6L389.9 937.1" stroke-width="71.3"/><path d="M384.8 947.2L372.1 972.7" stroke-width="78.9"/><path d="M364.5 982.9L349.2 1013.5" stroke-width="84"/><path d="M519.8 909.1L532.5 932L547.8 957.4" stroke-width="24.2"/><path d="M547.8 957.4L554.2 982.9L558 1013.5" stroke-width="26.7"/><path d="M228.2 1007.1L234.6 1013.5" stroke-width="15.3"/></g><g filter="url(#bl1)"><path d="M174.6 589.1L175.5 596.8M330.9 571.4L337.1 572.7M319.2 572.1L323.5 569.4M356 565L357 569.2M335.4 559.9L339.7 555.5M331.6 558.6L336.3 553.3M348.4 570.4L357.9 565.4M344.8 581.6L342.6 586M331.5 621.7L338.5 623.2M338.7 620.7L332.4 621.5M338.7 632.5L330.3 638.6M322.1 662L329.6 660M327.8 682.4L336.3 687.3M319.3 673L325 672.3M340.4 684.8L347.6 684.6M318.1 676.5L321.7 673.6M367.3 655.8L373.1 663.4M384.2 660.4L389.6 663.2M300.8 685.7L298.5 690.3M299.8 680.2L300 689.1M428.4 640.5L437.9 642.5M454.2 671.8L456.3 667.4M454.3 687.6L457.9 694.2M481.7 676.4L486.1 679.9M499.7 710.8L502.7 720.3M505.5 727.3L512.2 726.7M492.5 694.2L497.1 704.1M494.2 700.5L494.7 709.5M486.5 712.3L490.7 713.9M501.9 718L510.7 718.8M502.4 698.5L505.7 702.4M495.1 700.5L500.6 707M498.5 687.4L498.6 696.6M532.7 750.6L541.7 751.6M509.7 725.9L513.8 731.6M510.8 725.9L516.5 734.6M535 739L537.9 742.4M561.7 780.7L566 785.3M538.1 795.8L541.6 798.8M540.3 810.8L539.5 815.5M546.5 812.2L548.5 821.7M542.1 807.4L547.9 810.3M547.8 792.8L547 799.2M307.6 696.7L302.6 703.2M287.2 701.3L279.6 704.5M253.9 703.5L248.3 700.7M223.5 700.5L220.5 709M230.6 695.4L222.6 698.8M214.4 717L208.1 717.5M201.5 713.7L196.4 722.8M214.3 736.2L207.8 740M186.4 749.5L179.5 750.8M183.5 748.8L180.6 758.8M177.9 751.5L178.1 758.8M193.8 757.7L195.4 767M193.8 792.6L199.1 793.2M197.6 773.5L202 780M216.4 757L219.6 760.7M219.3 786.3L221.3 794M180.4 786.2L184.6 789.7M177.2 806.3L187.4 804.3M161 798.7L164.2 807.7M258.9 791.2L262.3 783.9M272.6 793.1L278.3 793.6M262.3 782.9L265.3 779M253.6 773.7L262.2 780M240.1 782.4L250.4 783.7M249.8 774.6L257.4 777.8M282.2 793.6L288.6 802.4M284.4 803.8L290 808.1M272.2 790.2L280.1 791.8M283.6 788.9L287.3 791.8M310.2 817.2L314.7 817M298.6 816.6L299.6 821.5M305.9 819.3L315.4 823.7M319.4 825.9L327 823.8M328.4 829.7L331.9 832.8M394.1 833.1L401.5 834.1M387 836.4L392.3 831.4M427.6 822.9L433.7 821.6M402.3 836.6L410.2 830.1M423.5 844.6L431.1 841.5M417.2 845.9L425.9 839.9M402 837.5L411.5 836.7M414.8 828.5L418 821.1M456.9 834.9L462 834.2M456.5 829.9L465.3 826.2M452.6 818.9L460.6 820.8M445.1 827.2L449.9 828.1M465 830.2L469.9 834.2M454.2 820.3L461 817.4M514.5 808.3L518.4 802.7M479.4 815.9L484.7 816.8M504.3 812.2L507.8 806.4M504.8 824.7L514.6 826.2M469 816.6L475.7 818.1M489.4 809.1L490.9 813.5M489.3 820.3L493.9 811.4M511.9 846.2L519.6 839.4M513.5 808L515.5 814.7M515.7 844.3L524.5 839.4M535.3 822.4L540.9 816.5M371.1 861.7L376.1 857.1M408.1 880.4L413.2 877M378.7 871.1L383.9 870.4M493.9 868.7L501.9 872.2M485.5 858.4L492 864.3M479.2 871.1L486.2 871.6M464.8 861.9L473.1 863.4M500.7 862.2L509.7 858.8M503.4 863L506.9 868.1M499.1 858.8L501.7 854.1M533.5 852.6L537.8 850.3M507.7 851.6L514.4 853.8M520 869.7L515.3 864.6M484.4 880.3L488.7 878.4M481.5 874.3L488.3 875.9M495.4 885.5L494.4 879.9M462.3 891.1L468.9 897.3M465.3 881.6L474.9 886.4M395.5 883.5L401.6 877.7M387.4 872.3L393.3 880.9M416.4 907L414.1 902.8M390.8 873.3L399.7 867.5M416.5 877.2L426.5 876.4M414.5 878.9L421.2 879.9M406.7 931.9L410.4 936.2M401.9 927.5L399.5 932.6M378.5 922.7L379.1 929.7M395.5 919.4L394.3 924.5M388.7 912.7L380.9 916.7M387.8 904.9L389.4 914.3M355 964.7L350 966.7M367.2 962L362.1 969.3M398.2 974.8L394.8 984.2M391.4 947L387.6 954.1M400.3 979.8L395.6 980.8M376 953.1L375.7 960.5M382.2 946.3L381.6 950.8M385.2 1005.3L384.3 1011.3M345.1 1008.7L343.7 1016.2M362.5 1007.1L358.4 1014.3M370.2 1015.3L367.4 1024.2M358.8 989.7L361.9 993.3M388.3 1018.1L380.1 1018.4M325.5 1002.8L318.2 1002.9M365.4 993.4L359.3 997.2M348.8 1001.1L352.7 1004.4M348.1 983.6L345.4 993.3M520.9 915L527.9 921.9M518.7 910.3L529 908.4M547.7 953.1L548.8 960.6M540.4 958.9L541.1 963.9M552.8 993.7L557.1 1003.4" fill="none" stroke="#f4a771" stroke-width="7.3" stroke-linecap="round"/><path d="M175.6 589.1L174.9 596M169.6 579L170.2 587.3M359.5 580.3L365.3 579.6M327 580.2L335.4 584.8M339.1 586.7L334.7 582.9M346.4 593.2L350.1 600.7M347.9 596.6L352.3 599.5M347.2 606.4L346.1 611.9M343.3 600.7L341.5 607.4M336 636.3L336.3 640.9M329.6 665.5L334 668.3M334.2 676.3L336.3 683.5M331.9 651.8L336.3 653.8M334.1 669.5L337.2 677.9M325.4 672.2L335 668.4M350.1 654.5L358.7 656M309.4 687L317.1 691M337 679.1L340.7 688.8M339.3 686.7L347.3 685.1M345.9 681.3L346.8 686.7M358.9 668.9L367.7 662.6M359.1 666.5L367.7 664.8M406.3 662.5L402 654.5M447.1 638.6L450.5 642.5M447.1 641.8L452 641.1M444.6 646.2L451.6 649.9M459.9 647.6L469.2 643M459.4 656.3L462.4 662M457.2 671.7L465.4 670.4M479.6 696L486.9 692.6M455.3 659.7L457.8 669.8M449.3 686.1L459.2 689.5M448.4 663.6L455.1 667.3M476.8 679L484.5 679.6M486 689.3L494.1 693.4M486 715.6L491.5 719M477.1 717.2L485.7 721.4M509.5 723.1L512.9 728.8M540.8 749.1L536.1 756.7M525.8 716.6L522.9 726.9M514.5 740.6L521.3 742M526.7 755.6L530.7 757.5M519 734.8L524.6 739.9M507.9 744.2L513.9 753.2M524 763.9L528.2 769.7M533.5 766.3L534.4 776M545.3 759.5L546.6 764.6M558.1 757.9L553.6 765.1M546.7 752.4L547.9 758.1M523.1 772.2L528.8 775.5M558.4 803L553.7 804.7M563.8 789.5L569.1 796.5M550 798.4L558.1 801.9M539.8 800.6L544.2 805.3M301.4 698.8L296.6 699.7M279.3 703.2L269.7 699.9M272.2 701.5L267.3 702.6M224 705L214.3 708.3M222.3 704.4L218.4 709.7M217.2 726.4L219.6 730.9M206.6 736.2L198.5 739.7M215 719.9L214.6 728.2M211.7 729.9L206.2 731.1M197.1 743.2L198.7 753.3M188.5 749.7L185.7 755.5M194.6 763.6L202.1 764.6M199.6 790.3L201.6 785.7M214.8 799.9L222.7 799.1M200.7 789.4L207.9 794.8M196.1 779.2L202.2 780.6M199.8 762.7L208.8 761.5M183.3 793.4L189.8 790.1M187.1 802.9L186.7 812.7M177.3 810.7L185.3 808.3M260.1 777.9L267 781.8M251.1 782.4L261 784.5M274.8 803.8L280 796.2M290.6 808.3L286.3 813.8M284.6 803.4L293.3 801.4M300.3 816L306.7 815.7M316.7 829.6L320.6 834.1M343.6 833.4L349.1 835.7M342.4 837.3L351.5 839.9M395.2 852.8L401 850.6M363 840.2L372.5 839.1M399 847.1L405.2 852M434.6 829.4L443.2 830.5M408.9 835.8L412.9 838.2M423.8 842.3L426.4 837.9M447.7 836.4L452.9 829.9M472.6 832.3L477.4 832.8M448 822.6L451.6 825.6M508 832.2L509.2 824.9M488.8 819.8L496.4 825.3M495.2 836.9L499.3 832.9M489.8 808L490.6 801.8M509.3 812.7L517.7 810.6M491 812.4L496.6 817.9M512 839.2L518.9 842.3M513.1 835.7L518.5 837.9M514.1 839.2L519.8 843M404.4 872.9L410 868.6M373.4 872L379.3 867.6M391.6 869.6L398.2 871.2M404.2 867.4L408.9 864.6M494.2 853.4L503.7 852.6M516.9 870.9L521 864M505.4 864.5L511 864.8M498.5 869.1L505.8 874.2M494.7 895.8L502.8 900.7M508.8 893.7L517.8 895.4M487.7 891.9L494.8 885.8M487.4 899.3L494.3 904.2M490.5 880.7L495 882.8M499.1 892.1L504.4 892.5M490 896.2L494.5 893.9M483.7 881.5L485.4 888.2M457.1 886.1L466.3 885.2M379.8 903L386.7 906.7M400.3 897L402.3 892.1M409 914L411.8 909.6M409 882.8L418.7 882.7M382.5 888.4L390.8 893.1M392.2 905.2L397.3 908.8M400.6 887.3L404.7 893.9M399.3 937.8L392.7 945.2M394.5 910.9L390 915M405.2 937.1L399.3 941.5M379 913.3L383.3 920.4M399.1 926.6L400.6 935.1M402.5 909.4L407.8 913.8M369.8 946L364.9 953.2M404 973.2L399.6 981.7M392.8 953.6L388.2 956.2M365.3 962.9L360.1 972.3M409.9 957.2L406.5 964.2M360.4 950.7L350.6 954.8M391.8 973.9L386.9 981.6M328.2 981.4L334.1 988.7M372.7 997.5L369.9 1003.7M358.4 1008.2L359 1016.8M370.6 994.7L371 1003.9M363.7 975.3L356.3 979M358.1 980.3L354.8 989.4M364.4 1006.7L359.7 1008.4M329.8 1003.7L324.5 1007.4M386.6 991L383 1001.2M360.7 975.6L353.9 979.8M334.4 978.6L331.5 988.8M518.9 915.6L526.5 918.5M534.3 938L538.7 944.1M526.4 929.2L526.4 938.9M531.2 942L539.1 943.2M538.2 936.5L545.5 938.6M555 958.6L555.9 969.4M553.2 978.1L549.8 981.9M543.9 956.9L549.5 954.5M553.7 988.2L554.4 992.7M553.7 1001.9L557.3 1009.7M544.2 981L548.9 984.5M228.3 1008.6L231.6 1017.2M231.5 1009L241.2 1013.8" fill="none" stroke="#e39059" stroke-width="7.3" stroke-linecap="round"/><path d="M174.5 572.1L170.7 578.8M166.8 568.4L170.7 574.8M178.1 575.5L180.8 584.8M345.8 567.3L351.2 570.3M357 559L363.5 556.9M323.1 572.2L328.3 577.7M341.3 568.1L346.9 568.6M354.4 604.3L347.2 608.5M345.8 602.9L349.7 612.5M327.9 634.5L320.9 639.6M337.2 678.5L339.3 685.7M335.6 669.3L340.3 670.7M321.9 656.1L332.1 653.5M327.2 685.9L331.7 686.3M363.9 665.5L371.3 667.9M431 641.4L438.9 641.5M436.7 665.7L439.4 670.4M424.6 668.2L428.2 665.6M436.5 663.2L443.5 665.6M452.6 645.3L450.6 635.5M435.7 660.5L441.2 663.8M447.7 651.4L456.2 654.7M452.8 654.5L460.5 660.6M469.2 702.7L474.6 701M456.8 660L462.9 663M470.5 672.7L476 675.2M467.9 689.7L474.5 695.1M465.5 683.8L474.4 688.5M500.6 704.5L505.5 712M509.7 715.1L507.2 723.1M495.6 733.8L498.3 737.7M516.8 707.7L518.4 714.8M499.7 729.4L507.6 733.8M544.7 745.3L538.6 754.3M520.1 750.7L527.7 756.1M501.9 742.8L512.4 744.8M547.1 744.5L552.6 749.3M504.7 746.8L511.8 753.8M545.9 733.5L545.2 741.2M521.7 748.4L528.1 751.2M524.4 767.3L526.2 773M534.6 762.7L538.1 765.9M550 769.2L558.1 774M535.1 768.1L543.5 771.8M542.2 779.1L544.5 784.7M552.7 750.9L555.8 759.1M543.7 800.5L539 805.9M539.6 794.8L545 798.9M565.8 815.1L567.3 821.4M259.5 700.7L254.8 699.7M236.7 700.9L231.7 699.1M194.3 726.3L186.5 722.8M201.2 713.2L190.6 713.4M183.2 755.9L177.5 759.7M181.8 754.5L179 758.9M190.3 785.3L198.2 784.4M198 774.5L198 764.7M195.1 777.3L206 778.4M181.8 784.3L185.6 787.5M191.6 791.3L197.8 795.4M165.5 813.6L174.2 812.6M164.5 800L169 805.7M263.8 801L273.1 803.9M238.1 786.2L239 792.9M291.1 801L295.7 810.9M280.8 800.4L286.4 794.9M321.8 828.3L325.8 835.2M318.7 819.1L327.9 819.9M299.1 802.4L309 804.5M392.1 833.2L402 834.6M386.2 850.2L391.9 844.6M383.9 836L389 835.8M370.4 857.9L369.4 852.8M393.6 840L397.1 843.8M367.4 840.1L372.1 844.1M387.4 843.2L391.2 840.2M408 844.1L408.9 834.2M457.7 816.6L461 807.5M461.3 828.3L467.4 823.8M455.7 836L459.4 832.4M478.1 813.9L475.4 807M474.1 808.1L476.9 803.9M461.2 843.8L469.7 840.4M499 819.1L506.8 817.2M491.6 806.6L499.1 806.6M477.7 827.1L483 830.1M502.5 827.1L511.4 822.7M523.1 831.3L532 827.4M511.8 834.3L520.3 836.6M507.1 841.9L513.4 839.3M510.5 842.7L515.8 837M514 823.7L518 827.3M500.7 820.5L507.1 828.5M375.7 861L381.5 860M383.2 868.5L383.1 872.9M393.3 876.6L397.5 869.8M409.5 864.3L411.9 855.6M385.7 857.9L392.3 857.9M388.7 877.6L391.5 871.5M412.7 874L422.1 877.1M465.3 866L470.1 870.7M466.2 861.1L476 861.3M505.2 868.8L506.1 863.7M485.5 873.5L492.3 876.5M501.1 871.9L506.7 876.2M454.1 870.5L460.3 871.1M494.5 871.5L501.7 871.9M533.3 852.6L538.2 856.2M535 869.6L540.6 865M512.2 868L517.8 864.9M494.5 896.2L496.8 890.7M475.8 890.9L482.6 891.1M473.5 895.7L481.4 900.2M466 886.3L470.7 889.6M406.9 890L415 888.2M387 884.8L396.9 885M379.7 930.1L375.5 933.9M413.1 912.7L408.4 917.6M393.7 921.6L400.2 922.9M375 909.7L379.6 918.5M381.7 953.7L383.5 959.9M386.3 945.1L388.3 950.5M371 941.7L363.9 936.3M394.5 957.6L396.6 968.2M375.9 967.9L371.2 970.8M363 1002.8L355 1010.1M388.1 1007.2L383.8 1013.7M341.2 977.4L339 986M352.2 1007.4L352.2 1014M524.4 924.8L522.1 932M525.7 927.9L535.5 929.7M527.9 907.7L531.8 916.6M532.3 936.9L536.6 945M530.8 934.4L535 937.7M550 960.1L557.8 960.6M555.5 970.1L553.9 980.6M564.6 1010.3L563.6 1017.1M552.1 1010.1L559.5 1012.8M561.7 1002.7L557.5 1006.7" fill="none" stroke="#f0a06a" stroke-width="7.3" stroke-linecap="round"/></g><g fill="none" stroke="#c9804f" stroke-linecap="round" stroke-linejoin="round" filter="url(#bl2)"><path d="M442.1 855.6L444.7 861.9" stroke-width="10.2"/><path d="M400.1 888.7L401.4 892.5" stroke-width="7.6"/></g></g>
<path d="M174.6 969.2H304.9" stroke="#fff" stroke-width="6.4"/><text x="243.8" y="953.9" font-size="38" text-anchor="middle" font-weight="bold" fill="#fff" textLength="99" lengthAdjust="spacingAndGlyphs">6 µm</text>
<text x="364.4" y="542.8" font-size="42.5" text-anchor="middle" textLength="126.5" lengthAdjust="spacingAndGlyphs">Inset 1</text>
<text x="10" y="581" font-size="50" font-weight="bold">b</text>
<g clip-path="url(#cc)"><rect x="833.9" y="561" width="469" height="446.7" fill="#c07a4e"/><path d="M929.2 559.1L996.5 559.1L1002.7 1008.4L939.4 1008.4Z" fill="#0a0503"/><path d="M1205.7 559.1L1278.5 559.1L1282.8 1008.4L1216.6 1008.4Z" fill="#0a0503"/><path d="M992.9 559.1L1005.6 559.1L1011.8 1008.4L999.1 1008.4Z" fill="url(#eg)"/><path d="M1274.8 559.1L1288.7 559.1L1293 1008.4L1279.2 1008.4Z" fill="url(#eg)"/><path d="M924.8 559.1L929.9 559.1L940.1 1008.4L935 1008.4Z" fill="#a86b44"/><path d="M1201.3 559.1L1206.4 559.1L1217.4 1008.4L1212.3 1008.4Z" fill="#a86b44"/><clipPath id="cv"><path d="M930.7 559.1L1009.2 559.1L1015.1 1008.4L940.8 1008.4Z" fill="#000"/><path d="M1207.2 559.1L1296.7 559.1L1301 1008.4L1218.1 1008.4Z" fill="#000"/></clipPath><g clip-path="url(#cv)"><g filter="url(#bl15)"><path d="M963.7 611.8L955.6 613.1M941.1 636L950.3 640.4M1003.8 690.4L996.8 692.2M961 662.3L969.2 664.5M978.3 686L974.9 687.4M946.5 616.1L944.7 618.7M993.2 682.7L1002.9 685.5M951.9 618.3L954.6 621.5M969.1 680.2L974.7 683.2M992.8 653.5L984.1 660M972.7 682.3L975.1 685.9M988.7 613.5L985 614.5M959.1 627.5L952.9 627.7M947.8 612.2L944.7 621.4M983.9 661.8L989.5 663.4M998.5 617.3L1000 621.9M957.8 615.1L961.1 624.7M950.6 599.7L954.1 607.7M973 627.8L968.2 637M961 616.1L966.2 620.2M947.5 683.8L954.4 688.3M977.3 651.8L975.6 659.1M934.5 627.8L941.4 629.3M982.5 618.2L987.3 618.7M942.6 660.7L942.5 667.1M935.7 650.1L943.2 653.6M945.8 603.4L936.3 608.8M959.9 658.9L968 666.2M951.1 679.8L949 690M942.5 690.9L939.3 691.8M938.1 687.4L939.1 691.4M940.9 611.9L941 616.6M953.1 610.3L961.6 614.2M954.3 600.3L960.5 606.1M955.9 678L948.1 680.9M962.5 667.4L958.6 668.4M996.2 689L990.8 695.3M945.2 627.1L943.9 632M969.8 671.7L971.5 680.9M954.3 606.5L952.9 609.2M1000.9 690.6L992.8 692.3M947.4 762.3L945.8 765.7M963.7 756L962 761.5M988.9 729L992.9 729.5M961.4 739.4L962.8 746.8M963.1 713.8L969.2 714.7M978.2 763.4L984.5 763.9M987.4 738L990.5 738.6M957.9 705.6L952.4 706.1M984.1 732.6L981.4 736.7M973.6 704.2L980.4 707.5M970.6 722.6L969.2 727.4M990.4 726.2L986.2 732.8M984.7 737.9L985.5 745.3M989.3 748.9L984 750M968.4 720.8L965.1 725.4M968 739.8L974.7 739.9M945.9 745.6L939.3 750.3M972.8 738.7L975 745.2M980 734.6L985.4 735.6M970 697.6L972.8 698.9M964.8 696.1L966.9 698.7M966.1 722.5L970.5 723M970.3 699.7L971.8 702.7M938 755L942.9 757.5M976.8 729.4L968.9 731.3M971.7 722.9L976.6 729.5M945.1 709.8L941.8 713.6M949.6 756.6L955.9 759.1M995.4 743.6L986.7 749.6M990 761.5L986.4 769M979.9 783.5L970.1 787.9M960.9 753.6L964.7 758.4M969.5 769.7L965.7 772.9M993.7 770.1L987.8 775.9M975.4 758.2L978.3 766.7M954.7 751.1L954.9 761.4M961.2 775.1L971.1 776.3M977.2 784.8L983.1 790M960 748.1L961.4 754.6M986.8 742.5L992.9 749.2M945 807.2L948 807.8M971.2 816.7L975 822.1M939.4 793.7L947.8 800.6M945.2 795.2L943.2 797.9M983.7 812.8L990.1 820.9M961.8 809.8L963.5 815.2M1003.8 803.9L995 808M977.5 801L968.5 803.3M996.1 792.4L997.5 799M970.1 818.8L961.6 824.6M971.9 833.8L970.2 839.8M936.3 793.2L945.4 799M982.8 800.2L973.6 801.1M973.2 832.7L979.4 839.7M937.4 793.7L948 795.7M995.4 797.5L1002.6 804.8M973.7 788.2L974.6 796M993.8 834.4L993.9 843.6M951.7 827.2L958.8 833.9M965.9 793.7L964.9 798.5M943.7 644.6L946.9 652.9M946.9 658.3L950.7 661.3M953.8 676.5L944.3 680.5M1234.7 573.4L1244.3 574.1M1246.8 578L1240.1 585.3M1216 563.1L1220.8 564.6M1216.6 582.5L1221.7 586.4M1223 562L1215.7 565.1M1215 583.5L1212.2 590.2M1240.6 580.3L1240.5 589.6M1251 591.2L1255.6 592.3M1221.8 577.4L1218.5 587.7M1228.6 566.6L1233.1 572.8M1215.8 579.2L1210.9 584.8M1226.4 587.5L1229.3 593.1M1261.7 580.8L1256.9 583M1283.8 595.2L1285.2 601.9M1258.9 572.9L1257.4 575.9M1283.7 594.4L1286.5 599.5M1272.2 573.6L1268.9 578.8M1263.9 563.1L1258.5 568.4M1275.7 587.4L1284.7 588M1275.4 806.6L1280.7 815.4M1286.9 742.5L1287.3 752.6M1289 772.1L1292.1 773.1M1280.2 754.7L1280.8 757.7M1275.5 738.8L1278.5 739.2M1281.2 700.3L1283.1 704.5M1286.2 696L1284.5 702.8M1280.6 729.8L1283.4 738.6M1284.5 792.4L1283 796.7M1215.3 807.1L1214 810M1221.8 791.7L1229.2 793M1254.6 793.9L1258.6 800.7M1240.9 795L1232.5 800.7M1263.3 804.3L1273.5 805.2M1264.7 794.2L1264.6 800M1246.8 799.5L1251.1 806.3M1275.4 805.6L1271.3 807.1M1227.4 800.5L1222.5 805M1222.4 790.8L1218.3 794.4M1221.5 797.7L1228.3 799M1224.7 811.3L1218.4 817.8" fill="none" stroke="#4c2e1b" stroke-width="10.9" stroke-linecap="round" opacity="1"/><path d="M981.8 674.9L987.3 675.3M979.7 659.1L979.9 666.3M967.2 660L969.8 669.8M978.9 648.1L983 648.6M986.2 612.3L982.6 615.3M943.4 627.3L953.7 627.4M962.5 608.3L965 613.9M955.2 621.1L958.4 622.9M985.1 618.3L983.7 628.1M994.3 661.1L995.8 669.6M950.6 746.3L952.7 750.8M965.8 734.5L956.5 734.5M978.3 715.2L981.9 720M970.3 699.8L971.3 706.8M958.1 751.5L956.9 758M954.4 755L961 756.9M953.1 730.4L948.5 739.2M949.6 704.6L949 710.2M972.3 819.2L977.4 819.8M971.7 832.1L971.4 835.9M998.4 824.8L992.9 831.8M979.5 834L972.2 836.5M981.6 799.9L979.5 802.7M1265.4 570.5L1265.4 580.9M1264.5 593.2L1254.2 593.5M1260.2 564.6L1253.6 572.6M1255 573.9L1257.4 577.5M1277.2 584.2L1272.8 584.6M1228.9 804L1232.2 806.8M1241.9 800.8L1236.1 808" fill="none" stroke="#6b4128" stroke-width="10.9" stroke-linecap="round" opacity="1"/></g></g><g fill="none" stroke="#ea9c68" stroke-linecap="round" stroke-linejoin="round" filter="url(#bl3)"><path d="M851 559.1L856.4 635.5L863.7 708.3L860.1 781.1L863.7 853.8L854.6 926.6L849.2 1008.4" stroke-width="45.5"/><path d="M838.3 559.1L838.3 1008.4" stroke-width="21.8"/><path d="M1111.1 559.1L1114.8 599.1" stroke-width="83.7"/><path d="M1126.4 615.5L1131.1 635.5" stroke-width="94.6"/><path d="M1114.8 646.4L1118.4 661" stroke-width="69.1"/><path d="M1111.1 653.7L1100.2 693.7" stroke-width="43.7"/><path d="M1096.6 693.7L1103.8 715.6" stroke-width="36.4"/><path d="M1092.9 730.1L1100.2 762.9" stroke-width="54.6"/><path d="M1100.2 762.9L1103.8 817.4" stroke-width="61.8"/><path d="M1100.2 817.4L1111.1 872" stroke-width="54.6"/><path d="M1107.5 872L1118.4 926.6" stroke-width="43.7"/><path d="M1118.4 926.6L1132.9 973.9" stroke-width="32.7"/><path d="M1132.9 973.9L1141 1008.4" stroke-width="29.1"/><path d="M1013.6 748.3L1027.4 749" stroke-width="18.2"/><path d="M1045.6 750.5L1063.8 744.7" stroke-width="12.4"/><path d="M1017.3 830.2L1027.4 832" stroke-width="18.2"/><path d="M1300.3 737.4L1303.9 744.7" stroke-width="14.6"/></g><g filter="url(#bl1)"><path d="M847.2 610.5L854 615.9M868.5 551.7L864.2 557.9M851.2 633.6L852.6 643M853.8 593.9L853.7 600.8M865 592.3L872.4 597.4M855.3 559.2L855 567M849.8 619.6L846.4 623.9M841.6 604.2L839.7 611.1M855.4 552L860.2 557.4M852.4 559.5L856.7 569.4M864.9 659.6L868.6 663.4M855.3 643.3L855.9 648.3M851.5 680.8L843.4 686.5M859.8 644.9L859 656M849.4 629.5L853.2 638M863.7 671.5L868.6 678.1M866.9 628.4L871.1 639.7M855 665.5L859.6 669M862.6 689.2L865.8 700.3M880.1 687.5L876.8 692.9M866.9 712.3L871 717.3M856.3 700.6L861.5 707.4M860.4 717L856.4 721M853.6 778.4L858.5 789M848.1 779.7L847.7 787.1M855.6 734.4L855.9 740.4M874.2 739.7L869.7 748.1M850.4 782.1L847.4 789.8M853.6 745.3L861.4 749M864.2 773.7L866 782.1M847.4 766L845.2 774.4M849.5 753L853.1 759.5M870.7 700L862.7 704.4M861 737.4L856.7 743.4M876.2 746.8L871.7 756.8M861.1 854.7L861.8 866.3M853.5 838.6L862.9 841.8M851.5 834.2L861.7 838.5M853.5 799.3L846 807.3M848.6 782.2L850.7 794.2M869.2 781.9L869.4 793.5M869.3 814.8L864.9 826.1M867 803.3L865.1 811.3M874.4 786.1L872.7 791M881.3 815L869.5 816.6M865.6 851.2L855.2 857.4M842.7 921.5L846.5 928.5M856.6 879.4L860.7 885.3M862.6 853.3L856.6 855M865.4 846.6L864.5 851.8M853 929.7L861.2 931.9M854.1 894.7L849.2 899.5M853.6 848.8L848.1 859.4M851.3 904.3L852.3 910.3M872.1 865.2L868.9 871.4M841 973.4L848.2 980.9M839.8 925.8L837.5 937.7M865 969.4L866 980.6M847.2 955.4L857.2 958.6M842 974.3L845.1 981.1M836.2 974.1L833.9 983.3M830 992.4L837.8 993.9M857.5 993.7L853 1001.4M851.6 943.1L855.7 951.1M860.1 1013.3L861.5 1020.7M836.4 1043.5L831.3 1053.4M842 1023.2L842.9 1028.3M835.8 972.2L840.8 980.7M834.4 700.2L835.9 705.1M834.3 915L831.2 923.9M841.5 658.5L844.5 662.8M839.2 957.6L836.6 962.8M834.2 879.5L834.7 889.9M839.8 536L839.7 547.7M835.4 1022L836.7 1028.6M843.5 755.5L831.6 758.9M844.3 578.3L841.7 586.4M841 1027.9L846.6 1032.4M835.3 740.7L832.9 752.6M842.1 817.2L844.3 825M845.1 759.1L841.3 763.8M834.9 562.9L835.9 568.9M839.7 649.4L847.1 658.7M840.5 763.4L842.6 771.2M834.4 944.9L833.7 954.2M840 825.4L842.1 830.9M839.8 825.6L842.4 830.6M842.4 929.1L842.3 936.8M845.1 818.6L837.1 824.2M834.5 667.8L833.2 678.8M841.7 676.7L843.7 688.4M835.8 819.1L840.3 829M836.9 882.9L835.5 893.9M834.8 938.9L835.3 947.4M839 1013.5L842.1 1019.9M835.2 667.1L844.1 672.3M830.6 656.2L837.7 661.9M1099 555.8L1102.8 560.7M1138.6 570.3L1135 576.1M1138.9 582.8L1144.5 593.7M1133.4 586.2L1129.8 590.9M1087.8 566.2L1084.3 574M1116.2 587.1L1121.4 594.4M1118.1 596.2L1118.1 604.2M1107.8 565.9L1113.1 575.1M1150.3 617.2L1157.3 621.8M1121.1 611.9L1120.4 618.5M1129.9 639.9L1122.6 644.5M1100 656.7L1100.2 665.4M1095.8 652.5L1094.9 662.9M1121.1 659.7L1116 670.4M1106.1 645.7L1104.4 650.9M1099.1 697.3L1110.7 700M1090.6 710.9L1097.3 715M1099.9 693.1L1104.9 696.3M1100 754.1L1107.7 762.1M1090.8 761.1L1093.1 766.9M1114.6 805.6L1112.4 810.6M1096 809.1L1096.4 815.5M1098.6 766.2L1101.8 772.5M1112.7 808.1L1112.2 819.7M1117.2 796.9L1112.2 803.6M1080.7 806.7L1082 816.7M1098.6 794.1L1093.4 803.1M1111 806.2L1106.2 813.3M1083 817L1078.9 823.6M1111.9 805.1L1116.7 808M1092.1 789.4L1091 800M1080.4 784.6L1076.3 796.2M1114.3 859.9L1116.1 865.6M1107 862.7L1109.8 867.4M1116.3 869.1L1117.3 881.2M1092.1 816.8L1099.1 821.5M1090.7 874.7L1098.4 879.4M1119.3 823.9L1117.3 832.2M1086.8 832.8L1082 836.4M1100.7 807.4L1099.5 817.8M1112.2 814.3L1112.6 823.8M1106.2 846.5L1104.2 856.5M1112.5 905.1L1113.4 910.7M1112.6 880.3L1109.6 889.7M1119.7 887.6L1123.9 897.5M1123.6 922.5L1123 928.5M1119.5 915.8L1119.1 923M1112.3 887.7L1121.2 894.4M1093.3 887.5L1104.6 884M1111.1 863.6L1110.2 872.9M1119.6 870.2L1125.8 874M1123.2 937.4L1130.5 938.1M1121.2 922L1126.7 923.8M1123.9 927.8L1133.4 929.9M1125.8 969.2L1123.9 975.7M1135.2 1004.6L1140.2 1007.6M1131 1009.5L1135 1017.6M1012.5 752.6L1017.7 749.6M1044.4 755.1L1043.7 747.3M1015.8 828.4L1025.2 830.2M1021.7 829.6L1033 829.6M1301.7 733.6L1302.4 744.2" fill="none" stroke="#f4aa76" stroke-width="8.7" stroke-linecap="round"/><path d="M837.8 575.9L842.1 584.7M836.2 595.3L840.3 600.7M864.1 570.9L860.2 580.3M852.1 587L848.3 591.7M863.1 558.5L862 569.9M844.2 562.2L844.4 568.3M868.1 616.5L869.2 621.5M842.1 611.1L839.9 622.1M853.9 584L844.8 585.8M849.4 660L855.7 661.6M857.8 664.5L863.4 672.7M871.2 695.6L864.9 703.8M874.2 702.8L875.7 710.4M849.3 685.5L841.7 693.3M864 665.9L862.6 674.4M848.3 769.3L845.4 776M861.8 756.1L869.1 759.6M864.5 705.3L870.9 704.9M856.3 711.7L860 720.6M852.1 840.9L858.3 850.4M858.5 836.3L861.6 845.8M855.4 800L856.7 805.4M846.4 833L854.5 838.5M861.5 812L870.6 816.9M878.9 842.4L878.9 849.8M854.7 781.4L846.9 787M851.5 786.9L848.5 794.2M854.5 837.7L856 844.9M845.2 786.7L843.2 792.4M873.3 926.1L864.2 928.3M851 860.6L847.6 864.8M850.6 892.9L844.7 901.5M861.7 879.7L858 889.8M877.4 884.5L871.7 891.9M871.1 901.3L870.3 909.2M843.4 894.7L846 899.5M876.1 858.8L882.6 861.5M855.9 851.3L862.1 860.4M873.5 842.9L873.7 853.7M866.2 916L870.1 921.1M840.8 1003.7L834.9 1013.3M869.3 956.5L864.4 967.7M843.2 995.6L842.1 1001.7M838.8 1003.9L848.5 1011.1M842.4 929.5L843.4 939.2M859.8 954L860.2 961.3M862.8 988.1L864.8 996.7M850.2 931.3L853.7 936.2M856 964L862.9 974.1M843.2 995.7L840.9 1001.6M829.8 543.2L838 550.6M837.3 796.8L844.3 798.6M833 765L834.3 772.9M833.4 596.2L841.3 604.6M835.4 703.3L838.4 708.5M837.1 670.3L839.3 676.6M841.9 606.1L830.5 606.2M835.8 652.5L833.4 658.9M838.8 955.7L843 961.1M835.8 577.4L832.8 585.7M837.8 831.6L835.4 837.2M837.9 976.4L834.5 987.6M832.5 958.8L837.1 963.6M836.9 620.6L840.9 625.1M834.5 908.7L834 917.1M843.3 864.1L842.1 869.6M836.1 826.3L837.1 832.8M836.2 877.2L839 882.5M834.9 916.7L833.6 923.3M831.1 740.9L834.7 748.9M838 607.4L837 617.2M836 512.5L829.7 522.3M838.8 555.2L831.2 556.8M841.6 978.8L843.7 987.5M1129.8 559.7L1130.1 567.3M1108.2 601.4L1115.5 603.3M1086.6 566L1086.9 574.2M1093 582.1L1082.3 583.3M1108.5 557.2L1119.2 562.7M1129.6 583.5L1133.1 588.2M1135.3 572.6L1131.2 580.3M1091.1 602.3L1090.7 607.6M1108.3 590.1L1108 597.6M1091.1 573.9L1096.9 578.6M1130.3 586.9L1125.3 596.9M1128.3 584.7L1133.1 592.8M1127.1 627L1126.5 635.8M1107.9 621.9L1103.3 629.3M1123.9 624.7L1127.4 633.5M1155.5 626.2L1156.5 632.2M1162.8 626.7L1172.2 626.3M1129.3 619.6L1135.8 627M1127.2 641.5L1128.1 649.6M1109.5 653L1107.9 662.2M1103.4 664.2L1109.8 664.4M1113.8 683.9L1117.5 694.7M1093.2 672.4L1093.2 681.5M1101.7 666.3L1098.5 673.4M1111.8 661.9L1112.7 668.7M1117.8 664.5L1117.7 675.3M1099.8 687.6L1089.2 692.9M1107 664.1L1101.4 664.8M1107.3 698.6L1102.9 704.5M1099.1 706.4L1092.5 716.2M1101.8 687.9L1108.2 693.7M1099 749.2L1094.6 756.4M1099.5 724.1L1102.4 729.2M1104.9 740.2L1105.2 747.3M1097.3 741.5L1106.1 746.5M1087.3 742L1091.9 746.6M1098.9 737L1100.7 745.3M1084.8 791.4L1086.4 799.6M1120.2 781L1118 789M1086.9 804.3L1087 811.4M1078.6 790L1078.7 798.7M1111.5 786.7L1111.5 795.3M1095.8 834L1101.7 841.4M1112.8 831.1L1109.8 839.9M1118.1 825.8L1124 830M1103.5 847.8L1103.4 855.8M1108.8 844.8L1113 854.1M1112.7 836L1108.6 841M1089.3 820.2L1093.7 826.5M1097.7 817.4L1103.5 824.8M1117 836.1L1119.5 841.3M1107.6 823.7L1103.7 827.8M1131.6 925.3L1128.1 929M1124.7 890.9L1131.2 899M1115 920L1121 929.1M1109.9 889.5L1114.4 891.9M1116.3 881.7L1123.4 886.9M1111.1 878L1115.7 882.4M1110.5 894L1115.1 905.4M1132.4 918.6L1129.7 930.4M1116.3 934.9L1120.3 943.5M1143.5 960.4L1138.1 969.3M1115.8 924.2L1115.2 930.6M1141.5 1002L1142.7 1008.7M1137.5 968.4L1144.2 972.1M1141.6 1000.2L1140.9 1009.5M1058.6 746.7L1066.1 745.6" fill="none" stroke="#e2925e" stroke-width="8.7" stroke-linecap="round"/><path d="M845.4 604.6L847.9 615.9M862.1 635.7L863.1 642.1M872.2 559.2L862.7 562.5M841.9 573.9L840 583.9M855.5 589.8L855.4 595.4M860.4 563.8L864.6 568.4M847.3 552.9L846.5 558M864.8 626L861.2 632.2M853.9 558.4L856.4 568.3M838.2 558.5L832.5 567.4M843.6 639.4L847.9 648.3M856.1 663.2L857.7 669.6M856.2 679.2L856.8 687.7M874.7 678.3L876.5 686.7M859.7 652L864.1 659.3M851.4 634.4L855.7 644.8M856.2 688.7L863.2 695.9M872.8 627.6L866.1 636.4M862 638.9L862.3 644.6M861.1 672.3L854.6 681.5M856.9 625.6L856.2 632.6M849.4 630.1L856.2 640.1M870.9 636.7L866.9 640.5M877.3 723.5L878.2 729.1M874.1 770L864.2 775.5M872.1 751.3L866.6 755.4M868.9 718.6L874.3 724.7M858.1 707.4L855.5 716.4M869.2 709.8L874.4 714.6M850.7 755.7L848.8 763.3M853.6 748.6L860.4 756.3M864 741.4L863.7 751M850.6 814.3L848.9 825.1M874 778.7L870.2 787.6M867.2 813L864.6 820.2M872.3 779.2L872 785.8M864.4 816.4L860.4 825.3M872.4 809.9L875.8 819.1M858.2 855.9L856.7 862M862.5 875.3L862.6 881.1M853.5 886L845.5 892.6M841 868.5L851.6 873.3M848.3 888L837.6 891.1M860.5 878.4L861.6 886.6M877 871.2L877 880.2M858.6 866.5L867.9 869.6M844.3 928.5L833.6 933.9M853.8 961.5L865.3 963.6M844.5 960.8L843.4 967.8M829.1 1002.1L837.1 1008.1M838.8 984.9L842 992.7M843.3 1006.3L832.8 1009.6M846 1007.4L840.7 1008M834.7 946.3L838.7 956.9M865 961L871.3 968.2M838.9 969.4L836.6 974.4M852.3 946.2L852.3 954.3M839.4 951.6L839.6 963.6M843 986.4L835.1 995.8M840.5 836.6L840.1 846.5M833.7 833.7L835.8 842M836.7 1010.2L835.7 1016.1M838.5 606.4L840 612.2M833.2 535.8L833.1 542.6M839.5 632.9L840.2 638.6M846 740.2L840.7 737.4M830.8 972L837.1 972.1M835.2 756.2L843.6 759M833.1 987.3L833.8 992.8M841.4 990.4L833.5 995.9M836.8 939L829.6 947.4M842.7 809.1L841.5 816.1M842.3 608.3L841 620.5M836 661.8L838 668.5M840.6 626.9L834.8 629.5M831.2 955.8L837.7 966.2M841.5 824.4L840.9 830.2M843.9 899.3L838.8 905.9M841 614L845 622.9M837.7 668.5L839.6 678.7M844.2 702.3L840.3 710.1M836.3 1048.4L837.5 1053.5M840.4 1046.2L836.4 1052.8M843.8 671.8L843.5 678M841.9 952.5L845.9 957.5M838.8 878.1L841.3 886.6M1100.5 577.1L1106.3 579.6M1076 582.1L1083.1 575.8M1138.7 547.4L1143.6 558.5M1107.1 565.8L1104.9 571.8M1140.1 569.2L1139.1 574.3M1134.9 574.8L1134.9 580.5M1077.4 587.2L1082.8 594.4M1142.6 587.3L1139.6 593M1147.2 560.8L1143.4 567.6M1156.6 617L1161.7 622.3M1109.8 626.3L1111.1 632.4M1140.3 630.6L1137.8 636.1M1139.1 633.3L1143.9 635.3M1108.5 634L1111.5 640.1M1121.2 625.6L1128.2 634.3M1148.8 614.9L1152.9 618.9M1127.3 632.5L1130.5 639M1130.6 616.2L1132.8 624.1M1091.8 648.7L1084.8 657.1M1142.1 651.1L1140.3 658.1M1130.1 651.5L1134.5 657.6M1107.1 649.5L1106.5 655M1119.8 684.3L1114.3 687.9M1116.1 678L1108.8 681.5M1121.7 662.7L1119.2 667.3M1096.1 656.4L1096.7 664M1109 656.8L1113.5 659.5M1106.6 651.6L1103.8 659.2M1097.1 709.6L1102.7 718.8M1097.4 700.1L1101.2 706.2M1094.7 763.8L1103.5 769.3M1112.5 723.7L1106.6 734.5M1080.9 769.2L1089.6 766.9M1093.3 757.8L1100.1 766.3M1110.6 739.2L1104 748.2M1086.7 732.2L1084.5 744.4M1096.5 736L1092.5 743.9M1092.6 743.9L1085.1 753.1M1076 780.8L1086.9 778.1M1102.8 794.8L1105.8 804.9M1089.3 762.7L1087.9 769M1109 795.3L1107.6 801.2M1120.6 795.2L1110.6 800.4M1082.7 817.3L1086.2 827.2M1101.4 818.4L1110.5 824.1M1114.7 811.3L1107.4 817.5M1099.8 821.1L1088.3 824.9M1118.7 769.6L1123.7 780.4M1099.3 753.5L1102.8 764.3M1102.7 753.5L1101.8 762.9M1115.9 845.2L1117.9 854.4M1108.3 869.3L1099.9 877.8M1109.1 839L1108 845.7M1086.3 836.9L1088.9 845.1M1093.5 825.4L1100.4 824.2M1103.2 860.7L1101 869.6M1110.6 877.2L1108.9 888.8M1112.7 923.8L1118.3 930.8M1105.4 896.8L1106.8 904.3M1102.2 902.2L1101.6 913.6M1120.4 967L1121.7 972.6M1125.8 925.6L1130.1 929.8M1119.3 922.1L1125 922.6M1107.1 931.1L1115.2 934.6M1121.5 919L1124.4 925.6M1120 919.6L1129.1 927.1M1118.6 952.6L1125.1 952M1133.9 971.5L1129.9 976.9M1146.1 985L1143.8 995.4M1135.4 977.4L1136 986.4M1138.2 1002.6L1143.9 1006.6M1016.6 747L1023.1 746.3M1014.3 742.8L1023.2 749.8" fill="none" stroke="#efa26e" stroke-width="8.7" stroke-linecap="round"/></g></g>
<path d="M863.7 978.2H994" stroke="#fff" stroke-width="6.4"/><text x="932.8" y="963" font-size="38" text-anchor="middle" font-weight="bold" fill="#fff" textLength="99" lengthAdjust="spacingAndGlyphs">6 µm</text>
<text x="1060.2" y="541" font-size="42.5" text-anchor="middle" textLength="131" lengthAdjust="spacingAndGlyphs">Inset 2</text>
<text x="760" y="571.9" font-size="50" font-weight="bold">c</text>
<g clip-path="url(#cd)"><rect x="1520.1" y="558.4" width="471.2" height="446.4" fill="#080402"/><g filter="url(#bl15)"><path d="M1589 702L1585.1 706.3M1586.9 718.4L1585 722.7M1525.6 688.1L1526 697.9M1583.4 707.1L1591.2 714.6M1558.1 656.6L1566.5 663.1M1574.9 704.5L1573.4 707.2M1586 674.5L1580.6 679.2M1558.9 690.6L1549.6 693M1545.8 711.7L1550.6 714.7M1543 659L1543.9 661.8M1585.3 709.2L1585.5 712.6M1538.6 706.5L1540.8 709.4M1547.6 694.1L1553.1 696.4M1557.1 700.9L1560.3 711.3M1534.3 705.2L1544.2 707.7M1562.1 666L1553.8 671.4M1533.9 714.8L1528.2 715.5M1574.5 701.6L1573.2 707.5M1547 707.5L1538.9 714.1M1528.5 692.8L1525.7 696.5M1527.3 713.1L1520.7 718.6M1545.7 685L1542.7 687.1M1568.9 698.4L1570.1 708.9M1561 713.5L1566.1 717M1545.5 686.2L1537.7 693.8M1586 712.9L1577.2 713.5M1579.2 731.2L1581.1 737.7M1557.4 770.5L1559.3 775M1554.9 750.9L1560.1 760.1M1575.1 749.7L1578.1 751.2M1578.4 755.6L1578.5 762.6M1566.5 772.6L1571.2 773.4M1580.5 742.3L1583.7 747.8M1561.4 765L1568.4 767.1M1581.3 744.2L1577.5 748.5M1549.1 951L1553.1 957.2M1547 973.6L1554.2 974.5M1559.6 961L1565.9 965.8M1528.5 953.1L1536.2 955M1564.9 986.3L1562.2 995.8M1560 958.3L1563.9 968.2M1567.6 981.3L1565.3 986.4M1522.6 964L1528.5 969.3M1554.1 982.8L1551.3 983.6M1529.1 949.2L1533.1 958.6M1541.3 991.1L1546.1 994.2M1562.1 961.7L1557 967.5M1550.4 945.1L1555 954.9M1543 963.8L1535.4 963.8M1555.8 972.4L1553.5 978M1531.2 961.7L1537.6 967.3M1571.6 864.2L1571.4 875M1591.3 908.1L1588.1 911.4M1582.7 860.8L1582.5 864M1570.7 866.9L1573.8 872.9M1570.1 864.8L1579.8 868.7M1593 926.6L1597.1 928.5M1588.6 860.4L1595.9 864.1M1596.9 927.2L1592.1 929.7M1593.5 927.6L1583.4 930.9M1575.4 636.2L1571.7 641.2M1562.9 642.4L1562.2 645.4M1557.3 639.1L1553.2 644.4M1580.3 634.8L1586.8 640.3M1583 609.7L1576.7 610.9M1732.2 656.6L1735.1 661.1M1694.4 736.3L1687.9 741.1M1735.9 669L1739.7 673.8M1734.9 748.5L1725 748.8M1715.2 746.9L1709.3 750.7M1724.1 761.9L1720.5 764M1680.4 743.6L1676.7 746M1732 750L1735.6 752M1716.4 732L1725.3 736.9M1693 760.1L1689.1 760.8M1726.8 724.5L1720.6 726.2M1706.7 684.9L1701.9 687.5M1739.3 661.1L1736.4 662.1M1723.2 771.6L1727.3 778.1M1707.4 663.8L1701.4 667.1M1728.4 660.6L1732.6 662.9M1728.5 660L1734.5 660.4M1704.8 761L1700.4 763.1M1729.5 698.8L1723.5 704.3M1680.5 712.3L1682.1 718.7M1712.9 739.4L1715 746.2M1730.6 740.4L1733.9 742.7M1693.1 770.4L1696.6 779.7M1739.7 739.8L1743.3 747.9M1710.4 771.2L1710.3 779.2M1719.5 733.3L1725.8 737.3M1707.1 740L1703.7 743M1704.8 688.6L1698.1 689.5M1710.6 773.6L1703 779.8M1709.7 671.4L1711.1 674.7M1703.1 707.8L1703.8 718.5M1708.9 675.6L1715.9 680.1M1711.2 704.9L1711.3 711.1M1718.8 730.2L1725.6 731.2M1692.9 725L1693.9 733.9M1742.7 745.9L1740.2 752.4M1681.7 746L1686.6 749.4M1719.2 688.6L1712.6 691.6M1741.7 657.4L1742.3 662.8M1716.7 732.5L1713.8 742.5M1708.8 700.6L1703.6 705.8M1693.3 770.2L1696 772.5M1717 767.9L1708.5 772.1M1716.4 718.9L1719 722.3M1707.3 755.1L1705.5 765.7M1731.3 721.6L1729.5 727.6M1733.3 757.7L1741.9 763.1M1724.3 699.7L1719.9 704.2M1725.3 715.1L1721.2 724.5M1735 712.7L1738 720.8M1721.5 666.6L1721.4 671.7M1723.4 853.1L1726.3 857.1M1701.1 908.5L1693.8 911.9M1723.7 934.3L1725.8 940.3M1728.8 857L1721.5 864.2M1744.5 840.4L1740 841.6M1685.3 915.4L1687.3 919.2M1722.3 902.7L1721.5 909.6M1725.3 936.2L1719.8 942.8M1739.1 895.3L1737.5 898.7M1683.9 892.6L1681.4 896.6M1748 868.7L1748.2 875.3M1746.2 850.4L1751.8 856.1M1698.9 877.4L1708.3 881.5M1705.8 908.4L1713.3 915.6M1680.9 927.7L1688 929.2M1699.9 958.7L1701.7 968.2M1681.7 864.5L1675.8 864.7M1677.9 864.6L1680.9 871.1M1704.8 870.8L1705.3 877.4M1691.1 900L1689.3 907.3M1727.6 891.4L1735.8 897.9M1684.5 871L1686.1 877M1690.2 948L1694.4 954M1721.6 848.1L1722.4 852M1721.7 930.6L1712.3 935.3M1686.5 892.9L1683.5 898M1748.6 899.7L1745.4 901M1708.5 926.6L1702.5 930M1739.4 932.9L1741.7 941.2M1719.7 846.1L1710.5 849.1M1744.3 863.5L1741.9 865.5M1713.9 870.8L1713.8 876.8M1720.5 889.2L1714.6 894.8M1695.3 857.5L1699.3 861.3M1712.2 898.1L1704.3 905.3M1696.1 871.3L1696 874.3M1725 833.6L1722.8 840.8M1704.3 967.7L1706 970.2M1687.5 862L1681.5 868.5M1700.9 952.9L1705 955.2M1721.3 904L1717 907.3M1745.9 916.2L1741.7 922.5M1693.8 909.6L1690.8 910.2M1698 871.3L1704.4 877.9M1727.9 846.6L1721.9 854.6M1683 829.9L1679.9 839.3M1716.5 898.4L1718.7 905.5M1746.9 912.2L1742.3 917M1742.5 935.7L1742.4 941M1699.7 965.8L1698.2 968.9M1716.2 888.6L1714.6 893.5M1746.2 897.4L1741.9 900M1743.2 904.4L1742.3 910.7M1747.1 906.9L1746.5 912.7M1710.2 866.9L1711.1 871.8M1678.2 882.1L1686.4 882.8M1682.3 955L1685 959.3M1719.3 870.3L1715.8 874.4M1740.3 836.9L1750.2 838.6M1729.2 865.8L1726.6 871M1715 866L1714 874M1721.2 975.2L1719.5 982.5M1726.7 984.2L1717.3 988.4M1698.6 983.5L1691.1 984.2M1703.1 992.9L1700.9 999.6M1708.8 977.6L1710 980.4M1716.7 993.9L1709.4 1001.8M1889.2 646L1894.6 654.7M1866.4 677.2L1863.1 679.6M1869.8 671.7L1868.3 674.5M1885.7 651.8L1879.2 654.9M1855.8 660.7L1865.9 661M1892.2 672.5L1902.6 672.6M1874 667.6L1868.6 672.6M1866.4 653.9L1863.8 656.8M1864.8 884.4L1866 888.4M1884.6 821L1880 824.6M1890.3 872.9L1896.5 876.7M1872.4 797.3L1866.9 798.9M1885.2 790.5L1874.6 792.1M1886 796L1882.8 801.9M1867.1 806.3L1875.7 810.7M1881.5 864L1877.4 868.4M1877.6 814.9L1874.6 820.6M1889.9 814.9L1891.2 818.2M1841.4 807.9L1847.7 808.3M1860.2 880.3L1870.9 881.7M1846.9 873.1L1849 877.5M1877.9 823.4L1881.8 823.6M1886.6 863.2L1881.6 863.3M1889.8 819.5L1889.5 824.7M1865.3 882.2L1869.8 886.7M1901.3 832L1895.3 836M1865.1 860.7L1862.4 866M1907.7 792.7L1900 796.7M1887.1 835.2L1884.8 837.6M1882.3 875L1884.8 883.4M1887.7 837.2L1882.6 841.7M1851 840.3L1848 843.3M1865.7 875.6L1875.5 876M1866 821.3L1861.6 827.4M1858.7 796.8L1861.1 806.6M1906.1 859.6L1901.2 866.5M1894.3 800.1L1903 804.4M1841.8 836.9L1844.9 846.7M1877.5 808.6L1884 809.9M1876.7 834.1L1875.8 837.3M1863 873.5L1865.7 877M1856 885.9L1850.3 888.4M1867.2 823L1857.7 826.7M1902 876.5L1900 879.8M1902.3 800.9L1898.4 805.1M1840.9 852.9L1847.8 860.1M1852.9 855.9L1853.6 859.2M1863 815.5L1856.1 821.4M1869.8 896.2L1874.5 899.8M1847.5 899.8L1845.3 901.9M1854 893.6L1856.9 897.9M1854.5 949.1L1850.2 953.8M1871.1 901.9L1877.7 906.3M1865.3 932.3L1865.1 941M1850.1 948.7L1843.7 955.5M1855.1 944.8L1856.1 955.3M1849.6 949.3L1853.5 955.3M1860.7 922.3L1852.2 926.9M1840.9 932.3L1840.4 938.4M1842.2 949.3L1833.5 949.6M1855.4 889.9L1858.4 894.6M1835.4 909.7L1837.9 915.3M1885.5 692.6L1878.2 693.7M1884.2 723.5L1887 729.7M1888.2 756.9L1880.5 758.6M1902.7 761.6L1901.9 768.7M1893 717.2L1899.3 718.7M1894.3 749.8L1903.7 751M1879.1 732.5L1883.6 735.3M1888.7 740.2L1882.5 748M1890.1 685.3L1893.7 685.7M1828.6 565.6L1831.1 568.9" fill="none" stroke="#4a2c1a" stroke-width="10.9" stroke-linecap="round" opacity="1"/></g><path d="M1579.1 557.7L1591.4 557.7L1601.2 1005.5L1588.9 1005.5Z" fill="url(#eg)"/><path d="M1590.7 557.7L1667.5 557.7L1676.6 1005.5L1600.5 1005.5Z" fill="#c27b4f"/><path d="M1667.1 557.7L1671.8 557.7L1680.9 1005.5L1676.2 1005.5Z" fill="url(#eh)"/><path d="M1738 557.7L1750.4 557.7L1758.8 1005.5L1746.4 1005.5Z" fill="url(#eg)"/><path d="M1749.7 557.7L1825.7 557.7L1834.8 1005.5L1758.1 1005.5Z" fill="#c27b4f"/><path d="M1825.4 557.7L1830.1 557.7L1839.2 1005.5L1834.5 1005.5Z" fill="url(#eh)"/><path d="M1893 557.7L1905.4 557.7L1916.3 1005.5L1903.9 1005.5Z" fill="url(#eg)"/><path d="M1904.7 557.7L1984 557.7L1992 1005.5L1915.6 1005.5Z" fill="#c27b4f"/><path d="M1983.6 557.7L1988.4 557.7L1996.4 1005.5L1991.6 1005.5Z" fill="url(#eh)"/><g fill="none" stroke="#ee9e6a" stroke-linecap="round" stroke-linejoin="round" filter="url(#bl3)"><path d="M1624.9 699.2L1629.3 726.5L1628.5 759.2" stroke-width="41.8"/><path d="M1620.2 686.5L1622 693.7" stroke-width="21.8"/><path d="M1627.4 884.7L1632.9 906.6" stroke-width="45.5"/><path d="M1777.7 599.1L1781 628.3L1785.7 661" stroke-width="28.4"/><path d="M1803.9 833.8L1799.2 868.4" stroke-width="54.6"/><path d="M1795.5 879.3L1791.2 908.4" stroke-width="34.6"/><path d="M1928.7 630.1L1934.9 659.2" stroke-width="30.9"/><path d="M1943.2 857.5L1945.8 886.6" stroke-width="40"/><path d="M1951.2 890.2L1951.2 919.3" stroke-width="34.6"/></g><g filter="url(#bl1)"><path d="M1625.2 704.5L1627.1 713.7M1623.2 721.1L1623.2 726.6M1638.7 704.8L1643.6 712M1640.5 717.3L1637.4 723.3M1642.6 740.3L1643.7 746.1M1638.5 756.9L1646.8 752.1M1623.2 747.3L1620.4 752.1M1638.1 896.1L1634.4 902.3M1644.1 893.8L1648.9 898.5M1634.1 897.6L1632.9 902M1769.8 625.3L1779.2 628.7M1787.9 630.9L1782.7 628.2M1785.6 610.5L1787.1 615.9M1781.6 627.6L1784.3 634.8M1787 636.9L1788.6 645.4M1784.7 639L1782.2 645.4M1790.3 641L1792.4 650M1822.8 859.1L1818 865.8M1809.3 840.3L1806.4 847.8M1802.3 829.9L1798 833.3M1817.3 870.8L1816.7 876.7M1820.1 836.3L1819.5 840.8M1807.8 867.4L1811.9 875.8M1782.6 849.6L1781.7 855M1787.3 881.8L1789.6 891.7M1791.1 880L1793.1 884.2M1805 877.3L1799.5 884.4M1931.9 630.5L1935.8 634.9M1923.6 631.5L1925.3 636.1M1938.4 636.9L1939.2 645.8M1931.4 633.4L1932.8 639.6M1934.8 862.9L1935.4 867.5M1944.5 876L1942 880.6M1939.7 883.3L1937.1 887.3M1932.2 863.4L1937.7 868.3M1958.4 862.1L1955 871.3M1955.2 897.3L1962.8 901.5M1949.2 911.8L1946.1 918.2M1941.7 916L1938.4 923.3M1944.5 917.9L1942.2 921.9" fill="none" stroke="#f6ae7c" stroke-width="8" stroke-linecap="round"/><path d="M1621.8 734.9L1618.3 742.3M1626.1 749.2L1625.6 758.8M1627.9 740.8L1625.6 748.5M1617.4 728.5L1614.4 737.4M1639.9 750.5L1646.2 755.9M1647.7 747.1L1638.9 750.2M1626.4 689.5L1628.9 694.5M1621.9 684.9L1621.1 689.4M1639.7 896.4L1648.1 901.9M1627.1 905.5L1630.1 913.9M1633.2 879.6L1642 882.7M1635.8 900.1L1638.4 906.1M1776.6 593.7L1771.2 600.7M1785.5 639.3L1787.7 644.1M1784.3 629.6L1790.5 635.3M1788.2 867.7L1792.3 872.4M1798.8 855.9L1790.4 857M1799.4 848.5L1806.8 854.5M1790.8 896.3L1788.4 903M1799 890L1794 898.3M1790.3 886.4L1781.9 889.5M1929.8 659.2L1922 658.4M1925.3 642.9L1925.4 652.9M1931 649.1L1932.7 655M1952.5 877.5L1955.7 886.6M1938.4 864L1936.5 871M1947.9 869.2L1939.3 873.4M1939.1 903.3L1948.8 902.3M1954.5 891.1L1956.7 900.4" fill="none" stroke="#e69862" stroke-width="8" stroke-linecap="round"/><path d="M1630.5 723.1L1635.8 724.2M1620.4 712.2L1620.4 721.6M1620.7 719L1612.1 724.2M1620.1 700L1623.2 708.6M1630.9 718.3L1633.5 725.5M1626.3 709.7L1626.2 715M1622.9 738.4L1621.6 744.4M1618 722.5L1618.7 728.9M1642.8 759.1L1642.8 764.5M1630.5 894.8L1633.9 899M1620.5 903.8L1625.9 908.4M1787 610.1L1783.5 617.5M1784.6 615L1783.4 622.5M1782.9 596.4L1783.3 602.7M1779.7 632.3L1782.7 636M1785.1 622.5L1783.7 627.7M1793.8 860.5L1792.6 866.4M1801.6 857.3L1801.9 862.2M1789.4 840.7L1784.6 838M1792.3 837.7L1789.1 845.9M1787.6 846.6L1783.2 847.5M1812.1 842.4L1817.5 850.4M1794 883L1785.9 883.7M1794.1 879.8L1788.4 884.8M1785.8 887.1L1785 894.6M1923.8 653.4L1928.2 660.8M1959.8 854.7L1952.2 861.2M1949.5 868.5L1952.9 873.6M1943.6 890.3L1942.1 895.4M1952 913.3L1955.3 920.9M1942.6 896.3L1946.8 904.3" fill="none" stroke="#f2a672" stroke-width="8" stroke-linecap="round"/></g><path d="M1517 640.4H1992" stroke="#fff" stroke-width="5.8" stroke-dasharray="23.4 17.3"/></g>
<path d="M1560.9 965.9H1691.1" stroke="#fff" stroke-width="6.4"/><text x="1629" y="950" font-size="38" text-anchor="middle" font-weight="bold" fill="#fff" textLength="99" lengthAdjust="spacingAndGlyphs">6 µm</text>
<text x="1754.8" y="540" font-size="42.5" text-anchor="middle" textLength="131" lengthAdjust="spacingAndGlyphs">Inset 3</text>
<text x="1443.5" y="579" font-size="50" font-weight="bold">d</text>

<defs><clipPath id="ce"><rect x="124.7" y="1093.3" width="1865.3" height="359.3"/></clipPath><filter id="spk" filterUnits="userSpaceOnUse" x="120" y="1090" width="1875" height="366" color-interpolation-filters="sRGB"><feTurbulence type="fractalNoise" baseFrequency="0.4" numOctaves="2" seed="5" result="n"/><feColorMatrix in="n" type="matrix" values="0 0 0 0 0 0 0 0 0 0 0 0 0 0 0 30 0 0 0 -14.1" result="m"/><feComposite in="SourceGraphic" in2="m" operator="in"/></filter><filter id="sp0" filterUnits="userSpaceOnUse" x="120" y="1090" width="1875" height="366" color-interpolation-filters="sRGB"><feTurbulence type="fractalNoise" baseFrequency="0.4" numOctaves="2" seed="11" result="n"/><feColorMatrix in="n" type="matrix" values="0 0 0 0 0 0 0 0 0 0 0 0 0 0 0 40 0 0 0 -29.3" result="m"/><feComposite in="SourceGraphic" in2="m" operator="in"/></filter><filter id="sp1" filterUnits="userSpaceOnUse" x="120" y="1090" width="1875" height="366" color-interpolation-filters="sRGB"><feTurbulence type="fractalNoise" baseFrequency="0.4" numOctaves="2" seed="23" result="n"/><feColorMatrix in="n" type="matrix" values="0 0 0 0 0 0 0 0 0 0 0 0 0 0 0 40 0 0 0 -29.2" result="m"/><feComposite in="SourceGraphic" in2="m" operator="in"/></filter><filter id="sp2" filterUnits="userSpaceOnUse" x="120" y="1090" width="1875" height="366" color-interpolation-filters="sRGB"><feTurbulence type="fractalNoise" baseFrequency="0.4" numOctaves="2" seed="37" result="n"/><feColorMatrix in="n" type="matrix" values="0 0 0 0 0 0 0 0 0 0 0 0 0 0 0 40 0 0 0 -29.5" result="m"/><feComposite in="SourceGraphic" in2="m" operator="in"/></filter><filter id="sp3" filterUnits="userSpaceOnUse" x="120" y="1090" width="1875" height="366" color-interpolation-filters="sRGB"><feTurbulence type="fractalNoise" baseFrequency="0.4" numOctaves="2" seed="41" result="n"/><feColorMatrix in="n" type="matrix" values="0 0 0 0 0 0 0 0 0 0 0 0 0 0 0 40 0 0 0 -29.2" result="m"/><feComposite in="SourceGraphic" in2="m" operator="in"/></filter><filter id="wob2" filterUnits="userSpaceOnUse" x="100" y="100" width="1920" height="400"><feTurbulence type="fractalNoise" baseFrequency="0.045" numOctaves="2" seed="3"/><feDisplacementMap in="SourceGraphic" scale="10" xChannelSelector="R" yChannelSelector="G"/></filter><linearGradient id="dg" x1="0" y1="0" x2="1" y2="0"><stop offset="0" stop-color="#000" stop-opacity="0.1"/><stop offset="0.35" stop-color="#000" stop-opacity="0.45"/><stop offset="0.7" stop-color="#000" stop-opacity="1"/><stop offset="1" stop-color="#000" stop-opacity="1"/></linearGradient><mask id="dm" maskUnits="userSpaceOnUse" x="124.7" y="1093.3" width="1865.3" height="359.3"><rect x="124.7" y="1093.3" width="1865.3" height="359.3" fill="url(#dgw)"/></mask><linearGradient id="dgw" x1="0" y1="0" x2="1" y2="0"><stop offset="0" stop-color="#000"/><stop offset="0.3" stop-color="#111"/><stop offset="0.5" stop-color="#777"/><stop offset="0.75" stop-color="#fff"/><stop offset="1" stop-color="#fff"/></linearGradient><linearGradient id="cbe" x1="0" y1="0" x2="0" y2="1"><stop offset="0" stop-color="#f0241c"/><stop offset="0.03" stop-color="#ee2420"/><stop offset="0.13" stop-color="#8a2a90"/><stop offset="0.19" stop-color="#4a10ff"/><stop offset="0.27" stop-color="#1408ff"/><stop offset="0.36" stop-color="#3c6cf4"/><stop offset="0.47" stop-color="#70f4fc"/><stop offset="0.52" stop-color="#74fcec"/><stop offset="0.62" stop-color="#5ae87c"/><stop offset="0.71" stop-color="#3cf418"/><stop offset="0.78" stop-color="#40f010"/><stop offset="0.85" stop-color="#6c9c28"/><stop offset="0.93" stop-color="#b45c20"/><stop offset="0.975" stop-color="#f0301c"/><stop offset="1" stop-color="#f42818"/></linearGradient></defs>
<rect x="124.7" y="1093.3" width="1865.3" height="359.3" fill="#fff"/><g clip-path="url(#ce)"><g filter="url(#spk)"><g transform="matrix(1.00102 0 0 1.00814 -3.63 971.32)" fill="none" stroke-linecap="butt"><g filter="url(#wob2)"><g stroke-width="4.6"><use href="#nv0" stroke="#6af0fa"/><use href="#nv1" stroke="#2ce62c"/><use href="#nv2" stroke="#1c1cf2"/><use href="#nv3" stroke="#3c9cf8"/><g stroke-width="4.2"><use href="#nv4" stroke="#6af0fa"/><use href="#nv5" stroke="#2ce62c"/><use href="#nv6" stroke="#1c1cf2"/><use href="#nv7" stroke="#3c9cf8"/></g><use href="#nh0" stroke="#f01818"/><use href="#nh1" stroke="#5a20c8"/><use href="#nh2" stroke="#a86a20"/><g stroke-dasharray="2.2 4.5"><use href="#nv0" stroke="#1c1cf2"/><use href="#nv1" stroke="#6af0fa" stroke-dashoffset="2"/><use href="#nv2" stroke="#2ce62c" stroke-dashoffset="4"/><use href="#nv3" stroke="#f01818" stroke-dashoffset="1"/><use href="#nh0" stroke="#1c1cf2" stroke-dashoffset="3"/><use href="#nh1" stroke="#f01818"/><use href="#nh2" stroke="#2ce62c" stroke-dashoffset="5"/></g></g></g><g stroke-dasharray="3 7"><use href="#bt" stroke="#60e8f8" stroke-width="3"/><use href="#bm" stroke="#60e8f8" stroke-width="3"/><use href="#bm" stroke="#2ce62c" stroke-width="3" stroke-dashoffset="5" stroke-dasharray="2 18"/><use href="#bw" stroke="#60e8f8" stroke-width="2.6" stroke-dasharray="3 13"/><use href="#bt" stroke="#3050f0" stroke-width="3" stroke-dashoffset="6" stroke-dasharray="2 22"/><use href="#bw" stroke="#f02020" stroke-width="3" stroke-dashoffset="5" stroke-dasharray="2 26"/></g></g></g><g mask="url(#dm)"><rect x="124.7" y="1093.3" width="1865.3" height="359.3" fill="#f01c1c" filter="url(#sp0)"/><rect x="124.7" y="1093.3" width="1865.3" height="359.3" fill="#1c1cf0" filter="url(#sp1)"/><rect x="124.7" y="1093.3" width="1865.3" height="359.3" fill="#30e030" filter="url(#sp2)"/><rect x="124.7" y="1093.3" width="1865.3" height="359.3" fill="#40d8f0" filter="url(#sp3)"/></g></g>
<rect x="124.7" y="1093.3" width="1865.3" height="359.3" fill="none" stroke="#000" stroke-width="1.3"/>
<rect x="77" y="1142.6" width="34.2" height="276.8" fill="url(#cbe)"/>
<text x="121.4" y="1128.9" font-size="33.4" text-anchor="end" textLength="53.5" lengthAdjust="spacingAndGlyphs">90<tspan font-size="24" dy="-11.2">o</tspan></text>
<text x="72" y="1300.4" font-size="33.4" text-anchor="end" textLength="32.5" lengthAdjust="spacingAndGlyphs">0<tspan font-size="24" dy="-11.2">o</tspan></text>
<text x="121.5" y="1454.8" font-size="33.4" text-anchor="end" textLength="65.5" lengthAdjust="spacingAndGlyphs">-90<tspan font-size="24" dy="-11.2">o</tspan></text>
<text x="1" y="1080.2" font-size="51" font-weight="bold">e</text>
<text x="349.5" y="1074" font-size="42" text-anchor="middle" textLength="175" lengthAdjust="spacingAndGlyphs">N=47231</text>
<text x="1092" y="1073.5" font-size="42" text-anchor="middle" textLength="227" lengthAdjust="spacingAndGlyphs">Orientation</text>

<defs><linearGradient id="gg" x1="0" y1="0" x2="0" y2="1"><stop offset="0" stop-color="#b6ef58"/><stop offset="0.3" stop-color="#c4f27c"/><stop offset="1" stop-color="#fbfff4"/></linearGradient><linearGradient id="gr" x1="0" y1="0" x2="0" y2="1"><stop offset="0" stop-color="#ee6068"/><stop offset="0.25" stop-color="#f1858b"/><stop offset="0.6" stop-color="#f8c6c9"/><stop offset="1" stop-color="#ffffff"/></linearGradient><linearGradient id="gb" x1="0" y1="0" x2="0" y2="1"><stop offset="0" stop-color="#a4e1fb"/><stop offset="0.2" stop-color="#b0e5fb"/><stop offset="1" stop-color="#ffffff"/></linearGradient></defs><g fill="url(#gg)" stroke="#32ff08" stroke-width="1.4"><rect x="126.9" y="1801.6" width="9.63" height="114.3"/><rect x="136.53" y="1798.2" width="9.63" height="117.7"/><rect x="146.15" y="1808.3" width="9.63" height="107.6"/><rect x="155.78" y="1814.2" width="9.63" height="101.7"/><rect x="165.4" y="1803.8" width="9.63" height="112.1"/><rect x="175.03" y="1811.7" width="9.63" height="104.2"/><rect x="184.66" y="1803.3" width="9.63" height="112.6"/><rect x="194.28" y="1803.8" width="9.63" height="112.1"/><rect x="203.91" y="1786.5" width="9.63" height="129.4"/><rect x="213.53" y="1800.9" width="9.63" height="115"/><rect x="223.16" y="1784.1" width="9.63" height="131.8"/><rect x="232.79" y="1783.3" width="9.63" height="132.6"/><rect x="242.41" y="1783.1" width="9.63" height="132.8"/><rect x="252.04" y="1770.3" width="9.63" height="145.6"/><rect x="261.66" y="1770.9" width="9.63" height="145"/><rect x="271.29" y="1755.4" width="9.63" height="160.5"/><rect x="280.92" y="1751.2" width="9.63" height="164.7"/><rect x="290.54" y="1752.2" width="9.63" height="163.7"/><rect x="300.17" y="1749" width="9.63" height="166.9"/><rect x="309.79" y="1735.4" width="9.63" height="180.5"/><rect x="319.42" y="1741.1" width="9.63" height="174.8"/><rect x="329.05" y="1733.5" width="9.63" height="182.4"/><rect x="338.67" y="1720.1" width="9.63" height="195.8"/><rect x="348.3" y="1700.1" width="9.63" height="215.8"/><rect x="357.92" y="1631.3" width="9.63" height="284.6"/><rect x="367.55" y="1588.4" width="9.63" height="327.5"/><rect x="377.18" y="1685.3" width="9.63" height="230.6"/><rect x="386.8" y="1701.9" width="9.63" height="214"/><rect x="396.43" y="1719.4" width="9.63" height="196.5"/><rect x="406.05" y="1715.4" width="9.63" height="200.5"/><rect x="415.68" y="1712.5" width="9.63" height="203.4"/><rect x="425.31" y="1724.1" width="9.63" height="191.8"/><rect x="434.93" y="1712.5" width="9.63" height="203.4"/><rect x="444.56" y="1719.4" width="9.63" height="196.5"/><rect x="454.18" y="1716.9" width="9.63" height="199"/><rect x="463.81" y="1741.7" width="9.63" height="174.2"/><rect x="473.44" y="1737.5" width="9.63" height="178.4"/><rect x="483.06" y="1744.1" width="9.63" height="171.8"/><rect x="492.69" y="1753.2" width="9.63" height="162.7"/><rect x="502.31" y="1758.9" width="9.63" height="157"/><rect x="511.94" y="1768.5" width="9.63" height="147.4"/><rect x="521.57" y="1777" width="9.63" height="138.9"/><rect x="531.19" y="1780.4" width="9.63" height="135.5"/><rect x="540.82" y="1792.7" width="9.63" height="123.2"/><rect x="550.44" y="1788.1" width="9.63" height="127.8"/><rect x="560.07" y="1796.5" width="9.63" height="119.4"/><rect x="569.7" y="1808" width="9.63" height="107.9"/><rect x="579.32" y="1802.3" width="9.63" height="113.6"/><rect x="588.95" y="1803.3" width="9.63" height="112.6"/><rect x="598.57" y="1796.1" width="9.63" height="119.8"/></g>
<g fill="url(#gr)" stroke="#f83a3a" stroke-width="1.4"><rect x="126.9" y="1841.1" width="9.63" height="74.8"/><rect x="136.53" y="1837.7" width="9.63" height="78.2"/><rect x="146.15" y="1844.3" width="9.63" height="71.6"/><rect x="155.78" y="1850.3" width="9.63" height="65.6"/><rect x="165.4" y="1844" width="9.63" height="71.9"/><rect x="175.03" y="1844" width="9.63" height="71.9"/><rect x="184.66" y="1840.3" width="9.63" height="75.6"/><rect x="194.28" y="1839.8" width="9.63" height="76.1"/><rect x="203.91" y="1827.1" width="9.63" height="88.8"/><rect x="213.53" y="1834" width="9.63" height="81.9"/><rect x="223.16" y="1814.2" width="9.63" height="101.7"/><rect x="232.79" y="1818.1" width="9.63" height="97.8"/><rect x="242.41" y="1813.9" width="9.63" height="102"/><rect x="252.04" y="1807" width="9.63" height="108.9"/><rect x="261.66" y="1802.8" width="9.63" height="113.1"/><rect x="271.29" y="1786" width="9.63" height="129.9"/><rect x="280.92" y="1783.8" width="9.63" height="132.1"/><rect x="290.54" y="1779.6" width="9.63" height="136.3"/><rect x="300.17" y="1776.7" width="9.63" height="139.2"/><rect x="309.79" y="1766.3" width="9.63" height="149.6"/><rect x="319.42" y="1769.7" width="9.63" height="146.2"/><rect x="329.05" y="1766.5" width="9.63" height="149.4"/><rect x="338.67" y="1758.9" width="9.63" height="157"/><rect x="348.3" y="1753.7" width="9.63" height="162.2"/><rect x="357.92" y="1740.2" width="9.63" height="175.7"/><rect x="367.55" y="1748.6" width="9.63" height="167.3"/><rect x="377.18" y="1748.3" width="9.63" height="167.6"/><rect x="386.8" y="1751.8" width="9.63" height="164.1"/><rect x="396.43" y="1768.8" width="9.63" height="147.1"/><rect x="406.05" y="1757.5" width="9.63" height="158.4"/><rect x="415.68" y="1761.8" width="9.63" height="154.1"/><rect x="425.31" y="1765.6" width="9.63" height="150.3"/><rect x="434.93" y="1751.7" width="9.63" height="164.2"/><rect x="444.56" y="1758.9" width="9.63" height="157"/><rect x="454.18" y="1759.4" width="9.63" height="156.5"/><rect x="463.81" y="1778.1" width="9.63" height="137.8"/><rect x="473.44" y="1782.8" width="9.63" height="133.1"/><rect x="483.06" y="1784.6" width="9.63" height="131.3"/><rect x="492.69" y="1796.1" width="9.63" height="119.8"/><rect x="502.31" y="1809" width="9.63" height="106.9"/><rect x="511.94" y="1815.2" width="9.63" height="100.7"/><rect x="521.57" y="1822.9" width="9.63" height="93"/><rect x="531.19" y="1823.8" width="9.63" height="92.1"/><rect x="540.82" y="1835.7" width="9.63" height="80.2"/><rect x="550.44" y="1832" width="9.63" height="83.9"/><rect x="560.07" y="1835.7" width="9.63" height="80.2"/><rect x="569.7" y="1846.1" width="9.63" height="69.8"/><rect x="579.32" y="1842.6" width="9.63" height="73.3"/><rect x="588.95" y="1841.9" width="9.63" height="74"/><rect x="598.57" y="1837.7" width="9.63" height="78.2"/></g>
<g fill="url(#gb)" stroke="#3fa4f8" stroke-width="1.4"><rect x="126.9" y="1874.4" width="9.63" height="41.5"/><rect x="136.53" y="1875.1" width="9.63" height="40.8"/><rect x="146.15" y="1878.9" width="9.63" height="37"/><rect x="155.78" y="1879.3" width="9.63" height="36.6"/><rect x="165.4" y="1874.9" width="9.63" height="41"/><rect x="175.03" y="1883.1" width="9.63" height="32.8"/><rect x="184.66" y="1878.2" width="9.63" height="37.7"/><rect x="194.28" y="1878.9" width="9.63" height="37"/><rect x="203.91" y="1874.4" width="9.63" height="41.5"/><rect x="213.53" y="1882.3" width="9.63" height="33.6"/><rect x="223.16" y="1885.6" width="9.63" height="30.3"/><rect x="232.79" y="1880.8" width="9.63" height="35.1"/><rect x="242.41" y="1884" width="9.63" height="31.9"/><rect x="252.04" y="1878.2" width="9.63" height="37.7"/><rect x="261.66" y="1883.5" width="9.63" height="32.4"/><rect x="271.29" y="1884.6" width="9.63" height="31.3"/><rect x="280.92" y="1882.3" width="9.63" height="33.6"/><rect x="290.54" y="1887.8" width="9.63" height="28.1"/><rect x="300.17" y="1886.8" width="9.63" height="29.1"/><rect x="309.79" y="1884" width="9.63" height="31.9"/><rect x="319.42" y="1886.5" width="9.63" height="29.4"/><rect x="329.05" y="1882.3" width="9.63" height="33.6"/><rect x="338.67" y="1875.6" width="9.63" height="40.3"/><rect x="348.3" y="1861.1" width="9.63" height="54.8"/><rect x="357.92" y="1806.6" width="9.63" height="109.3"/><rect x="367.55" y="1755" width="9.63" height="160.9"/><rect x="377.18" y="1851.9" width="9.63" height="64"/><rect x="386.8" y="1865" width="9.63" height="50.9"/><rect x="396.43" y="1865.3" width="9.63" height="50.6"/><rect x="406.05" y="1872.5" width="9.63" height="43.4"/><rect x="415.68" y="1865.8" width="9.63" height="50.1"/><rect x="425.31" y="1874" width="9.63" height="41.9"/><rect x="434.93" y="1875.7" width="9.63" height="40.2"/><rect x="444.56" y="1875.4" width="9.63" height="40.5"/><rect x="454.18" y="1871.5" width="9.63" height="44.4"/><rect x="463.81" y="1878.9" width="9.63" height="37"/><rect x="473.44" y="1869.3" width="9.63" height="46.6"/><rect x="483.06" y="1874.4" width="9.63" height="41.5"/><rect x="492.69" y="1872.5" width="9.63" height="43.4"/><rect x="502.31" y="1865" width="9.63" height="50.9"/><rect x="511.94" y="1867.8" width="9.63" height="48.1"/><rect x="521.57" y="1869.2" width="9.63" height="46.7"/><rect x="531.19" y="1871.5" width="9.63" height="44.4"/><rect x="540.82" y="1872" width="9.63" height="43.9"/><rect x="550.44" y="1871" width="9.63" height="44.9"/><rect x="560.07" y="1875.4" width="9.63" height="40.5"/><rect x="569.7" y="1876" width="9.63" height="39.9"/><rect x="579.32" y="1874" width="9.63" height="41.9"/><rect x="588.95" y="1876" width="9.63" height="39.9"/><rect x="598.57" y="1872.9" width="9.63" height="43"/></g>
<rect x="126.9" y="1537.6" width="481.3" height="378.3" fill="none" stroke="#000" stroke-width="2.1"/><path d="M126.9 1915.9h-6M126.9 1873.9h-3.5M126.9 1831.9h-6M126.9 1789.8h-3.5M126.9 1747.8h-6M126.9 1705.8h-3.5M126.9 1663.8h-6M126.9 1621.7h-3.5M126.9 1579.7h-6M126.9 1915.9v6M187.1 1915.9v3.5M247.2 1915.9v6M307.4 1915.9v3.5M367.6 1915.9v6M427.7 1915.9v3.5M487.9 1915.9v6M548 1915.9v3.5M608.2 1915.9v6" stroke="#000" stroke-width="2" fill="none"/>
<text x="117" y="1925.5" font-size="29.4" text-anchor="end">0.0</text>
<text x="117" y="1841.5" font-size="29.4" text-anchor="end">0.5</text>
<text x="117" y="1757.4" font-size="29.4" text-anchor="end">1.0</text>
<text x="117" y="1673.3" font-size="29.4" text-anchor="end">1.5</text>
<text x="117" y="1589.3" font-size="29.4" text-anchor="end">2.0</text>
<text x="126.9" y="1950" font-size="29.4" text-anchor="middle">−90</text>
<text x="247.2" y="1950" font-size="29.4" text-anchor="middle">−45</text>
<text x="367.6" y="1950" font-size="29.4" text-anchor="middle">0</text>
<text x="487.9" y="1950" font-size="29.4" text-anchor="middle">45</text>
<text x="608.2" y="1950" font-size="29.4" text-anchor="middle">90</text>
<text x="367" y="1981" font-size="29.6" text-anchor="middle" textLength="227" lengthAdjust="spacingAndGlyphs">Orientation (Deg)</text>
<text x="65.5" y="1727.7" font-size="30" text-anchor="middle" textLength="139" lengthAdjust="spacingAndGlyphs" transform="rotate(-90 65.5 1727.7)"># Bacteria</text>
<text x="127.5" y="1529.7" font-size="28.6">k</text>
<text x="13" y="1529.7" font-size="50" font-weight="bold">f</text>
<rect x="147.8" y="1544.8" width="66.2" height="34.3" fill="url(#gg)" stroke="#32ff08" stroke-width="1.4"/><text x="223" y="1572.6" font-size="30.5">both</text>
<rect x="147.8" y="1584" width="66.2" height="34.3" fill="url(#gr)" stroke="#f83a3a" stroke-width="1.4"/><text x="223" y="1611.8" font-size="30.5">plateau</text>
<rect x="147.8" y="1623.2" width="66.2" height="34.3" fill="url(#gb)" stroke="#3fa4f8" stroke-width="1.4"/><text x="223" y="1651" font-size="30.5">valley</text>
<text x="434" y="1578.8" font-size="30.5" textLength="146.5" lengthAdjust="spacingAndGlyphs">N<tspan font-size="20" dy="7">p</tspan><tspan dy="-7">=34300</tspan></text>
<text x="434" y="1630.3" font-size="30.5" textLength="142.5" lengthAdjust="spacingAndGlyphs">N<tspan font-size="20" dy="7">v</tspan><tspan dy="-7">=12931</tspan></text>
<path d="M833.8 1871.1L835.5 1877.9L840.7 1880.7L847.5 1882.1L848.5 1879.7L849.9 1882.4L857.8 1883.8L863 1884.8L866.4 1888.2L868.1 1887.5L870.5 1874.5L872.6 1864.2L875 1843.6L876.7 1826.5L878.4 1821.3L881.8 1821.3L885.2 1824.8L888 1829.9L890.4 1823.1L893.8 1812.8L896.2 1799L898.3 1771.6L900 1730.4L901.7 1699.6L903.1 1684.1L904.8 1680.7L909.3 1681.7L926.4 1680.7L930.5 1678.3L931.9 1680.7L940.1 1680.7L948.7 1679L950.4 1676.6L952.5 1679L964.2 1678.3L967.6 1676.2L969 1671.4L970 1679L970.7 1721.9L971.7 1716.7L973.1 1716L973.8 1754.4L975.5 1795.6L978.6 1836.8L981.3 1874.5L983.4 1879.7L985.4 1877.9L987.5 1880.7L995 1883.1L1003.6 1884.1L1005.3 1879.7L1007.4 1884.8L1010.5 1881.4L1012.9 1884.1L1017.3 1884.8L1019 1880.7L1021.4 1885.5L1025.9 1885.5L1027.6 1881.4L1030 1884.8L1032.8 1879.7L1035.5 1876.2L1037.2 1853.9L1038.6 1848.8L1040.3 1853.9L1042 1854.6L1044.1 1836.8L1047.2 1805.9L1049.9 1771.6L1052 1727L1053.3 1699.6L1055.1 1695.4L1056.8 1694.4L1058.5 1685.8L1060.9 1644.7L1063.6 1622.4L1066.4 1614.8L1068.8 1622.4L1071.2 1621.3L1073.9 1611L1076.3 1610.4L1079.1 1613.8L1081.5 1614.8L1083.5 1617.2L1085.6 1624.1L1087.7 1620.7L1089.4 1627.5L1091.1 1643L1093.8 1647.1L1096.2 1648.1L1099.7 1653.2L1103.1 1660.1L1104.8 1672.1L1106.9 1680.7L1108.9 1675.5L1111.7 1677.3L1115.1 1676.2L1117.8 1677.6L1118.9 1668.7L1119.9 1679L1120.6 1706.4L1121.3 1718.4L1122.3 1704.7L1123.3 1720.1L1124.7 1754.4L1126.4 1788.7L1128.8 1823.1L1131.6 1857.4L1133.3 1874.5L1135.7 1877.9L1139.1 1879L1142.5 1882.1L1144.3 1879.7L1146 1883.1L1148.7 1879L1150.4 1883.1L1154.5 1884.8L1156.3 1882.1L1159.7 1884.8L1170 1885.5L1173.4 1885.8L1177.5 1888.2L1179.2 1881.4L1181.3 1867.7L1183 1850.5L1185.4 1836.8L1188.9 1826.5L1192.3 1819.6L1194.7 1816.2L1196.4 1799L1198.1 1764.7L1200.2 1727L1201.9 1703L1204.3 1692.7L1207.7 1675.5L1211.1 1655L1214.6 1641.2L1218 1629.2L1219.7 1625.8L1222.1 1626.8L1224.2 1629.9L1225.9 1624.1L1227.6 1616.5L1230 1617.2L1232.4 1612.1L1235.2 1601.8L1237.6 1595.6L1239.6 1594.6L1242 1598.4L1244.4 1613.8L1246.1 1634.4L1247.9 1665.2L1249.9 1680.7L1252.3 1678.3L1254.7 1676.2L1257.5 1679L1266 1678.3L1268.4 1679L1269.1 1668L1270.2 1672.1L1270.8 1720.1L1271.9 1715L1273.2 1715.7L1273.9 1754.4L1275.3 1789.8" fill="none" stroke="#000" stroke-width="2.4" stroke-linejoin="round"/>
<rect x="833.8" y="1540.0" width="480.3" height="382.5" fill="none" stroke="#000" stroke-width="1.5"/><path d="M833.8 1884.8h-6M1314.1 1884.8h-6M833.8 1846.4h-3.5M1314.1 1846.4h-3.5M833.8 1923.2h-3.5M1314.1 1923.2h-3.5M833.8 1808h-6M1314.1 1808h-6M833.8 1769.7h-3.5M1314.1 1769.7h-3.5M833.8 1731.3h-6M1314.1 1731.3h-6M833.8 1692.9h-3.5M1314.1 1692.9h-3.5M833.8 1654.5h-6M1314.1 1654.5h-6M833.8 1616.1h-3.5M1314.1 1616.1h-3.5M833.8 1577.8h-6M1314.1 1577.8h-6M833.8 1539.4h-3.5M1314.1 1539.4h-3.5M833.8 1922.5v6M833.8 1540.0v6M893.8 1922.5v3.5M893.8 1540.0v3.5M953.9 1922.5v6M953.9 1540.0v6M1013.9 1922.5v3.5M1013.9 1540.0v3.5M1073.9 1922.5v6M1073.9 1540.0v6M1134 1922.5v3.5M1134 1540.0v3.5M1194 1922.5v6M1194 1540.0v6M1254.1 1922.5v3.5M1254.1 1540.0v3.5M1314.1 1922.5v6M1314.1 1540.0v6" stroke="#000" stroke-width="1.5" fill="none"/>
<text x="814" y="1894.4" font-size="29.4" text-anchor="end">0.0</text>
<text x="814" y="1817.6" font-size="29.4" text-anchor="end">0.5</text>
<text x="814" y="1740.9" font-size="29.4" text-anchor="end">1.0</text>
<text x="814" y="1664.1" font-size="29.4" text-anchor="end">1.5</text>
<text x="814" y="1587.4" font-size="29.4" text-anchor="end">2.0</text>
<text x="833.8" y="1961" font-size="29.4" text-anchor="middle">0</text>
<text x="953.9" y="1961" font-size="29.4" text-anchor="middle">5</text>
<text x="1073.9" y="1961" font-size="29.4" text-anchor="middle">10</text>
<text x="1194" y="1961" font-size="29.4" text-anchor="middle">15</text>
<text x="1314.1" y="1961" font-size="29.4" text-anchor="middle">20</text>
<text x="1073.5" y="1998.5" font-size="30" text-anchor="middle" textLength="98.5" lengthAdjust="spacingAndGlyphs">X (µm)</text>
<text x="763.5" y="1732" font-size="30" text-anchor="middle" textLength="161" lengthAdjust="spacingAndGlyphs" transform="rotate(-90 763.5 1732)">height (µm)</text>
<text x="737" y="1528.5" font-size="50" font-weight="bold">g</text>
<g fill="#6e6e6e"><circle cx="1522.6" cy="1732" r="2.6"/><circle cx="1528.2" cy="1734.4" r="2.6"/><circle cx="1533.9" cy="1720.9" r="2.6"/><circle cx="1539.5" cy="1728.6" r="2.6"/><circle cx="1545.2" cy="1711.8" r="2.6"/><circle cx="1550.8" cy="1709.4" r="2.6"/><circle cx="1556.5" cy="1694.6" r="2.6"/><circle cx="1562.1" cy="1703.7" r="2.6"/><circle cx="1567.8" cy="1747.3" r="2.6"/><circle cx="1573.4" cy="1742" r="2.6"/><circle cx="1579.1" cy="1740.6" r="2.6"/><circle cx="1584.7" cy="1729.1" r="2.6"/><circle cx="1590.4" cy="1714.7" r="2.6"/><circle cx="1596" cy="1737.7" r="2.6"/><circle cx="1601.7" cy="1717.1" r="2.6"/><circle cx="1607.3" cy="1726.2" r="2.6"/><circle cx="1613" cy="1714.7" r="2.6"/><circle cx="1618.6" cy="1739.6" r="2.6"/><circle cx="1624.3" cy="1728.6" r="2.6"/><circle cx="1629.9" cy="1737.7" r="2.6"/><circle cx="1635.6" cy="1734.4" r="2.6"/><circle cx="1641.2" cy="1728.6" r="2.6"/><circle cx="1646.9" cy="1718.1" r="2.6"/><circle cx="1652.6" cy="1750.2" r="2.6"/><circle cx="1658.2" cy="1712.3" r="2.6"/><circle cx="1663.9" cy="1694.1" r="2.6"/><circle cx="1669.5" cy="1737.2" r="2.6"/><circle cx="1675.2" cy="1731" r="2.6"/><circle cx="1680.8" cy="1688.3" r="2.6"/><circle cx="1686.5" cy="1719" r="2.6"/><circle cx="1692.1" cy="1711.8" r="2.6"/><circle cx="1697.8" cy="1734.4" r="2.6"/><circle cx="1703.4" cy="1751.2" r="2.6"/><circle cx="1709.1" cy="1728.6" r="2.6"/><circle cx="1714.7" cy="1730.5" r="2.6"/><circle cx="1720.4" cy="1741.6" r="2.6"/><circle cx="1726" cy="1708" r="2.6"/><circle cx="1731.7" cy="1762.2" r="2.6"/><circle cx="1737.3" cy="1747.3" r="2.6"/><circle cx="1743" cy="1723.8" r="2.6"/><circle cx="1748.6" cy="1697" r="2.6"/><circle cx="1754.3" cy="1719" r="2.6"/><circle cx="1759.9" cy="1727.7" r="2.6"/><circle cx="1765.6" cy="1747.8" r="2.6"/><circle cx="1771.3" cy="1762.2" r="2.6"/><circle cx="1776.9" cy="1769.4" r="2.6"/><circle cx="1782.6" cy="1748.8" r="2.6"/><circle cx="1788.2" cy="1724.3" r="2.6"/><circle cx="1793.9" cy="1718.1" r="2.6"/><circle cx="1799.5" cy="1691.7" r="2.6"/><circle cx="1805.2" cy="1713.8" r="2.6"/><circle cx="1810.8" cy="1739.6" r="2.6"/><circle cx="1816.5" cy="1712.3" r="2.6"/><circle cx="1822.1" cy="1768.4" r="2.6"/><circle cx="1827.8" cy="1729.6" r="2.6"/><circle cx="1833.4" cy="1687.9" r="2.6"/><circle cx="1839.1" cy="1669.6" r="2.6"/><circle cx="1844.7" cy="1663.9" r="2.6"/><circle cx="1850.4" cy="1703.7" r="2.6"/><circle cx="1856" cy="1741.6" r="2.6"/><circle cx="1861.7" cy="1762.7" r="2.6"/><circle cx="1867.3" cy="1754" r="2.6"/><circle cx="1873" cy="1807.7" r="2.6"/><circle cx="1878.6" cy="1789.5" r="2.6"/><circle cx="1884.3" cy="1774.2" r="2.6"/><circle cx="1889.9" cy="1784.7" r="2.6"/><circle cx="1895.6" cy="1800.5" r="2.6"/><circle cx="1901.3" cy="1797.2" r="2.6"/><circle cx="1906.9" cy="1781.8" r="2.6"/><circle cx="1912.6" cy="1780.9" r="2.6"/><circle cx="1918.2" cy="1797.2" r="2.6"/><circle cx="1923.9" cy="1800.1" r="2.6"/><circle cx="1929.5" cy="1780.4" r="2.6"/><circle cx="1935.2" cy="1775.1" r="2.6"/><circle cx="1940.8" cy="1798.1" r="2.6"/><circle cx="1946.5" cy="1768.4" r="2.6"/><circle cx="1952.1" cy="1775.6" r="2.6"/><circle cx="1957.8" cy="1783.8" r="2.6"/><circle cx="1963.4" cy="1789.5" r="2.6"/><circle cx="1969.1" cy="1790.9" r="2.6"/><circle cx="1974.7" cy="1801" r="2.6"/><circle cx="1980.4" cy="1783.8" r="2.6"/><circle cx="1522.6" cy="1803.1" r="2.6"/><circle cx="1528.2" cy="1809.1" r="2.6"/><circle cx="1533.9" cy="1795.9" r="2.6"/><circle cx="1539.5" cy="1812.4" r="2.6"/><circle cx="1545.2" cy="1799" r="2.6"/><circle cx="1550.8" cy="1814.1" r="2.6"/><circle cx="1556.5" cy="1793.2" r="2.6"/><circle cx="1562.1" cy="1798.3" r="2.6"/><circle cx="1567.8" cy="1790.6" r="2.6"/><circle cx="1573.4" cy="1803.7" r="2.6"/><circle cx="1579.1" cy="1798.5" r="2.6"/><circle cx="1584.7" cy="1803.3" r="2.6"/><circle cx="1590.4" cy="1806.6" r="2.6"/><circle cx="1596" cy="1801.1" r="2.6"/><circle cx="1601.7" cy="1810.3" r="2.6"/><circle cx="1607.3" cy="1803.7" r="2.6"/><circle cx="1613" cy="1796.2" r="2.6"/><circle cx="1618.6" cy="1800.7" r="2.6"/><circle cx="1624.3" cy="1805" r="2.6"/><circle cx="1629.9" cy="1787.8" r="2.6"/><circle cx="1635.6" cy="1799.2" r="2.6"/><circle cx="1641.2" cy="1803.7" r="2.6"/><circle cx="1646.9" cy="1800" r="2.6"/><circle cx="1652.6" cy="1803.8" r="2.6"/><circle cx="1658.2" cy="1803.4" r="2.6"/><circle cx="1663.9" cy="1803.2" r="2.6"/><circle cx="1669.5" cy="1789.4" r="2.6"/><circle cx="1675.2" cy="1802.8" r="2.6"/><circle cx="1680.8" cy="1802.8" r="2.6"/><circle cx="1686.5" cy="1800.6" r="2.6"/><circle cx="1692.1" cy="1794.2" r="2.6"/><circle cx="1697.8" cy="1810.1" r="2.6"/><circle cx="1703.4" cy="1815" r="2.6"/><circle cx="1709.1" cy="1796.1" r="2.6"/><circle cx="1714.7" cy="1821.1" r="2.6"/><circle cx="1720.4" cy="1814.8" r="2.6"/><circle cx="1726" cy="1807.9" r="2.6"/><circle cx="1731.7" cy="1796.4" r="2.6"/><circle cx="1737.3" cy="1815.6" r="2.6"/><circle cx="1743" cy="1825.7" r="2.6"/><circle cx="1748.6" cy="1808.4" r="2.6"/><circle cx="1754.3" cy="1816.3" r="2.6"/><circle cx="1759.9" cy="1815.4" r="2.6"/><circle cx="1765.6" cy="1808.2" r="2.6"/><circle cx="1771.3" cy="1807.3" r="2.6"/><circle cx="1776.9" cy="1806.9" r="2.6"/><circle cx="1782.6" cy="1812.8" r="2.6"/><circle cx="1788.2" cy="1803.5" r="2.6"/><circle cx="1793.9" cy="1807" r="2.6"/><circle cx="1799.5" cy="1818.6" r="2.6"/><circle cx="1805.2" cy="1818.7" r="2.6"/><circle cx="1810.8" cy="1808" r="2.6"/><circle cx="1816.5" cy="1806.2" r="2.6"/><circle cx="1822.1" cy="1813.7" r="2.6"/><circle cx="1827.8" cy="1810.1" r="2.6"/><circle cx="1833.4" cy="1804.5" r="2.6"/><circle cx="1839.1" cy="1817.9" r="2.6"/><circle cx="1844.7" cy="1825.6" r="2.6"/><circle cx="1850.4" cy="1827" r="2.6"/><circle cx="1856" cy="1833.3" r="2.6"/><circle cx="1861.7" cy="1838.9" r="2.6"/><circle cx="1867.3" cy="1834.1" r="2.6"/><circle cx="1873" cy="1863.4" r="2.6"/><circle cx="1878.6" cy="1861.5" r="2.6"/><circle cx="1884.3" cy="1862" r="2.6"/><circle cx="1889.9" cy="1871.6" r="2.6"/><circle cx="1895.6" cy="1862.6" r="2.6"/><circle cx="1901.3" cy="1885.1" r="2.6"/><circle cx="1906.9" cy="1892.8" r="2.6"/><circle cx="1912.6" cy="1869.3" r="2.6"/><circle cx="1918.2" cy="1875.2" r="2.6"/><circle cx="1923.9" cy="1860.2" r="2.6"/><circle cx="1929.5" cy="1871.4" r="2.6"/><circle cx="1935.2" cy="1890.4" r="2.6"/><circle cx="1940.8" cy="1887.1" r="2.6"/><circle cx="1946.5" cy="1886" r="2.6"/><circle cx="1952.1" cy="1879.2" r="2.6"/><circle cx="1957.8" cy="1866.2" r="2.6"/><circle cx="1963.4" cy="1878.3" r="2.6"/><circle cx="1969.1" cy="1864" r="2.6"/><circle cx="1974.7" cy="1852.5" r="2.6"/><circle cx="1980.4" cy="1850.8" r="2.6"/><circle cx="1986" cy="1794.6" r="2.6"/></g>
<g fill="#f27a82"><circle cx="1522.6" cy="1875.9" r="2.6"/><circle cx="1528.2" cy="1860.4" r="2.6"/><circle cx="1533.9" cy="1858.6" r="2.6"/><circle cx="1539.5" cy="1839.7" r="2.6"/><circle cx="1545.2" cy="1822.6" r="2.6"/><circle cx="1550.8" cy="1838" r="2.6"/><circle cx="1556.5" cy="1833.1" r="2.6"/><circle cx="1562.1" cy="1842.6" r="2.6"/><circle cx="1567.8" cy="1843.1" r="2.6"/><circle cx="1573.4" cy="1848.4" r="2.6"/><circle cx="1579.1" cy="1847.6" r="2.6"/><circle cx="1584.7" cy="1870.8" r="2.6"/><circle cx="1590.4" cy="1861.2" r="2.6"/><circle cx="1596" cy="1864.9" r="2.6"/><circle cx="1601.7" cy="1840.6" r="2.6"/><circle cx="1607.3" cy="1842.9" r="2.6"/><circle cx="1613" cy="1837.9" r="2.6"/><circle cx="1618.6" cy="1833" r="2.6"/><circle cx="1624.3" cy="1853.1" r="2.6"/><circle cx="1629.9" cy="1838.3" r="2.6"/><circle cx="1635.6" cy="1827.9" r="2.6"/><circle cx="1641.2" cy="1848.6" r="2.6"/><circle cx="1646.9" cy="1838" r="2.6"/><circle cx="1652.6" cy="1847.8" r="2.6"/><circle cx="1658.2" cy="1861.7" r="2.6"/><circle cx="1663.9" cy="1840.5" r="2.6"/><circle cx="1669.5" cy="1849" r="2.6"/><circle cx="1675.2" cy="1840.6" r="2.6"/><circle cx="1680.8" cy="1847.1" r="2.6"/><circle cx="1686.5" cy="1836.5" r="2.6"/><circle cx="1692.1" cy="1862.4" r="2.6"/><circle cx="1697.8" cy="1818.3" r="2.6"/><circle cx="1703.4" cy="1826" r="2.6"/><circle cx="1709.1" cy="1845" r="2.6"/><circle cx="1714.7" cy="1852.8" r="2.6"/><circle cx="1720.4" cy="1841.3" r="2.6"/><circle cx="1726" cy="1835.1" r="2.6"/><circle cx="1731.7" cy="1838.3" r="2.6"/><circle cx="1737.3" cy="1839" r="2.6"/><circle cx="1743" cy="1865.9" r="2.6"/><circle cx="1748.6" cy="1858" r="2.6"/><circle cx="1754.3" cy="1833.4" r="2.6"/><circle cx="1759.9" cy="1846.4" r="2.6"/><circle cx="1765.6" cy="1863.1" r="2.6"/><circle cx="1771.3" cy="1853.3" r="2.6"/><circle cx="1776.9" cy="1858.5" r="2.6"/><circle cx="1782.6" cy="1855.9" r="2.6"/><circle cx="1788.2" cy="1831.7" r="2.6"/><circle cx="1793.9" cy="1844.6" r="2.6"/><circle cx="1799.5" cy="1827" r="2.6"/><circle cx="1805.2" cy="1832.1" r="2.6"/><circle cx="1810.8" cy="1844.4" r="2.6"/><circle cx="1816.5" cy="1830.5" r="2.6"/><circle cx="1822.1" cy="1799.5" r="2.6"/><circle cx="1827.8" cy="1833.7" r="2.6"/><circle cx="1833.4" cy="1840.1" r="2.6"/><circle cx="1839.1" cy="1815.6" r="2.6"/><circle cx="1844.7" cy="1828.3" r="2.6"/><circle cx="1850.4" cy="1830.3" r="2.6"/><circle cx="1856" cy="1812.1" r="2.6"/><circle cx="1861.7" cy="1846.8" r="2.6"/><circle cx="1867.3" cy="1824.8" r="2.6"/><circle cx="1873" cy="1844" r="2.6"/><circle cx="1878.6" cy="1850.6" r="2.6"/><circle cx="1884.3" cy="1844.3" r="2.6"/><circle cx="1889.9" cy="1821.2" r="2.6"/><circle cx="1895.6" cy="1833.7" r="2.6"/><circle cx="1901.3" cy="1851" r="2.6"/><circle cx="1906.9" cy="1842.2" r="2.6"/><circle cx="1912.6" cy="1815.8" r="2.6"/><circle cx="1918.2" cy="1820.7" r="2.6"/><circle cx="1923.9" cy="1843.9" r="2.6"/><circle cx="1929.5" cy="1805.6" r="2.6"/><circle cx="1935.2" cy="1834.2" r="2.6"/><circle cx="1940.8" cy="1843.6" r="2.6"/><circle cx="1946.5" cy="1833.2" r="2.6"/><circle cx="1952.1" cy="1822.6" r="2.6"/><circle cx="1957.8" cy="1815.8" r="2.6"/><circle cx="1963.4" cy="1820.6" r="2.6"/><circle cx="1969.1" cy="1838.7" r="2.6"/><circle cx="1974.7" cy="1843.5" r="2.6"/><circle cx="1980.4" cy="1860.8" r="2.6"/></g>
<path d="M1522.6 1731L1528.2 1727.7L1533.9 1723.8L1539.5 1718.1L1545.2 1719.5L1550.8 1723.8L1556.5 1723.3L1562.1 1721.9L1567.8 1722.9L1573.4 1721.9L1579.1 1723.3L1584.7 1723.8L1590.4 1727.7L1596 1730.1L1601.7 1729.1L1607.3 1728.6L1613 1727.7L1618.6 1727.2L1624.3 1729.6L1629.9 1727.7L1635.6 1725.3L1641.2 1726.2L1646.9 1727.7L1652.6 1723.8L1658.2 1722.9L1663.9 1720L1669.5 1719.5L1675.2 1721.9L1680.8 1723.3L1686.5 1721.4L1692.1 1723.8L1697.8 1726.2L1703.4 1728.1L1709.1 1729.6L1714.7 1732L1720.4 1730.1L1726 1731L1731.7 1730.1L1737.3 1730.1L1743 1733.4L1748.6 1735.8L1754.3 1736.8L1759.9 1738.2L1765.6 1733.4L1771.3 1728.6L1776.9 1728.6L1782.6 1732.5L1788.2 1732L1793.9 1735.8L1799.5 1734.4L1805.2 1728.6L1810.8 1719L1816.5 1710.9L1822.1 1708.5L1827.8 1710.4L1833.4 1716.6L1839.1 1720.5L1844.7 1727.2L1850.4 1733.9L1856 1734.4L1861.7 1740.6L1867.3 1752.6L1873 1764.6L1878.6 1774.2L1884.3 1780.4L1889.9 1784.7L1895.6 1788.5L1901.3 1790L1906.9 1787.1L1912.6 1787.6L1918.2 1787.6L1923.9 1787.1L1929.5 1785.7L1935.2 1784.2L1940.8 1785.2L1946.5 1787.1L1952.1 1786.2L1957.8 1784.7L1963.4 1784.7L1969.1 1789.5L1974.7 1792.4L1980.4 1783.8" fill="none" stroke="#2f62f0" stroke-width="2.6" stroke-linejoin="round"/>
<path d="M1522.6 1795.7L1528.2 1802L1533.9 1800.1L1539.5 1798.1L1545.2 1798.1L1550.8 1800.1L1556.5 1800.1L1562.1 1799.6L1567.8 1799.1L1573.4 1800.5L1579.1 1801L1584.7 1801.5L1590.4 1802L1596 1802L1601.7 1802.5L1607.3 1801.5L1613 1800.5L1618.6 1801L1624.3 1802.5L1629.9 1801.5L1635.6 1799.6L1641.2 1800.1L1646.9 1801L1652.6 1800.5L1658.2 1801L1663.9 1801L1669.5 1802L1675.2 1802.9L1680.8 1803.9L1686.5 1804.9L1692.1 1806.8L1697.8 1808.7L1703.4 1811.1L1709.1 1811.6L1714.7 1812L1720.4 1812.5L1726 1812L1731.7 1810.6L1737.3 1809.6L1743 1810.6L1748.6 1812.5L1754.3 1813L1759.9 1813L1765.6 1811.1L1771.3 1808.7L1776.9 1808.7L1782.6 1810.1L1788.2 1811.6L1793.9 1816.4L1799.5 1818.8L1805.2 1815.9L1810.8 1812.5L1816.5 1809.2L1822.1 1807.2L1827.8 1807.2L1833.4 1811.1L1839.1 1817.3L1844.7 1823.6L1850.4 1828.3L1856 1833.1L1861.7 1838.9L1867.3 1847.5L1873 1856.6L1878.6 1863.8L1884.3 1870.1L1889.9 1875.8L1895.6 1879.2L1901.3 1881.1L1906.9 1879.6L1912.6 1879.2L1918.2 1879.6L1923.9 1878.2L1929.5 1877.3L1935.2 1877.3L1940.8 1877.7L1946.5 1879.6L1952.1 1877.3L1957.8 1870.1L1963.4 1868.6L1969.1 1865.3L1974.7 1861.9L1980.4 1846.1L1986 1797.2" fill="none" stroke="#3a3a3a" stroke-width="2.6" stroke-linejoin="round"/>
<path d="M1522.6 1859.5L1528.2 1849.4L1533.9 1848L1539.5 1842.7L1545.2 1844.6L1550.8 1846.1L1556.5 1845.1L1562.1 1845.1L1567.8 1846.1L1573.4 1843.7L1579.1 1844.6L1584.7 1845.1L1590.4 1848.5L1596 1851.4L1601.7 1849.4L1607.3 1849.9L1613 1849.9L1618.6 1849.4L1624.3 1849.9L1629.9 1849.4L1635.6 1848.5L1641.2 1848.5L1646.9 1849.4L1652.6 1846.1L1658.2 1844.6L1663.9 1841.8L1669.5 1840.3L1675.2 1841.8L1680.8 1842.2L1686.5 1839.9L1692.1 1839.9L1697.8 1840.3L1703.4 1840.3L1709.1 1841.3L1714.7 1843.2L1720.4 1841.3L1726 1842.2L1731.7 1842.7L1737.3 1843.2L1743 1845.1L1748.6 1846.1L1754.3 1847.5L1759.9 1849L1765.6 1847L1771.3 1844.2L1776.9 1843.2L1782.6 1845.1L1788.2 1844.2L1793.9 1842.2L1799.5 1838.9L1805.2 1834.1L1810.8 1828.3L1816.5 1823.6L1822.1 1824L1827.8 1825.5L1833.4 1828.8L1839.1 1828.8L1844.7 1829.3L1850.4 1830.3L1856 1827.9L1861.7 1827.9L1867.3 1829.3L1873 1832.7L1878.6 1835.5L1884.3 1835.5L1889.9 1833.6L1895.6 1832.2L1901.3 1831.2L1906.9 1830.3L1912.6 1832.2L1918.2 1831.7L1923.9 1832.2L1929.5 1831.7L1935.2 1830.3L1940.8 1830.7L1946.5 1831.7L1952.1 1832.7L1957.8 1833.1L1963.4 1831.7L1969.1 1834.1L1974.7 1837.5L1980.4 1845.1" fill="none" stroke="#ee2a2e" stroke-width="2.6" stroke-linejoin="round"/>
<rect x="1516.9" y="1539.3" width="481.2" height="383.5" fill="none" stroke="#000" stroke-width="1.9"/><path d="M1516.9 1922.8h-7M1998.1 1922.8h-7M1516.9 1874.9h-4M1998.1 1874.9h-4M1516.9 1826.9h-7M1998.1 1826.9h-7M1516.9 1779h-4M1998.1 1779h-4M1516.9 1731h-7M1998.1 1731h-7M1516.9 1683.1h-4M1998.1 1683.1h-4M1516.9 1635.1h-7M1998.1 1635.1h-7M1516.9 1587.2h-4M1998.1 1587.2h-4M1516.9 1539.2h-7M1998.1 1539.2h-7M1516.9 1922.8v6M1516.9 1539.3v6M1545.2 1922.8v3.5M1545.2 1539.3v3.5M1573.4 1922.8v6M1573.4 1539.3v6M1601.7 1922.8v3.5M1601.7 1539.3v3.5M1629.9 1922.8v6M1629.9 1539.3v6M1658.2 1922.8v3.5M1658.2 1539.3v3.5M1686.5 1922.8v6M1686.5 1539.3v6M1714.7 1922.8v3.5M1714.7 1539.3v3.5M1743 1922.8v6M1743 1539.3v6M1771.3 1922.8v3.5M1771.3 1539.3v3.5M1799.5 1922.8v6M1799.5 1539.3v6M1827.8 1922.8v3.5M1827.8 1539.3v3.5M1856 1922.8v6M1856 1539.3v6M1884.3 1922.8v3.5M1884.3 1539.3v3.5M1912.6 1922.8v6M1912.6 1539.3v6M1940.8 1922.8v3.5M1940.8 1539.3v3.5M1969.1 1922.8v6M1969.1 1539.3v6M1997.3 1922.8v3.5M1997.3 1539.3v3.5" stroke="#000" stroke-width="1.9" fill="none"/>
<text x="1503" y="1932.6" font-size="31.5" text-anchor="end">0</text>
<text x="1503" y="1836.7" font-size="31.5" text-anchor="end">2</text>
<text x="1503" y="1740.8" font-size="31.5" text-anchor="end">4</text>
<text x="1503" y="1644.9" font-size="31.5" text-anchor="end">6</text>
<text x="1503" y="1549" font-size="31.5" text-anchor="end">8</text>
<text x="1516.9" y="1961.4" font-size="31.5" text-anchor="middle">0</text>
<text x="1573.4" y="1961.4" font-size="31.5" text-anchor="middle">10</text>
<text x="1629.9" y="1961.4" font-size="31.5" text-anchor="middle">20</text>
<text x="1686.5" y="1961.4" font-size="31.5" text-anchor="middle">30</text>
<text x="1743" y="1961.4" font-size="31.5" text-anchor="middle">40</text>
<text x="1799.5" y="1961.4" font-size="31.5" text-anchor="middle">50</text>
<text x="1856" y="1961.4" font-size="31.5" text-anchor="middle">60</text>
<text x="1912.6" y="1961.4" font-size="31.5" text-anchor="middle">70</text>
<text x="1969.1" y="1961.4" font-size="31.5" text-anchor="middle">80</text>
<text x="1756.4" y="1994.3" font-size="32" text-anchor="middle">line index</text>
<text x="1465" y="1731" font-size="32" text-anchor="middle" transform="rotate(-90 1465 1731)">Density (#/m<tspan font-size="21" dy="-11">2</tspan><tspan dy="11">)</tspan></text>
<text x="1518.5" y="1530" font-size="29">×10<tspan font-size="20" dy="-12">11</tspan></text>
<text x="1416.5" y="1530" font-size="50" font-weight="bold">h</text>
<path d="M1555 1569.8H1629.2" stroke="#3a3a3a" stroke-width="2.6"/><text x="1638.6" y="1580.1" font-size="32">plateau</text>
<path d="M1555 1609.9H1629.2" stroke="#ee2a2e" stroke-width="2.6"/><text x="1638.6" y="1620.2" font-size="32">valley</text>
<path d="M1555 1650H1629.2" stroke="#2f62f0" stroke-width="2.6"/><text x="1638.6" y="1660.3" font-size="32">both</text>

</svg>
</body></html>
